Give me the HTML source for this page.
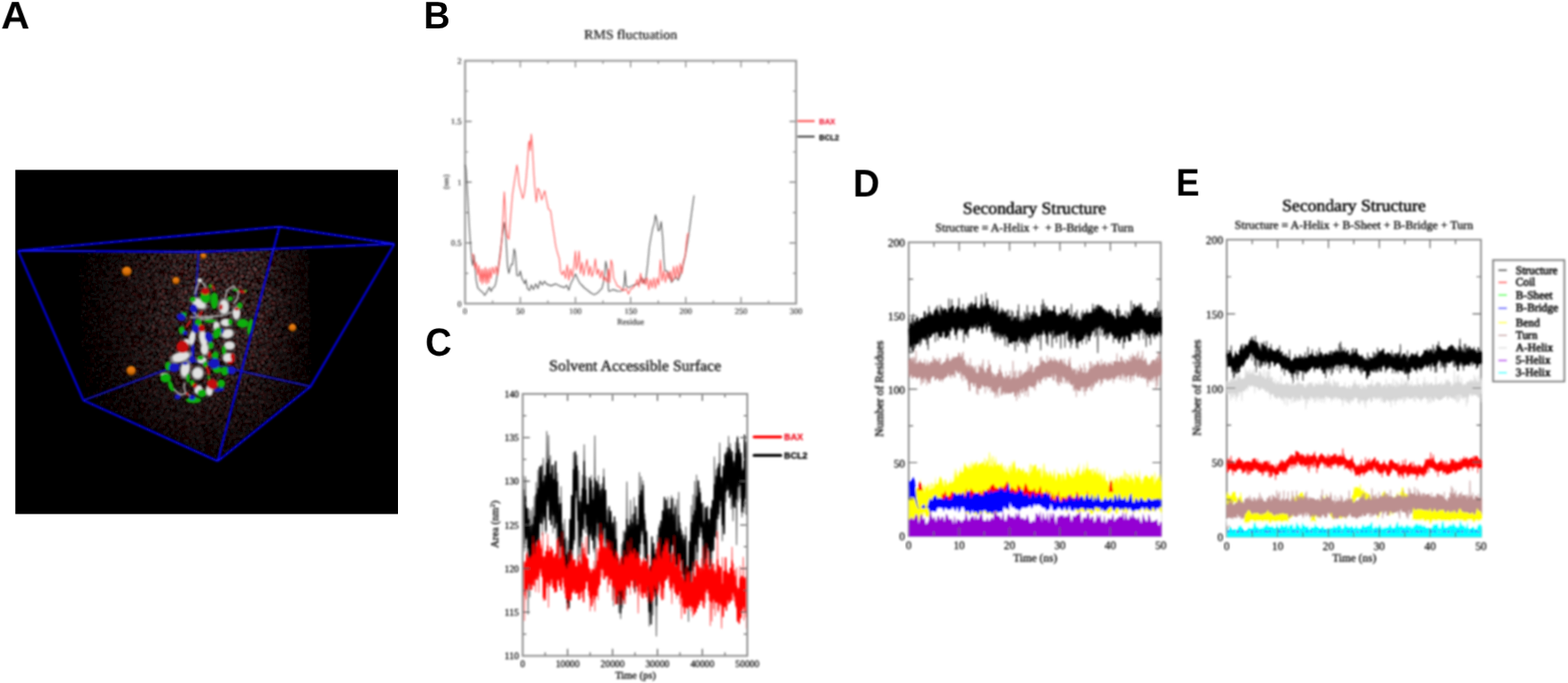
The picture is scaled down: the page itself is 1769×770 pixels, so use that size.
<!DOCTYPE html>
<html><head><meta charset="utf-8"><title>Figure</title>
<style>html,body{margin:0;padding:0;background:#fff}svg{display:block}</style></head>
<body>
<svg width="1769" height="770" viewBox="0 0 1769 770" text-rendering="geometricPrecision">
<defs><filter id="b" x="-5%" y="-5%" width="110%" height="110%"><feGaussianBlur stdDeviation="0.8"/></filter><filter id="bt" x="-10%" y="-20%" width="120%" height="140%"><feGaussianBlur stdDeviation="0.8"/></filter><filter id="b2" x="-5%" y="-5%" width="110%" height="110%"><feGaussianBlur stdDeviation="1.0"/></filter><filter id="b3" x="-5%" y="-5%" width="110%" height="110%"><feGaussianBlur stdDeviation="0.45"/></filter><clipPath id="wc"><polygon points="88,284 348,281 351,434 245.5,517 95.5,449"/></clipPath><filter id="wt" x="0" y="0" width="100%" height="100%" color-interpolation-filters="sRGB"><feTurbulence type="fractalNoise" baseFrequency="0.55" numOctaves="2" seed="5"/><feColorMatrix type="matrix" values="6 0 0 0 -3.25  0 6 0 0 -3.25  0 0 0 0 0  0 0 0 0 1"/><feColorMatrix type="matrix" values=".36 .4 0 0 .0  .03 .4 0 0 .0  .03 .4 0 0 .0  0 0 0 0 1"/></filter><linearGradient id="wg" x1="0" y1="0" x2="1" y2="0"><stop offset="0" stop-color="#000" stop-opacity=".75"/><stop offset=".35" stop-color="#000" stop-opacity=".2"/><stop offset=".55" stop-color="#000" stop-opacity="0"/><stop offset=".8" stop-color="#000" stop-opacity=".0"/><stop offset="1" stop-color="#000" stop-opacity=".55"/></linearGradient><radialGradient id="wr" gradientUnits="userSpaceOnUse" cx="215" cy="335" r="185"><stop offset="0" stop-color="#000" stop-opacity="0"/><stop offset=".45" stop-color="#000" stop-opacity=".12"/><stop offset=".8" stop-color="#000" stop-opacity=".5"/><stop offset="1" stop-color="#000" stop-opacity=".7"/></radialGradient><radialGradient id="og" cx=".5" cy=".25" r=".8"><stop offset="0" stop-color="#f08408"/><stop offset=".5" stop-color="#d87008"/><stop offset="1" stop-color="#6a3200"/></radialGradient></defs>
<rect width="1769" height="770" fill="#fff"/>
<text transform="translate(1.23 32.22) rotate(0.03) scale(1.024 1)" font-family='"Liberation Sans",sans-serif' font-weight="bold" font-size="43.59" fill="#000" filter="url(#b3)">A</text>
<text transform="translate(477.95 32.0) rotate(0.03) scale(0.9514 1)" font-family='"Liberation Sans",sans-serif' font-weight="bold" font-size="43.39" fill="#000" filter="url(#b3)">B</text>
<text transform="translate(479.76 400.87) rotate(0.03) scale(0.9341 1)" font-family='"Liberation Sans",sans-serif' font-weight="bold" font-size="44.23" fill="#000" filter="url(#b3)">C</text>
<text transform="translate(962.43 221.53) rotate(0.03) scale(0.9542 1)" font-family='"Liberation Sans",sans-serif' font-weight="bold" font-size="43.53" fill="#000" filter="url(#b3)">D</text>
<text transform="translate(1326.77 220.5) rotate(0.03) scale(0.9188 1)" font-family='"Liberation Sans",sans-serif' font-weight="bold" font-size="43.23" fill="#000" filter="url(#b3)">E</text>
<g id="panelA">
<rect x="17.3" y="191.5" width="431.7" height="388" fill="#000" filter="url(#b3)"/>
<g filter="url(#b)"><g clip-path="url(#wc)"><rect x="80" y="276" width="280" height="246" filter="url(#wt)"/><rect x="88" y="276" width="264" height="246" fill="url(#wg)"/><rect x="80" y="276" width="280" height="246" fill="url(#wr)"/></g></g>
<path d="M94.1 451.3L216.4 406M350.5 435.7L216.4 406M224 284L216.4 406" stroke="#1212c4" stroke-width="1.9" fill="none" filter="url(#b)"/>
<g filter="url(#b2)">
<circle cx="143" cy="306" r="5.6" fill="url(#og)"/>
<circle cx="198.5" cy="316.5" r="4.2" fill="url(#og)"/>
<circle cx="229.5" cy="288.5" r="3.4" fill="url(#og)"/>
<circle cx="330" cy="369.5" r="4.4" fill="url(#og)"/>
<circle cx="148" cy="418" r="5.4" fill="url(#og)"/>
</g>
<g filter="url(#b2)">
<polyline points="254.2,336 255.8,327.3 263.6,322.6 269.1,329.6 267.5,337.4 263.6,342.1" fill="none" stroke="#a4a4a4" stroke-width="2" stroke-linecap="round" stroke-linejoin="round"/>
<polyline points="225.4,316.4 222,324 219.9,331.2" fill="none" stroke="#a4a4a4" stroke-width="2" stroke-linecap="round" stroke-linejoin="round"/>
<polyline points="226,316 231,322 232,327" fill="none" stroke="#a4a4a4" stroke-width="2" stroke-linecap="round" stroke-linejoin="round"/>
<polyline points="215,358 232,357 250,356 262,352" fill="none" stroke="#a4a4a4" stroke-width="2" stroke-linecap="round" stroke-linejoin="round"/>
<polyline points="208.2,432.4 207.5,437 209,442" fill="none" stroke="#a4a4a4" stroke-width="2" stroke-linecap="round" stroke-linejoin="round"/>
<polyline points="196.5,438.7 201,443.4 205,445" fill="none" stroke="#a4a4a4" stroke-width="2" stroke-linecap="round" stroke-linejoin="round"/>
<polyline points="205,445 210,443 214,446" fill="none" stroke="#a4a4a4" stroke-width="2" stroke-linecap="round" stroke-linejoin="round"/>
<polyline points="218,352 228,360 240,358" fill="none" stroke="#a4a4a4" stroke-width="2" stroke-linecap="round" stroke-linejoin="round"/>
<ellipse cx="225.4" cy="316" rx="3" ry="2.5" fill="#808080"/>
<ellipse cx="224.6" cy="342.1" rx="10.6" ry="6.1" fill="#808080" transform="rotate(30 224.6 342.1)"/>
<ellipse cx="252.7" cy="346" rx="6.6" ry="10.1" fill="#808080"/>
<ellipse cx="266.7" cy="353" rx="5.1" ry="8.6" fill="#808080"/>
<ellipse cx="255" cy="363.7" rx="7.1" ry="5.1" fill="#808080"/>
<ellipse cx="244.1" cy="367.6" rx="4.1" ry="6.1" fill="#808080"/>
<ellipse cx="256.6" cy="376.2" rx="8.1" ry="6.1" fill="#808080" transform="rotate(-15 256.6 376.2)"/>
<ellipse cx="258.9" cy="389.5" rx="7.1" ry="5.6" fill="#808080"/>
<ellipse cx="258.1" cy="401.9" rx="7.1" ry="4.6" fill="#808080"/>
<ellipse cx="216.8" cy="380.9" rx="4.1" ry="10.1" fill="#808080" transform="rotate(10 216.8 380.9)"/>
<ellipse cx="229.3" cy="381.7" rx="5.1" ry="12.2" fill="#808080" transform="rotate(-10 229.3 381.7)"/>
<ellipse cx="230.8" cy="393.4" rx="5.1" ry="8.1" fill="#808080"/>
<ellipse cx="203.5" cy="401.2" rx="12.2" ry="5.1" fill="#808080" transform="rotate(-15 203.5 401.2)"/>
<ellipse cx="210.6" cy="385.6" rx="4.1" ry="4.1" fill="#808080"/>
<ellipse cx="204.3" cy="402.8" rx="13.2" ry="5.6" fill="#808080" transform="rotate(-20 204.3 402.8)"/>
<ellipse cx="209" cy="416.1" rx="6.1" ry="11.2" fill="#808080" transform="rotate(10 209 416.1)"/>
<ellipse cx="223" cy="420.7" rx="7.6" ry="8.1" fill="#808080" transform="rotate(20 223 420.7)"/>
<ellipse cx="257.4" cy="403.6" rx="7.1" ry="6.1" fill="#808080"/>
<ellipse cx="227.7" cy="405.9" rx="6.1" ry="4.6" fill="#808080"/>
<ellipse cx="223.8" cy="439.5" rx="5.1" ry="6.1" fill="#808080" transform="rotate(20 223.8 439.5)"/>
<ellipse cx="236.3" cy="440.2" rx="4.6" ry="7.1" fill="#808080"/>
<ellipse cx="185.6" cy="422.3" rx="5.1" ry="2.5" fill="#808080"/>
<ellipse cx="225.4" cy="316" rx="2.2" ry="1.9" fill="#e2e2e2"/>
<ellipse cx="224.6" cy="342.1" rx="7.8" ry="4.4" fill="#e2e2e2" transform="rotate(30 224.6 342.1)"/>
<ellipse cx="252.7" cy="346" rx="4.8" ry="7.4" fill="#e2e2e2"/>
<ellipse cx="266.7" cy="353" rx="3.7" ry="6.3" fill="#e2e2e2"/>
<ellipse cx="255" cy="363.7" rx="5.2" ry="3.7" fill="#e2e2e2"/>
<ellipse cx="244.1" cy="367.6" rx="3" ry="4.4" fill="#e2e2e2"/>
<ellipse cx="256.6" cy="376.2" rx="5.9" ry="4.4" fill="#e2e2e2" transform="rotate(-15 256.6 376.2)"/>
<ellipse cx="258.9" cy="389.5" rx="5.2" ry="4.1" fill="#e2e2e2"/>
<ellipse cx="258.1" cy="401.9" rx="5.2" ry="3.3" fill="#e2e2e2"/>
<ellipse cx="216.8" cy="380.9" rx="3" ry="7.4" fill="#e2e2e2" transform="rotate(10 216.8 380.9)"/>
<ellipse cx="229.3" cy="381.7" rx="3.7" ry="8.9" fill="#e2e2e2" transform="rotate(-10 229.3 381.7)"/>
<ellipse cx="230.8" cy="393.4" rx="3.7" ry="5.9" fill="#e2e2e2"/>
<ellipse cx="203.5" cy="401.2" rx="8.9" ry="3.7" fill="#e2e2e2" transform="rotate(-15 203.5 401.2)"/>
<ellipse cx="210.6" cy="385.6" rx="3" ry="3" fill="#e2e2e2"/>
<ellipse cx="204.3" cy="402.8" rx="9.6" ry="4.1" fill="#e2e2e2" transform="rotate(-20 204.3 402.8)"/>
<ellipse cx="209" cy="416.1" rx="4.4" ry="8.2" fill="#e2e2e2" transform="rotate(10 209 416.1)"/>
<ellipse cx="223" cy="420.7" rx="5.6" ry="5.9" fill="#e2e2e2" transform="rotate(20 223 420.7)"/>
<ellipse cx="257.4" cy="403.6" rx="5.2" ry="4.4" fill="#e2e2e2"/>
<ellipse cx="227.7" cy="405.9" rx="4.4" ry="3.3" fill="#e2e2e2"/>
<ellipse cx="223.8" cy="439.5" rx="3.7" ry="4.4" fill="#e2e2e2" transform="rotate(20 223.8 439.5)"/>
<ellipse cx="236.3" cy="440.2" rx="3.3" ry="5.2" fill="#e2e2e2"/>
<ellipse cx="185.6" cy="422.3" rx="3.7" ry="1.9" fill="#e2e2e2"/>
<ellipse cx="231.6" cy="335.1" rx="6" ry="6.9" fill="#0fae0f"/>
<ellipse cx="241.8" cy="339" rx="4.3" ry="9.4" fill="#0fae0f"/>
<ellipse cx="217.6" cy="337.4" rx="3.4" ry="3" fill="#0fae0f"/>
<ellipse cx="237.1" cy="322.6" rx="1.9" ry="2.4" fill="#0fae0f"/>
<ellipse cx="259.7" cy="336.7" rx="3" ry="2.6" fill="#0fae0f"/>
<ellipse cx="270.6" cy="344.5" rx="3" ry="3.4" fill="#0fae0f"/>
<ellipse cx="265.9" cy="326.9" rx="3.4" ry="1.3" fill="#0fae0f"/>
<ellipse cx="276.9" cy="328.1" rx="1.7" ry="1.7" fill="#0fae0f"/>
<ellipse cx="273.7" cy="364.5" rx="6.4" ry="5.1" fill="#0fae0f"/>
<ellipse cx="282.3" cy="368.4" rx="3" ry="9.4" fill="#0fae0f" transform="rotate(10 282.3 368.4)"/>
<ellipse cx="237.1" cy="361.8" rx="6.9" ry="2.1" fill="#0fae0f"/>
<ellipse cx="223.8" cy="363.7" rx="3.9" ry="4.3" fill="#0fae0f"/>
<ellipse cx="205.1" cy="372.3" rx="3.4" ry="4.3" fill="#0fae0f"/>
<ellipse cx="244.9" cy="375.4" rx="4.3" ry="6.9" fill="#0fae0f" transform="rotate(20 244.9 375.4)"/>
<ellipse cx="259.7" cy="362.9" rx="2.6" ry="3.4" fill="#0fae0f"/>
<ellipse cx="237.9" cy="389.5" rx="3" ry="3.9" fill="#0fae0f"/>
<ellipse cx="252.7" cy="394.9" rx="2.6" ry="5.1" fill="#0fae0f"/>
<ellipse cx="242.5" cy="401.2" rx="3.4" ry="3.4" fill="#0fae0f"/>
<ellipse cx="226.2" cy="403.1" rx="3.4" ry="2.1" fill="#0fae0f"/>
<ellipse cx="207.4" cy="354.4" rx="3.4" ry="2.6" fill="#0fae0f"/>
<ellipse cx="189.5" cy="412.6" rx="3.4" ry="5.1" fill="#0fae0f"/>
<ellipse cx="186.8" cy="426.2" rx="6" ry="5.1" fill="#0fae0f"/>
<ellipse cx="192.6" cy="434.8" rx="2.6" ry="6" fill="#0fae0f" transform="rotate(-15 192.6 434.8)"/>
<ellipse cx="195" cy="439.5" rx="2.6" ry="1.7" fill="#0fae0f"/>
<ellipse cx="226.2" cy="403.6" rx="3.4" ry="2.6" fill="#0fae0f"/>
<ellipse cx="243.3" cy="400.5" rx="3.4" ry="4.3" fill="#0fae0f"/>
<ellipse cx="244.9" cy="416.8" rx="5.1" ry="3.9" fill="#0fae0f"/>
<ellipse cx="253.5" cy="418.4" rx="4.3" ry="5.1" fill="#0fae0f"/>
<ellipse cx="249.6" cy="432.4" rx="4.3" ry="4.7" fill="#0fae0f"/>
<ellipse cx="212.1" cy="426.2" rx="2.1" ry="5.1" fill="#0fae0f"/>
<ellipse cx="216.8" cy="431.7" rx="2.6" ry="3.4" fill="#0fae0f"/>
<ellipse cx="227.7" cy="443.4" rx="5.1" ry="4.3" fill="#0fae0f"/>
<ellipse cx="218.4" cy="451.2" rx="8.6" ry="3.4" fill="#0fae0f"/>
<ellipse cx="231.6" cy="410.6" rx="2.6" ry="3.4" fill="#0fae0f"/>
<ellipse cx="235.5" cy="425.4" rx="1.3" ry="2.6" fill="#0fae0f"/>
<ellipse cx="218.4" cy="347.6" rx="3.9" ry="4.7" fill="#1212c0"/>
<ellipse cx="218.4" cy="348.1" rx="4.3" ry="4.3" fill="#1212c0"/>
<ellipse cx="204.3" cy="357.5" rx="5.1" ry="4.3" fill="#1212c0" transform="rotate(20 204.3 357.5)"/>
<ellipse cx="220.7" cy="370.7" rx="3.9" ry="5.1" fill="#1212c0"/>
<ellipse cx="235.5" cy="380.1" rx="4.3" ry="6" fill="#1212c0" transform="rotate(-20 235.5 380.1)"/>
<ellipse cx="209" cy="375.4" rx="2.6" ry="2.6" fill="#1212c0"/>
<ellipse cx="217.6" cy="394.9" rx="1.7" ry="6.9" fill="#1212c0"/>
<ellipse cx="251.1" cy="373.1" rx="1.3" ry="3.4" fill="#1212c0"/>
<ellipse cx="196.5" cy="414.5" rx="6" ry="5.1" fill="#1212c0"/>
<ellipse cx="241.8" cy="409.8" rx="6" ry="6" fill="#1212c0"/>
<ellipse cx="261.3" cy="417.6" rx="4.7" ry="4.7" fill="#1212c0"/>
<ellipse cx="247.2" cy="439.5" rx="6" ry="2.1" fill="#1212c0" transform="rotate(-10 247.2 439.5)"/>
<ellipse cx="200.4" cy="447.3" rx="3.4" ry="3" fill="#1212c0"/>
<ellipse cx="216.8" cy="448" rx="3.4" ry="3" fill="#1212c0"/>
<ellipse cx="216.8" cy="405.1" rx="3.4" ry="4.3" fill="#1212c0"/>
<ellipse cx="209" cy="409.8" rx="3" ry="1.7" fill="#1212c0"/>
<ellipse cx="231.6" cy="328.5" rx="4.7" ry="3.9" fill="#c40e0e"/>
<ellipse cx="273" cy="328.9" rx="3.9" ry="1.7" fill="#c40e0e" transform="rotate(15 273 328.9)"/>
<ellipse cx="241" cy="324.2" rx="1.3" ry="3.4" fill="#c40e0e" transform="rotate(-20 241 324.2)"/>
<ellipse cx="249.6" cy="346" rx="1.7" ry="3" fill="#c40e0e"/>
<ellipse cx="227.7" cy="370" rx="3.4" ry="3.9" fill="#c40e0e"/>
<ellipse cx="205.9" cy="391" rx="6.9" ry="6.9" fill="#c40e0e"/>
<ellipse cx="212.5" cy="365.3" rx="1.3" ry="5.1" fill="#c40e0e" transform="rotate(35 212.5 365.3)"/>
<ellipse cx="226.6" cy="353.6" rx="1.3" ry="4.3" fill="#c40e0e" transform="rotate(30 226.6 353.6)"/>
<ellipse cx="262" cy="401.6" rx="2.1" ry="3" fill="#c40e0e"/>
<ellipse cx="249.2" cy="347.3" rx="1.7" ry="2.1" fill="#c40e0e"/>
<ellipse cx="267.1" cy="348.5" rx="2.6" ry="1.7" fill="#c40e0e"/>
<ellipse cx="236.3" cy="399.6" rx="1.7" ry="3.4" fill="#c40e0e"/>
<ellipse cx="239.4" cy="433.2" rx="6" ry="5.6" fill="#c40e0e" transform="rotate(35 239.4 433.2)"/>
<ellipse cx="262.8" cy="403.6" rx="2.1" ry="5.1" fill="#c40e0e"/>
<ellipse cx="259.7" cy="408.7" rx="3.4" ry="1.7" fill="#c40e0e"/>
<ellipse cx="219.9" cy="434.8" rx="2.6" ry="2.6" fill="#c40e0e"/>
<ellipse cx="234.7" cy="417.6" rx="1.7" ry="5.1" fill="#c40e0e" transform="rotate(-15 234.7 417.6)"/>
<ellipse cx="236.3" cy="399.7" rx="1.7" ry="3.4" fill="#c40e0e"/>
<ellipse cx="211.3" cy="444.1" rx="1.7" ry="2.1" fill="#c40e0e"/>
<ellipse cx="206.7" cy="395" rx="5.1" ry="2.1" fill="#c40e0e"/>
</g>
<path d="M20.4 282.6L315.2 255.6M315.2 255.6L445 275M445 275L224 284M224 284L20.4 282.6M20.4 282.6L94.1 451.3M315.2 255.6L245.6 519.9M445 275L350.5 435.7M94.1 451.3L245.6 519.9M245.6 519.9L350.5 435.7" stroke="#0707e4" stroke-width="2.3" fill="none" stroke-linejoin="round" filter="url(#b)"/>
</g>
<g id="panelB" filter="url(#b)">
<path d="M555.8 342.3v-3.5M555.8 68.5v3.5M587 342.3v-7.5M587 68.5v7.5M618.1 342.3v-3.5M618.1 68.5v3.5M649.2 342.3v-7.5M649.2 68.5v7.5M680.3 342.3v-3.5M680.3 68.5v3.5M711.5 342.3v-7.5M711.5 68.5v7.5M742.6 342.3v-3.5M742.6 68.5v3.5M773.7 342.3v-7.5M773.7 68.5v7.5M804.8 342.3v-3.5M804.8 68.5v3.5M836 342.3v-7.5M836 68.5v7.5M867.1 342.3v-3.5M867.1 68.5v3.5M524.7 308.1h3.5M898.2 308.1h-3.5M524.7 273.9h7.5M898.2 273.9h-7.5M524.7 239.6h3.5M898.2 239.6h-3.5M524.7 205.4h7.5M898.2 205.4h-7.5M524.7 171.2h3.5M898.2 171.2h-3.5M524.7 136.9h7.5M898.2 136.9h-7.5M524.7 102.7h3.5M898.2 102.7h-3.5" stroke="#6a6a6a" stroke-width="1.1" fill="none"/>
<rect x="524.7" y="68.5" width="373.5" height="273.8" fill="none" stroke="#949494" stroke-width="2.1"/>
<polyline points="524.7,185.7 525.9,191.7 527.8,225.9 529.7,260.2 532.2,293 533.4,299.5 534.7,287.5 535.9,300.3 537.2,315.9 539,324.6 542.1,327.7 544.6,329.6 546.9,333 549.6,328.6 552.1,323.8 554,328.5 555.8,324.9 558.3,322.6 559.6,318.2 562.1,302.5 565,279.3 567,262.9 568.9,250.6 570.8,267 572.6,300.3 574.1,308.2 575.7,301.6 576.7,298.1 578.2,298.3 580.1,280.7 581.3,284.8 583.2,310.6 585.7,310.7 587,305.5 588.8,313.7 591.9,319.8 593.2,315.4 595,325.2 597.5,327.4 599.4,321.3 601.9,326.4 604.4,320 606.9,325.2 609.4,317 611.9,321.3 614.3,317.1 616.8,320.4 621.8,322.1 626.8,320.1 631.8,322.6 636.8,324.1 639.2,321.6 641.7,327.1 644.2,319.2 646.7,314.4 649.2,308.8 651.7,314.6 654.2,319.3 656,321 659.2,324.5 662.9,327.3 666.6,330.3 670.4,332.2 674.1,330.3 676.6,327.7 679.1,325.1 681.6,315.1 683.4,294.6 685.3,304.7 686.6,328.1 687.8,328.3 691.5,326.4 696.5,328.1 700.2,328.2 702.7,326.9 704.4,318.7 705.2,305.2 706.5,322.5 709,324.2 713.9,321.9 717.7,320.6 721.4,319.2 723.9,312.9 726.4,319.2 728.9,312.7 730.7,297.9 732.6,278 734.5,267 736.4,257.4 738.2,251.9 739.5,242.4 741.3,249.2 742.6,260.2 744.4,258.8 745.9,249.9 747.6,267 748.8,290.3 750,305.3 752.5,305.4 755,309.3 757.5,318.3 760,315.2 762.5,311.8 765,316 767.5,310.3 770,301.4 772,293 773.7,284.8 775.6,273.9 777.1,264.3 778.7,251.9 780.5,238.3 783,220.5" fill="none" stroke="#3c3c3c" stroke-width="1.15" stroke-linejoin="round" opacity="0.85"/>
<polyline points="533.4,285.8 534.7,292.9 535.9,303 537.2,295.8 539,309.7 540.3,299.4 541.5,317.4 542.8,303.7 544,320.2 545.2,303.4 546.5,318.1 547.7,301.4 549,320.2 550.2,303.5 551.5,318.6 552.7,302.1 554,313.8 555.8,301.2 557.7,308.9 559.6,300.2 561.4,309.8 562.5,301.6 564.5,287.3 566.4,267 567.7,239.6 568.9,216.4 569.9,232.8 571,257.4 572.6,267 574.1,269.7 575.7,249.2 578.2,219.1 580.7,202.7 583.2,186.2 584.5,194.4 585.7,208.1 587.6,215 589.8,223.9 591.3,219.1 593.2,205.4 595,184.9 596.3,161.6 597.3,158.9 598.2,169.8 599.4,151.3 600.6,164.3 601.9,189 603.1,208.1 605.1,228 606.9,212.2 608.7,215 611.2,225.3 613.1,219.1 614.6,215 615.8,221.8 617.1,228 618.7,235.5 621.2,237.6 622.4,246.5 623.7,256.1 625.5,267 626.8,276.6 628.7,284.3 629.5,286.9 631.1,292 632.4,305.9 634.3,309.7 636.1,305 638,314 639.9,298.5 641.7,316 643.6,303.1 645.5,312.2 647.3,301.4 649.2,283.2 650.4,304 651.7,297.7 653.3,283 654.8,308.2 656.7,295.9 658.5,311 660.4,300.9 662.3,292.6 664.1,310.3 666,300 667.9,311.9 669.7,306 671.6,291.8 673.5,309.4 675.3,303.4 677.2,313.5 679.1,305.2 680.9,316 682.8,312.7 684.7,317.9 686.6,303.6 687.8,318.5 689.4,293.1 690.9,298 692.2,313.3 694,316.9 696.5,322.6 699,323.3 701.5,326.4 704,327.6 706.5,325.4 709,331.5 711.5,326 713.9,324.9 716.4,321.6 718.9,315.1 720.8,323.5 722.7,308.2 724.5,319.8 726.4,314.4 728.3,321.1 730.1,313.4 732,326.6 733.9,315.2 735.7,324.4 737.6,313.4 739.5,325.1 741.3,313.4 743.2,321.4 745.1,293.1 746.9,316.6 748.8,305.7 750.7,318.3 752.5,307.1 754.4,314.3 756.3,305.6 758.1,317.1 760,300.4 761.9,313.9 763.7,299.5 765.6,313.2 767.5,297 769.3,308.2 771.2,293.6 773.1,288.8 774.3,273.9 775.6,264.3 776.6,262.9" fill="none" stroke="#ff4040" stroke-width="1.2" stroke-linejoin="round" opacity="0.8"/>
<path d="M899.5 136.5h19.5" stroke="#ff5050" stroke-width="2.2"/>
<path d="M899.5 154h19.5" stroke="#444" stroke-width="2.2"/>
</g>
<g id="panelC" filter="url(#b)">
<polyline points="590.7,536.3 591.7,621.4 592.7,537.4 593.7,608 594.7,574.3 595.7,692.3 596.7,573.5 597.7,672.9 598.7,575.7 599.7,641 600.8,572 601.8,646 602.8,559.6 603.8,634 604.8,543.9 605.8,621.6 606.8,530 607.8,595 608.8,539.6 609.8,589.8 610.8,524 611.8,603.2 612.8,516.6 613.8,586.3 614.8,549.5 615.8,601.4 616.8,486.4 617.8,569.7 618.9,491 619.9,565.8 620.9,513.7 621.9,576 622.9,528.7 623.9,600.8 624.9,523.8 625.9,582.9 626.9,543.3 627.9,607.9 628.9,533.3 629.9,630.2 630.9,560.3 631.9,642.4 632.9,548.7 633.9,640.6 634.9,590.2 635.9,646 637,585.5 638,652.1 639,606 640,686.5 641,609.4 642,670.1 643,590.6 644,641.6 645,566.1 646,637.1 647,510.3 648,613.1 649,512.8 650,561.1 651,512.8 652,638.7 653,530.7 654,627.2 655.1,559.6 656.1,647.8 657.1,536 658.1,590.8 659.1,501.4 660.1,600 661.1,537.3 662.1,601.2 663.1,568.7 664.1,618.6 665.1,555.2 666.1,604.9 667.1,536 668.1,589 669.1,549.6 670.1,622.1 671.1,491.4 672.1,642.7 673.2,542.5 674.2,605.9 675.2,536.3 676.2,613.6 677.2,546.8 678.2,598.8 679.2,545.5 680.2,611 681.2,528.7 682.2,627.8 683.2,556.5 684.2,632.8 685.2,575 686.2,626.6 687.2,576 688.2,635.1 689.2,584.7 690.2,638.7 691.3,588.9 692.3,683 693.3,586.9 694.3,671.4 695.3,588.3 696.3,672.6 697.3,635.5 698.3,690.8 699.3,633.6 700.3,697.3 701.3,613.6 702.3,685.1 703.3,598.6 704.3,680.4 705.3,598 706.3,671.1 707.3,543.5 708.3,646.8 709.4,591.6 710.4,631.9 711.4,563.9 712.4,632.4 713.4,580.5 714.4,643.6 715.4,560.9 716.4,640.4 717.4,599.7 718.4,646.2 719.4,585.3 720.4,658.7 721.4,532.8 722.4,624.8 723.4,537.6 724.4,602.5 725.5,542.2 726.5,653.8 727.5,579.3 728.5,627.3 729.5,597.8 730.5,665.4 731.5,648.3 732.5,705.8 733.5,640 734.5,694.6 735.5,619.9 736.5,693.3 737.5,623.2 738.5,671.7 739.5,619.6 740.5,717 741.5,603.1 742.5,665.7 743.6,591.3 744.6,649 745.6,593 746.6,647.9 747.6,580.5 748.6,653.9 749.6,578.5 750.6,634.8 751.6,570 752.6,633.4 753.6,560.4 754.6,632.6 755.6,573.5 756.6,621.5 757.6,558.8 758.6,613.5 759.6,561.9 760.6,658.7 761.7,569.2 762.7,650.8 763.7,563.2 764.7,659 765.7,555.1 766.7,655.8 767.7,589.5 768.7,647.4 769.7,598.8 770.7,662.7 771.7,603 772.7,668.4 773.7,594.1 774.7,680.1 775.7,638.3 776.7,700.5 777.7,620.2 778.7,670 779.8,569.8 780.8,659.8 781.8,557.9 782.8,655.3 783.8,542.7 784.8,638.3 785.8,535.7 786.8,644.9 787.8,541.4 788.8,589.1 789.8,550.2 790.8,600.2 791.8,566.1 792.8,649.8 793.8,567 794.8,631.2 795.8,574 796.8,633.5 797.9,570.4 798.9,621.8 799.9,592.3 800.9,665 801.9,571.3 802.9,643.5 803.9,566.7 804.9,621 805.9,515.2 806.9,597.2 807.9,529.4 808.9,607.6 809.9,523.1 810.9,584.8 811.9,499.4 812.9,571.1 813.9,541.7 814.9,609.7 816,528.6 817,596.9 818,510.7 819,566 820,504.8 821,551.2 822,492 823,559.9 824,500.1 825,573.6 826,514.5 827,587.2 828,519.4 829,561.8 830,498.7 831,614.1 832,491.9 833,565.5 834.1,500 835.1,561.6 836.1,518.5 837.1,582.8 838.1,527.7 839.1,578.1 840.1,501.7 841.1,559.2 842.1,501.8 842.1,572.8" fill="none" stroke="#000" stroke-width="1.3" stroke-linejoin="round" opacity=".55"/>
<polyline points="590.7,551.7 591.7,613.5 592.7,559.9 593.7,606.2 594.7,573.1 595.7,617.6 596.7,585.6 597.7,645.8 598.7,593 599.7,636.6 600.8,591.6 601.8,631.4 602.8,582.5 603.8,628.6 604.8,557.4 605.8,610.8 606.8,550.7 607.8,614.9 608.8,526.6 609.8,589.4 610.8,525.7 611.8,590.4 612.8,543.1 613.8,582.4 614.8,536.4 615.8,597.9 616.8,522.4 617.8,564.8 618.9,518.1 619.9,586.1 620.9,534.4 621.9,591.4 622.9,524.9 623.9,580.7 624.9,540.5 625.9,594.9 626.9,520.4 627.9,589.6 628.9,543.2 629.9,610.3 630.9,568.6 631.9,616 632.9,567.7 633.9,621.5 634.9,598.9 635.9,646.9 637,608.1 638,660.3 639,625.6 640,679.5 641,623.1 642,685.3 643,585.8 644,633.1 645,558.7 646,619.2 647,529.5 648,608.5 649,509.2 650,552.7 651,525.5 652,586.7 653,565.2 654,616.1 655.1,566 656.1,604.9 657.1,550.9 658.1,596.3 659.1,520.3 660.1,579.2 661.1,552.5 662.1,592.8 663.1,568.8 664.1,624.6 665.1,538.9 666.1,602 667.1,542.1 668.1,608.8 669.1,563.2 670.1,618.3 671.1,539.3 672.1,603.9 673.2,542.9 674.2,589.6 675.2,545.6 676.2,609.2 677.2,553.2 678.2,603.2 679.2,551.2 680.2,607.3 681.2,538.1 682.2,595.3 683.2,552.9 684.2,611.2 685.2,589.2 686.2,646 687.2,571.3 688.2,620.7 689.2,576.5 690.2,635.2 691.3,589.9 692.3,654 693.3,582.8 694.3,662.7 695.3,608 696.3,680.6 697.3,629.2 698.3,669.7 699.3,637.2 700.3,691.1 701.3,629.4 702.3,673.4 703.3,610.9 704.3,662.3 705.3,600.8 706.3,655.9 707.3,585.6 708.3,639 709.4,592.8 710.4,629.3 711.4,586 712.4,636.7 713.4,589.8 714.4,642.7 715.4,579.6 716.4,667 717.4,571.3 718.4,639.5 719.4,591.7 720.4,641.6 721.4,558.2 722.4,612.5 723.4,553.3 724.4,598.4 725.5,547.1 726.5,613.1 727.5,586.6 728.5,629.3 729.5,600.1 730.5,654.3 731.5,647.3 732.5,689.7 733.5,638.6 734.5,703.4 735.5,605.2 736.5,671.7 737.5,612.7 738.5,666.6 739.5,624.8 740.5,682.5 741.5,619.5 742.5,664.3 743.6,595 744.6,635.7 745.6,587.6 746.6,639.7 747.6,576 748.6,621 749.6,560.8 750.6,653.8 751.6,564.1 752.6,612.2 753.6,573.9 754.6,623.5 755.6,573.9 756.6,644.8 757.6,562.3 758.6,614.3 759.6,580 760.6,626.7 761.7,572.4 762.7,636.2 763.7,599.4 764.7,670.2 765.7,581.4 766.7,634.2 767.7,596.4 768.7,631.1 769.7,603.5 770.7,647.4 771.7,608 772.7,664.2 773.7,604.1 774.7,680.4 775.7,640.5 776.7,679.7 777.7,610.6 778.7,661.7 779.8,589.3 780.8,643.1 781.8,580.7 782.8,638.5 783.8,576 784.8,613.7 785.8,560.1 786.8,622.1 787.8,542.9 788.8,605.2 789.8,555.5 790.8,594.2 791.8,568 792.8,606.9 793.8,588.9 794.8,638.5 795.8,572.5 796.8,629.4 797.9,571.7 798.9,617.5 799.9,585.8 800.9,637.9 801.9,573.7 802.9,621.5 803.9,564.2 804.9,619.8 805.9,546.4 806.9,604.9 807.9,537 808.9,584.7 809.9,527.3 810.9,579.4 811.9,522.9 812.9,564.3 813.9,538.2 814.9,591.8 816,525.6 817,601.7 818,512.8 819,554.1 820,510.1 821,552.3 822,504.9 823,560.8 824,506.7 825,557.2 826,509.4 827,570.7 828,521.3 829,571.9 830,511.4 831,562.6 832,493.9 833,548.5 834.1,506.7 835.1,546.7 836.1,510.9 837.1,576.9 838.1,530.3 839.1,570.9 840.1,490.5 841.1,562.1 842.1,498.5 842.1,580.6" fill="none" stroke="#000" stroke-width="1.6" stroke-linejoin="round"/>
<polyline points="590.7,636.9 591.6,699.6 592.5,632.6 593.4,675.2 594.3,623.1 595.2,665.6 596.1,628.8 597,659.6 597.9,629.7 598.8,664.3 599.7,626.9 600.6,664.3 601.6,605.2 602.5,653.3 603.4,611.9 604.3,667.1 605.2,621.5 606.1,648.7 607,613.3 607.9,667.7 608.8,607.8 609.7,645 610.6,614.8 611.5,648.6 612.4,601 613.3,677.1 614.2,635.1 615.1,669 616,626.5 616.9,662.3 617.8,602.6 618.7,684.5 619.6,623.9 620.5,660.7 621.4,624.7 622.3,657.9 623.3,628 624.2,661 625.1,625.6 626,660.1 626.9,624.3 627.8,662 628.7,623.7 629.6,654.4 630.5,606.5 631.4,658.4 632.3,632.2 633.2,659.4 634.1,600.2 635,656.9 635.9,618.5 636.8,668.8 637.7,632.3 638.6,667.9 639.5,636.3 640.4,688.4 641.3,624.4 642.2,670.3 643.2,620.5 644.1,676.7 645,624.1 645.9,661.6 646.8,631.1 647.7,668.2 648.6,639.3 649.5,668.4 650.4,639.9 651.3,668.3 652.2,627.5 653.1,670.2 654,625.5 654.9,674.8 655.8,638.1 656.7,673.3 657.6,612.9 658.5,668.6 659.4,617.4 660.3,661.7 661.2,605.5 662.1,655.5 663,635.4 663.9,671.4 664.9,639.7 665.8,688.7 666.7,642.7 667.6,674.2 668.5,641.2 669.4,679.3 670.3,632.6 671.2,688.8 672.1,637.6 673,671.6 673.9,618.4 674.8,676 675.7,618.5 676.6,650.7 677.5,590.7 678.4,649.9 679.3,599.2 680.2,652.5 681.1,616.1 682,648.6 682.9,616.8 683.8,649.8 684.7,608.8 685.6,667.3 686.6,609.4 687.5,657.4 688.4,610.9 689.3,653.2 690.2,611.9 691.1,676.6 692,626.4 692.9,664 693.8,619.8 694.7,670.6 695.6,625.1 696.5,661 697.4,625.6 698.3,680.4 699.2,630.7 700.1,673.3 701,637.8 701.9,680.3 702.8,635.3 703.7,671.2 704.6,621.2 705.5,680.4 706.5,626.7 707.4,656.5 708.3,610.6 709.2,660.9 710.1,612.8 711,670 711.9,607.2 712.8,653.4 713.7,627.6 714.6,663.4 715.5,621.6 716.4,669 717.3,621.6 718.2,659 719.1,631.8 720,691 720.9,629.7 721.8,670.5 722.7,630.5 723.6,673.1 724.5,639.9 725.4,669.8 726.3,637.4 727.2,665.3 728.2,633.7 729.1,663.4 730,632.8 730.9,678 731.8,626.1 732.7,672.2 733.6,642.6 734.5,679.3 735.4,636.7 736.3,674.7 737.2,631.2 738.1,673.1 739,632 739.9,661.9 740.8,617.8 741.7,670.7 742.6,613.9 743.5,656.5 744.4,607.1 745.3,673.1 746.2,623.1 747.1,657.8 748.1,617.7 749,675.2 749.9,620.8 750.8,647.6 751.7,607.5 752.6,648 753.5,608.4 754.4,657.1 755.3,627.1 756.2,665.8 757.1,633.8 758,680.5 758.9,622.9 759.8,663.3 760.7,604.5 761.6,661.6 762.5,639.8 763.4,674.8 764.3,641 765.2,671 766.1,633.7 767,680.9 767.9,643.8 768.8,697.3 769.8,631.5 770.7,684.8 771.6,655.9 772.5,685.9 773.4,641.1 774.3,684.7 775.2,638.3 776.1,682 777,644.5 777.9,677.2 778.8,647.2 779.7,688.8 780.6,656.5 781.5,695.3 782.4,634.7 783.3,691.7 784.2,651.2 785.1,678.9 786,646.2 786.9,678.1 787.8,640.4 788.7,682.1 789.6,643.7 790.5,672.2 791.5,629.7 792.4,682.8 793.3,616.8 794.2,669.5 795.1,636 796,679.3 796.9,613.7 797.8,668.5 798.7,621.2 799.6,676.4 800.5,648.1 801.4,705.3 802.3,631.1 803.2,700.2 804.1,639.6 805,686.3 805.9,636 806.8,694 807.7,643.2 808.6,677.9 809.5,599.6 810.4,690 811.4,647.3 812.3,682.5 813.2,655.3 814.1,708.2 815,628.5 815.9,686.3 816.8,646.7 817.7,684.1 818.6,637.1 819.5,686 820.4,642.8 821.3,681.5 822.2,652 823.1,680.2 824,640.8 824.9,677.3 825.8,616.8 826.7,676.3 827.6,635.7 828.5,678.1 829.4,642.3 830.3,685.1 831.2,640 832.1,698.1 833.1,663.8 834,700.8 834.9,638.3 835.8,697.3 836.7,650.6 837.6,690.5 838.5,628.2 839.4,699 840.3,652.2 841.2,688.6 842.1,638.1 842.1,708.4" fill="none" stroke="#f00" stroke-width="1.3" stroke-linejoin="round" opacity=".55"/>
<polyline points="590.7,632.8 591.6,670.9 592.5,634.6 593.4,665.9 594.3,625.6 595.2,663.4 596.1,629 597,657.5 597.9,629 598.8,664.4 599.7,627 600.6,658.8 601.6,613.9 602.5,659.9 603.4,625.4 604.3,652.6 605.2,616.2 606.1,653.3 607,610.2 607.9,649.6 608.8,610.4 609.7,641 610.6,618.7 611.5,649.8 612.4,627.8 613.3,673.8 614.2,627.7 615.1,676.1 616,621.8 616.9,656.3 617.8,615.2 618.7,657.2 619.6,622.1 620.5,660.3 621.4,616.7 622.3,652.7 623.3,620.1 624.2,662.6 625.1,628.5 626,667.4 626.9,624.8 627.8,666.7 628.7,609.3 629.6,652.9 630.5,630.9 631.4,660.5 632.3,629.3 633.2,665.1 634.1,616.5 635,650.6 635.9,627.1 636.8,661.3 637.7,638.5 638.6,674.3 639.5,641.2 640.4,675.2 641.3,636.3 642.2,676.5 643.2,633.2 644.1,676 645,626.8 645.9,667.8 646.8,632.1 647.7,664.7 648.6,631.3 649.5,669.1 650.4,638.9 651.3,668.3 652.2,634.1 653.1,675.6 654,632.8 654.9,667.9 655.8,636.2 656.7,666 657.6,618.7 658.5,678.4 659.4,624.9 660.3,663.5 661.2,628.4 662.1,655.2 663,630.1 663.9,665.8 664.9,641.9 665.8,673.9 666.7,646 667.6,683 668.5,642.2 669.4,670.7 670.3,642.9 671.2,675.2 672.1,640.7 673,671.6 673.9,632.8 674.8,662.6 675.7,622.6 676.6,659.2 677.5,602.9 678.4,641.3 679.3,604 680.2,641.9 681.1,617.6 682,652.8 682.9,617.8 683.8,649.3 684.7,618.4 685.6,649.1 686.6,612.7 687.5,658.9 688.4,620.5 689.3,652.4 690.2,622 691.1,661.5 692,627.6 692.9,660 693.8,630.2 694.7,680.7 695.6,623.3 696.5,671.2 697.4,633 698.3,665.5 699.2,638 700.1,666 701,628.4 701.9,664.8 702.8,637.2 703.7,675.9 704.6,628.8 705.5,664.4 706.5,626.2 707.4,659.7 708.3,628.9 709.2,662.5 710.1,625.5 711,660.5 711.9,621.9 712.8,654.2 713.7,624.6 714.6,661.4 715.5,619.5 716.4,653.3 717.3,630.3 718.2,660.7 719.1,623.9 720,666.2 720.9,629.5 721.8,658 722.7,638.3 723.6,667.4 724.5,633.8 725.4,673.9 726.3,630.4 727.2,668.3 728.2,632.8 729.1,673 730,634.2 730.9,660.4 731.8,641.6 732.7,667.3 733.6,644.4 734.5,676.2 735.4,638.9 736.3,676.2 737.2,631.9 738.1,659.8 739,629.9 739.9,663.7 740.8,632.4 741.7,668.5 742.6,612.5 743.5,654.9 744.4,627.4 745.3,659.1 746.2,630.2 747.1,675.9 748.1,622.5 749,662.3 749.9,615 750.8,654.1 751.7,611 752.6,652.2 753.5,623 754.4,648.8 755.3,625.9 756.2,662.6 757.1,634.6 758,661.6 758.9,625.3 759.8,657.1 760.7,628.9 761.6,667.9 762.5,639.3 763.4,670.2 764.3,637.4 765.2,669.9 766.1,625.5 767,666.2 767.9,644.4 768.8,673.7 769.8,650.8 770.7,683 771.6,654.4 772.5,691.6 773.4,656.2 774.3,684.5 775.2,648.2 776.1,685.9 777,645.5 777.9,683.2 778.8,656.9 779.7,683.1 780.6,656.7 781.5,684.4 782.4,646 783.3,692.5 784.2,650.2 785.1,689.8 786,632.9 786.9,685.5 787.8,637.3 788.7,681.3 789.6,640.2 790.5,676.7 791.5,640.5 792.4,676.9 793.3,642.2 794.2,685.3 795.1,636.2 796,667 796.9,631.5 797.8,664.2 798.7,637.3 799.6,668.8 800.5,642.3 801.4,677.7 802.3,641.2 803.2,678.9 804.1,636 805,675.8 805.9,643.9 806.8,678.8 807.7,646.5 808.6,679 809.5,631.2 810.4,687.6 811.4,637.8 812.3,679.9 813.2,639.8 814.1,681.7 815,658.9 815.9,695.1 816.8,644.4 817.7,683.8 818.6,628.7 819.5,688.1 820.4,645.3 821.3,676.2 822.2,646.9 823.1,679.3 824,640.7 824.9,676.6 825.8,632.2 826.7,668.1 827.6,643.7 828.5,671.9 829.4,649.7 830.3,682.6 831.2,661 832.1,700.5 833.1,663.5 834,702.7 834.9,652 835.8,695.7 836.7,649.9 837.6,686.3 838.5,650.3 839.4,683.9 840.3,652.1 841.2,689.6 842.1,650.7 842.1,696.1" fill="none" stroke="#f00" stroke-width="1.6" stroke-linejoin="round"/>
<path d="M615 739.4v-4M615 444.1v4M640.4 739.4v-8M640.4 444.1v8M665.7 739.4v-4M665.7 444.1v4M691.1 739.4v-8M691.1 444.1v8M716.4 739.4v-4M716.4 444.1v4M741.7 739.4v-8M741.7 444.1v8M767.1 739.4v-4M767.1 444.1v4M792.4 739.4v-8M792.4 444.1v8M817.8 739.4v-4M817.8 444.1v4M589.7 714.8h4M843.1 714.8h-4M589.7 690.2h8M843.1 690.2h-8M589.7 665.6h4M843.1 665.6h-4M589.7 641h8M843.1 641h-8M589.7 616.4h4M843.1 616.4h-4M589.7 591.8h8M843.1 591.8h-8M589.7 567.1h4M843.1 567.1h-4M589.7 542.5h8M843.1 542.5h-8M589.7 517.9h4M843.1 517.9h-4M589.7 493.3h8M843.1 493.3h-8M589.7 468.7h4M843.1 468.7h-4" stroke="#555" stroke-width="1.3" fill="none"/>
<rect x="589.7" y="444.1" width="253.4" height="295.3" fill="none" stroke="#8c8c8c" stroke-width="2"/>
<path d="M850.8 492.6h30" stroke="#f00" stroke-width="3.4" stroke-linecap="round"/>
<path d="M850.8 513.4h30" stroke="#000" stroke-width="3.4" stroke-linecap="round"/>
</g>
<g id="panelD" filter="url(#b)">
<rect x="1025.2" y="273.2" width="284.4" height="331.1" fill="none" stroke="#8a8a8a" stroke-width="1.9"/>
<polygon points="1025.4,548 1026.7,551.3 1028,552.4 1029.3,553.6 1030.6,545.7 1031.9,548.9 1033.2,553 1034.6,551.4 1035.9,554.2 1037.2,544.6 1038.5,539.3 1039.8,554.3 1041.1,546.7 1042.4,546.3 1043.7,547.2 1045,555 1046.3,545.3 1047.6,544.9 1048.9,548.9 1050.2,543.8 1051.5,544.4 1052.9,546.2 1054.2,545.7 1055.5,536.4 1056.8,546.9 1058.1,550.1 1059.4,537.7 1060.7,543.4 1062,540.1 1063.3,547.3 1064.6,541.4 1065.9,540.6 1067.2,539.7 1068.5,545.2 1069.8,547.6 1071.2,544.2 1072.5,538.5 1073.8,542.7 1075.1,545.2 1076.4,526.6 1077.7,544.7 1079,535.6 1080.3,537.6 1081.6,531.8 1082.9,530.7 1084.2,525.1 1085.5,535.6 1086.8,533 1088.2,532.5 1089.5,531.2 1090.8,523.6 1092.1,527.8 1093.4,522.3 1094.7,525.9 1096,518.6 1097.3,524.9 1098.6,520.2 1099.9,524.2 1101.2,526.2 1102.5,518.6 1103.8,523.7 1105.1,524.1 1106.5,522.7 1107.8,519.6 1109.1,523.8 1110.4,516.4 1111.7,516.3 1113,525 1114.3,521.9 1115.6,510.6 1116.9,509.3 1118.2,519.8 1119.5,514.6 1120.8,513.5 1122.1,523.1 1123.5,513.5 1124.8,521.6 1126.1,528.1 1127.4,527 1128.7,528.8 1130,524.4 1131.3,530.4 1132.6,525.9 1133.9,524.1 1135.2,527.7 1136.5,529.4 1137.8,525.2 1139.1,524.4 1140.4,526 1141.8,518.4 1143.1,532.4 1144.4,531.7 1145.7,525.7 1147,528.2 1148.3,528.6 1149.6,529.6 1150.9,533 1152.2,534.3 1153.5,528.2 1154.8,537 1156.1,528.1 1157.4,532.8 1158.7,532.1 1160.1,532.3 1161.4,524.6 1162.7,521.9 1164,525.1 1165.3,524.2 1166.6,525 1167.9,529.4 1169.2,528.8 1170.5,531.6 1171.8,529.7 1173.1,527.5 1174.4,527.6 1175.7,530.8 1177.1,522.4 1178.4,522.3 1179.7,531.4 1181,531.9 1182.3,541 1183.6,536.2 1184.9,538.3 1186.2,536 1187.5,535.8 1188.8,530.1 1190.1,528.2 1191.4,546.3 1192.7,528.9 1194,537.1 1195.4,537.1 1196.7,536.3 1198,533.2 1199.3,536.3 1200.6,534.2 1201.9,538.5 1203.2,525.7 1204.5,528.4 1205.8,534.4 1207.1,536.7 1208.4,536.2 1209.7,526.3 1211,534.7 1212.3,529.6 1213.7,533.3 1215,540.1 1216.3,525.9 1217.6,521.3 1218.9,536.7 1220.2,532.3 1221.5,529.3 1222.8,522.1 1224.1,531.4 1225.4,527 1226.7,518.5 1228,528.4 1229.3,530.2 1230.7,528.5 1232,529.3 1233.3,527.9 1234.6,527.7 1235.9,533 1237.2,526.2 1238.5,527.4 1239.8,539.4 1241.1,527.6 1242.4,533 1243.7,540.3 1245,533 1246.3,529.3 1247.6,542.5 1249,541.8 1250.3,546.8 1251.6,532.9 1252.9,536.3 1254.2,547.2 1255.5,537.5 1256.8,537.3 1258.1,541.9 1259.4,540.7 1260.7,534.9 1262,540.2 1263.3,539.9 1264.6,534.7 1266,537.8 1267.3,536 1268.6,528.6 1269.9,532.7 1271.2,534.2 1272.5,534 1273.8,535.4 1275.1,536.8 1276.4,531.3 1277.7,542.1 1279,542.7 1280.3,529 1281.6,539.1 1282.9,540.5 1284.3,535.4 1285.6,528.4 1286.9,540 1288.2,540.5 1289.5,541.4 1290.8,535.1 1292.1,540.8 1293.4,533 1294.7,545.6 1296,540 1297.3,539.9 1298.6,533.5 1299.9,544.4 1301.2,544.8 1302.6,530.6 1303.9,535.1 1305.2,541.9 1306.5,538.8 1307.8,533.7 1309.1,538.7 1310.4,533.2 1310.4,579.2 1309.1,578.9 1307.8,578.8 1306.5,578.5 1305.2,580.5 1303.9,579.4 1302.6,580.6 1301.2,583.4 1299.9,579.7 1298.6,578.8 1297.3,579.3 1296,578.8 1294.7,581 1293.4,579.2 1292.1,580.2 1290.8,580.5 1289.5,578.4 1288.2,579.2 1286.9,580.8 1285.6,579.9 1284.3,580.6 1282.9,581.3 1281.6,580.1 1280.3,579.9 1279,583.6 1277.7,579.7 1276.4,579.1 1275.1,582.4 1273.8,580 1272.5,578.4 1271.2,578.8 1269.9,579.8 1268.6,580.8 1267.3,578.7 1266,581.7 1264.6,580.9 1263.3,580.9 1262,580.9 1260.7,582.2 1259.4,582.4 1258.1,579.9 1256.8,579.6 1255.5,581.3 1254.2,582 1252.9,579.9 1251.6,581 1250.3,582.3 1249,579.3 1247.6,579.8 1246.3,578.9 1245,579 1243.7,581.7 1242.4,580.3 1241.1,582.7 1239.8,583.9 1238.5,582.8 1237.2,580.5 1235.9,581.4 1234.6,580.3 1233.3,580 1232,577.5 1230.7,583 1229.3,579.2 1228,578.9 1226.7,579.7 1225.4,580.8 1224.1,578.8 1222.8,580.1 1221.5,581.7 1220.2,580.4 1218.9,581.4 1217.6,580.9 1216.3,580.2 1215,581.9 1213.7,582.4 1212.3,583.7 1211,580.2 1209.7,578.9 1208.4,580.3 1207.1,578.7 1205.8,578.7 1204.5,581.2 1203.2,582 1201.9,579.8 1200.6,580.2 1199.3,580 1198,578.2 1196.7,579.5 1195.4,582.1 1194,577.5 1192.7,580.7 1191.4,579 1190.1,582.6 1188.8,579 1187.5,578.7 1186.2,578.6 1184.9,581.3 1183.6,578.1 1182.3,580.9 1181,578.4 1179.7,578.4 1178.4,579.2 1177.1,578.6 1175.7,580.2 1174.4,581.1 1173.1,580.3 1171.8,581.8 1170.5,579.8 1169.2,577.7 1167.9,581.3 1166.6,581.4 1165.3,579.5 1164,580.4 1162.7,580.7 1161.4,581.5 1160.1,581 1158.7,578.9 1157.4,582.4 1156.1,581.6 1154.8,579.9 1153.5,580.3 1152.2,581.5 1150.9,579.4 1149.6,579.6 1148.3,585.4 1147,577.4 1145.7,580.4 1144.4,579.9 1143.1,582.2 1141.8,580.1 1140.4,578.8 1139.1,578.7 1137.8,578.4 1136.5,580.9 1135.2,579.8 1133.9,581.3 1132.6,577.6 1131.3,580.4 1130,581.1 1128.7,580.2 1127.4,581.4 1126.1,579.9 1124.8,579.8 1123.5,578.6 1122.1,581.1 1120.8,580.3 1119.5,578.2 1118.2,580.9 1116.9,579.4 1115.6,580.5 1114.3,580.3 1113,582.1 1111.7,579.5 1110.4,579.8 1109.1,580.1 1107.8,580.5 1106.5,578.5 1105.1,582 1103.8,578.7 1102.5,580.2 1101.2,580.2 1099.9,579.4 1098.6,583.8 1097.3,578.4 1096,580.5 1094.7,580 1093.4,581.2 1092.1,580.3 1090.8,578.2 1089.5,580.6 1088.2,580.5 1086.8,580.3 1085.5,580.3 1084.2,581.8 1082.9,580.9 1081.6,580.5 1080.3,579.4 1079,580 1077.7,580.2 1076.4,579.1 1075.1,579.5 1073.8,580.8 1072.5,580.1 1071.2,580.5 1069.8,579.2 1068.5,580.5 1067.2,581.1 1065.9,579.4 1064.6,578.6 1063.3,578.7 1062,579.9 1060.7,585.3 1059.4,579.8 1058.1,578.3 1056.8,579.5 1055.5,580.4 1054.2,578.2 1052.9,584.6 1051.5,583 1050.2,585.9 1048.9,587.1 1047.6,587 1046.3,588.2 1045,586 1043.7,586.1 1042.4,586.2 1041.1,586.3 1039.8,587.7 1038.5,588.2 1037.2,587.9 1035.9,587.7 1034.6,586.1 1033.2,587.6 1031.9,585 1030.6,586.5 1029.3,585.6 1028,586 1026.7,585.7 1025.4,585.3" fill="#ff0" opacity="0.5"/>
<polygon points="1025.4,552.7 1027,542.5 1028.6,553.3 1030.2,550.8 1031.8,551.4 1033.5,550.6 1035.1,550.1 1036.7,550.8 1038.3,546.6 1039.9,552.9 1041.5,551 1043.1,556.3 1044.7,549.2 1046.3,548 1047.9,553.9 1049.6,551.8 1051.2,551.6 1052.8,550.9 1054.4,549.7 1056,544.7 1057.6,546.8 1059.2,543.6 1060.8,536.6 1062.4,539.8 1064,547.2 1065.7,549.1 1067.3,540.9 1068.9,548.8 1070.5,543.5 1072.1,545.3 1073.7,544.9 1075.3,543.3 1076.9,541.9 1078.5,527.3 1080.1,539 1081.8,536.5 1083.4,532.2 1085,532.8 1086.6,532.4 1088.2,520.7 1089.8,526.6 1091.4,527.2 1093,529.9 1094.6,526.3 1096.2,529.9 1097.9,522.9 1099.5,526 1101.1,519.4 1102.7,527.6 1104.3,524 1105.9,521.9 1107.5,524.2 1109.1,520.6 1110.7,525.5 1112.3,524.4 1114,517.3 1115.6,527.3 1117.2,525.1 1118.8,524.6 1120.4,527.8 1122,520 1123.6,526 1125.2,525 1126.8,522.5 1128.5,526.5 1130.1,520.4 1131.7,529 1133.3,531.8 1134.9,532 1136.5,531.5 1138.1,535.7 1139.7,526.6 1141.3,532.5 1142.9,523.2 1144.6,518.4 1146.2,533.2 1147.8,531.8 1149.4,526.6 1151,528.9 1152.6,532 1154.2,526.4 1155.8,535.2 1157.4,531.9 1159,534 1160.7,537.8 1162.3,532.5 1163.9,532.6 1165.5,527.5 1167.1,525.1 1168.7,522.8 1170.3,533 1171.9,527 1173.5,532.6 1175.1,540 1176.8,535.5 1178.4,528.8 1180,538.4 1181.6,531.1 1183.2,538.8 1184.8,529.4 1186.4,536.6 1188,539.9 1189.6,532.7 1191.2,542.5 1192.9,538.2 1194.5,533.1 1196.1,534.7 1197.7,543.7 1199.3,531 1200.9,541.1 1202.5,541.1 1204.1,532.3 1205.7,533.2 1207.3,536.3 1209,538.3 1210.6,539.1 1212.2,537.5 1213.8,534 1215.4,526.3 1217,535.5 1218.6,535.6 1220.2,535.5 1221.8,530.1 1223.5,535.5 1225.1,529.4 1226.7,527.2 1228.3,532 1229.9,529 1231.5,533.5 1233.1,536.5 1234.7,531.5 1236.3,533.3 1237.9,536 1239.6,532.8 1241.2,538.2 1242.8,533 1244.4,542.5 1246,534.3 1247.6,543.4 1249.2,541.2 1250.8,548.6 1252.4,546.9 1254,539.5 1255.7,544.9 1257.3,544.5 1258.9,538.6 1260.5,540.3 1262.1,546 1263.7,536.7 1265.3,540.5 1266.9,540.8 1268.5,539.6 1270.1,540.9 1271.8,541.6 1273.4,544 1275,535.9 1276.6,541.8 1278.2,538.4 1279.8,547.6 1281.4,534.6 1283,539 1284.6,537.8 1286.2,541.6 1287.9,546.1 1289.5,544.5 1291.1,537.9 1292.7,536.2 1294.3,536.5 1295.9,539.6 1297.5,539.7 1299.1,537.7 1300.7,535.2 1302.3,547.2 1304,542.7 1305.6,541.2 1307.2,537.2 1308.8,542.1 1310.4,542.5 1310.4,580 1308.8,579.6 1307.2,582 1305.6,578.9 1304,577.8 1302.3,579.9 1300.7,579.8 1299.1,578.5 1297.5,579.6 1295.9,583.3 1294.3,578.4 1292.7,582.1 1291.1,578.5 1289.5,580.5 1287.9,581.1 1286.2,579.7 1284.6,579.1 1283,579.3 1281.4,578.4 1279.8,583 1278.2,579.3 1276.6,578.6 1275,579.1 1273.4,582.1 1271.8,578.9 1270.1,583.7 1268.5,579 1266.9,580.4 1265.3,580.4 1263.7,580.2 1262.1,579.2 1260.5,580.7 1258.9,579.1 1257.3,581.3 1255.7,582.3 1254,580 1252.4,580.6 1250.8,579.2 1249.2,577.7 1247.6,579.7 1246,581.7 1244.4,578.5 1242.8,581.1 1241.2,580.1 1239.6,579.8 1237.9,580 1236.3,578.3 1234.7,577.6 1233.1,581.7 1231.5,580.6 1229.9,579.1 1228.3,580.2 1226.7,581.6 1225.1,579.7 1223.5,581.5 1221.8,581.1 1220.2,578.5 1218.6,578.5 1217,578.8 1215.4,579.6 1213.8,582.5 1212.2,580.5 1210.6,580.2 1209,582 1207.3,578.5 1205.7,581.4 1204.1,580.4 1202.5,579.6 1200.9,580.7 1199.3,579.8 1197.7,578.7 1196.1,579.4 1194.5,580.1 1192.9,579.7 1191.2,579.8 1189.6,580.7 1188,578.3 1186.4,581.1 1184.8,579.9 1183.2,579.8 1181.6,578.8 1180,579.9 1178.4,578.9 1176.8,579.6 1175.1,580.8 1173.5,579.1 1171.9,580.5 1170.3,578.4 1168.7,581 1167.1,580.8 1165.5,578.7 1163.9,580.8 1162.3,579.6 1160.7,582.3 1159,580 1157.4,578 1155.8,578.4 1154.2,578.8 1152.6,583.9 1151,581.7 1149.4,580.6 1147.8,582.2 1146.2,581.1 1144.6,581.5 1142.9,582.1 1141.3,582.5 1139.7,579 1138.1,579.4 1136.5,582.4 1134.9,580 1133.3,578.8 1131.7,578.6 1130.1,581.3 1128.5,578.6 1126.8,579 1125.2,580.5 1123.6,578.5 1122,583.5 1120.4,580.4 1118.8,582.1 1117.2,581.1 1115.6,579.6 1114,582.2 1112.3,579 1110.7,579.4 1109.1,580.6 1107.5,578.4 1105.9,581.1 1104.3,580.1 1102.7,581.4 1101.1,579.7 1099.5,578.7 1097.9,581.3 1096.2,582.1 1094.6,578.8 1093,580.7 1091.4,579.2 1089.8,579 1088.2,582.1 1086.6,578.8 1085,582.6 1083.4,577.9 1081.8,578.9 1080.1,579.1 1078.5,581.1 1076.9,580.4 1075.3,579.3 1073.7,579.2 1072.1,578.1 1070.5,580.1 1068.9,578.1 1067.3,579.8 1065.7,580.7 1064,580 1062.4,579.4 1060.8,581.1 1059.2,580.3 1057.6,579.7 1056,579.2 1054.4,580.6 1052.8,579.9 1051.2,582.8 1049.6,585.8 1047.9,587.4 1046.3,586.1 1044.7,586.3 1043.1,586 1041.5,586.2 1039.9,587.4 1038.3,584.2 1036.7,585.8 1035.1,587.5 1033.5,590 1031.8,584.8 1030.2,585.6 1028.6,586.4 1027,585.9 1025.4,584.4" fill="#ff0"/>
<polygon points="1025.4,553 1027.1,553 1028.8,553 1030.5,553 1032.2,553 1033.9,553 1035.6,553 1037.3,542.3 1039.1,545.1 1040.8,553 1042.5,572.8 1044.2,572.8 1045.9,572.8 1047.6,572.8 1049.3,572.8 1051,572.8 1052.7,572.8 1054.4,572.8 1056.1,572.8 1057.8,572.8 1059.5,572.8 1061.2,572.8 1062.9,555.8 1064.7,558.1 1066.4,552.8 1068.1,558.8 1069.8,559.6 1071.5,559.1 1073.2,554.4 1074.9,554 1076.6,558.2 1078.3,555 1080,561 1081.7,560.5 1083.4,554.7 1085.1,559.5 1086.8,553.5 1088.5,559.4 1090.3,550 1092,559.4 1093.7,556.8 1095.4,550.3 1097.1,553.1 1098.8,554.8 1100.5,555.7 1102.2,555.6 1103.9,555.6 1105.6,552.8 1107.3,558.9 1109,552.5 1110.7,553 1112.4,554.7 1114.1,551 1115.8,551.7 1117.6,547.9 1119.3,546.5 1121,545.4 1122.7,549.6 1124.4,549.9 1126.1,550.2 1127.8,551.6 1129.5,547.4 1131.2,550.5 1132.9,548 1134.6,545.8 1136.3,542.3 1138,547.1 1139.7,553 1141.4,548.4 1143.2,551.3 1144.9,551.8 1146.6,553.9 1148.3,545.7 1150,548.4 1151.7,549.6 1153.4,555.1 1155.1,549.8 1156.8,544.5 1158.5,547.3 1160.2,551.4 1161.9,553.7 1163.6,552.2 1165.3,553.7 1167,550 1168.8,555.1 1170.5,555.2 1172.2,552 1173.9,547.6 1175.6,557 1177.3,554.6 1179,558.3 1180.7,551.1 1182.4,557.4 1184.1,552.9 1185.8,561.9 1187.5,555 1189.2,564.4 1190.9,557.3 1192.6,561.3 1194.4,552.9 1196.1,566.4 1197.8,560.1 1199.5,560.5 1201.2,560.6 1202.9,562.2 1204.6,558.1 1206.3,560.5 1208,556.8 1209.7,560.7 1211.4,561 1213.1,561.2 1214.8,553.9 1216.5,557 1218.2,563.3 1220,559 1221.7,560.9 1223.4,563.3 1225.1,568.7 1226.8,553.1 1228.5,563.2 1230.2,572.8 1231.9,572.8 1233.6,572.8 1235.3,572.8 1237,572.8 1238.7,572.8 1240.4,572.8 1242.1,572.8 1243.8,572.8 1245.5,572.8 1247.3,571.4 1249,560.5 1250.7,554.6 1252.4,543 1254.1,541.9 1255.8,554.6 1257.5,554.6 1259.2,559.7 1260.9,570.6 1262.6,572.8 1264.3,572.8 1266,572.8 1267.7,572.8 1269.4,572.8 1271.1,572.8 1272.9,572.8 1274.6,572.8 1276.3,572.8 1278,572.8 1279.7,572.8 1281.4,572.8 1283.1,572.8 1284.8,572.8 1286.5,572.8 1288.2,572.8 1289.9,572.8 1291.6,572.8 1293.3,572.8 1295,572.8 1296.7,572.8 1298.5,572.8 1300.2,572.8 1301.9,572.8 1303.6,572.8 1305.3,572.8 1307,572.8 1308.7,572.8 1310.4,572.8 1310.4,572.8 1308.7,572.8 1307,572.8 1305.3,572.8 1303.6,572.8 1301.9,572.8 1300.2,572.8 1298.5,572.8 1296.7,572.8 1295,572.8 1293.3,572.8 1291.6,572.8 1289.9,572.8 1288.2,572.8 1286.5,572.8 1284.8,572.8 1283.1,572.8 1281.4,572.8 1279.7,572.8 1278,572.8 1276.3,572.8 1274.6,572.8 1272.9,572.8 1271.1,572.8 1269.4,572.8 1267.7,572.8 1266,572.8 1264.3,572.8 1262.6,572.8 1260.9,570.6 1259.2,559.7 1257.5,554.6 1255.8,554.6 1254.1,554.6 1252.4,554.6 1250.7,554.6 1249,560.5 1247.3,571.4 1245.5,572.8 1243.8,572.8 1242.1,572.8 1240.4,572.8 1238.7,572.8 1237,572.8 1235.3,572.8 1233.6,572.8 1231.9,572.8 1230.2,572.8 1228.5,572.8 1226.8,572.8 1225.1,572.8 1223.4,572.8 1221.7,572.8 1220,572.8 1218.2,572.8 1216.5,572.8 1214.8,572.8 1213.1,572.8 1211.4,572.8 1209.7,572.8 1208,572.8 1206.3,572.8 1204.6,572.8 1202.9,572.8 1201.2,572.8 1199.5,572.8 1197.8,572.8 1196.1,572.8 1194.4,572.8 1192.6,572.8 1190.9,572.8 1189.2,572.8 1187.5,572.8 1185.8,572.8 1184.1,572.8 1182.4,572.8 1180.7,572.8 1179,572.8 1177.3,572.8 1175.6,572.8 1173.9,572.8 1172.2,572.8 1170.5,572.8 1168.8,572.8 1167,572.8 1165.3,572.8 1163.6,572.8 1161.9,572.8 1160.2,572.8 1158.5,572.8 1156.8,572.8 1155.1,572.8 1153.4,572.8 1151.7,572.8 1150,572.8 1148.3,572.8 1146.6,572.8 1144.9,572.8 1143.2,572.8 1141.4,572.8 1139.7,572.8 1138,572.8 1136.3,572.8 1134.6,572.8 1132.9,572.8 1131.2,572.8 1129.5,572.8 1127.8,572.8 1126.1,572.8 1124.4,572.8 1122.7,572.8 1121,572.8 1119.3,572.8 1117.6,572.8 1115.8,572.8 1114.1,572.8 1112.4,572.8 1110.7,572.8 1109,572.8 1107.3,572.8 1105.6,572.8 1103.9,572.8 1102.2,572.8 1100.5,572.8 1098.8,572.8 1097.1,572.8 1095.4,572.8 1093.7,572.8 1092,572.8 1090.3,572.8 1088.5,572.8 1086.8,572.8 1085.1,572.8 1083.4,572.8 1081.7,572.8 1080,572.8 1078.3,572.8 1076.6,572.8 1074.9,572.8 1073.2,572.8 1071.5,572.8 1069.8,572.8 1068.1,572.8 1066.4,572.8 1064.7,572.8 1062.9,572.8 1061.2,572.8 1059.5,572.8 1057.8,572.8 1056.1,572.8 1054.4,572.8 1052.7,572.8 1051,572.8 1049.3,572.8 1047.6,572.8 1045.9,572.8 1044.2,572.8 1042.5,572.8 1040.8,553 1039.1,553 1037.3,553 1035.6,553 1033.9,553 1032.2,553 1030.5,553 1028.8,553 1027.1,553 1025.4,553" fill="#f00"/>
<polygon points="1025.4,541.5 1027.1,543.2 1028.8,540.4 1030.5,537.6 1032.2,542.4 1033.9,562 1035.6,571.1 1037.3,574.1 1039.1,572.1 1040.8,569.7 1042.5,568.3 1044.2,571.7 1045.9,572.4 1047.6,565.9 1049.3,561.2 1051,564.7 1052.7,560.5 1054.4,558.6 1056.1,558.6 1057.8,563.1 1059.5,560.8 1061.2,562.2 1062.9,561.9 1064.7,563.7 1066.4,560.7 1068.1,558.5 1069.8,563.4 1071.5,563.3 1073.2,563.3 1074.9,559.2 1076.6,554.8 1078.3,556.8 1080,558.6 1081.7,555.4 1083.4,558.5 1085.1,556.9 1086.8,554.8 1088.5,561.7 1090.3,556.7 1092,553.4 1093.7,553.2 1095.4,562 1097.1,557.8 1098.8,557.3 1100.5,555.9 1102.2,556.1 1103.9,555.9 1105.6,558.8 1107.3,557.6 1109,559.6 1110.7,554.8 1112.4,553.3 1114.1,554.4 1115.8,557 1117.6,551.7 1119.3,555.7 1121,554.3 1122.7,554.2 1124.4,553.3 1126.1,554.1 1127.8,548.3 1129.5,552.6 1131.2,550.5 1132.9,554 1134.6,553.9 1136.3,549.6 1138,544 1139.7,555.1 1141.4,555.6 1143.2,553.7 1144.9,556.9 1146.6,555.8 1148.3,555.2 1150,552.3 1151.7,552.2 1153.4,553.2 1155.1,558.2 1156.8,558.2 1158.5,556 1160.2,558.1 1161.9,562.2 1163.6,557.7 1165.3,554.6 1167,557.6 1168.8,561.1 1170.5,556.4 1172.2,557.5 1173.9,557.1 1175.6,561.2 1177.3,556.2 1179,555.8 1180.7,555.6 1182.4,559.3 1184.1,555.9 1185.8,563.2 1187.5,564.1 1189.2,563.1 1190.9,566.4 1192.6,558.2 1194.4,561.1 1196.1,565.9 1197.8,565.7 1199.5,562.8 1201.2,561.5 1202.9,565.8 1204.6,562.6 1206.3,557.1 1208,563.4 1209.7,559.7 1211.4,564.7 1213.1,561.6 1214.8,556.8 1216.5,564.2 1218.2,560.9 1220,558.5 1221.7,560 1223.4,565 1225.1,558.6 1226.8,557.1 1228.5,562.1 1230.2,562.1 1231.9,556.7 1233.6,565.8 1235.3,558.9 1237,564.7 1238.7,556.3 1240.4,561.8 1242.1,565 1243.8,565.2 1245.5,562.6 1247.3,559.4 1249,564.2 1250.7,563.2 1252.4,561.8 1254.1,561 1255.8,566.5 1257.5,557.2 1259.2,558.9 1260.9,565 1262.6,556 1264.3,562 1266,563.2 1267.7,562.6 1269.4,559.3 1271.1,565.7 1272.9,563.8 1274.6,558.5 1276.3,556.1 1278,565.9 1279.7,566.7 1281.4,561.1 1283.1,562.9 1284.8,566 1286.5,561.6 1288.2,560.9 1289.9,564.5 1291.6,564.7 1293.3,565.4 1295,561.2 1296.7,562 1298.5,563.5 1300.2,564.6 1301.9,562.2 1303.6,563.5 1305.3,562.1 1307,563.1 1308.7,564 1310.4,562.9 1310.4,571.6 1308.7,571.6 1307,574.5 1305.3,573.8 1303.6,577.1 1301.9,572.7 1300.2,572 1298.5,577 1296.7,574.6 1295,574.4 1293.3,571.7 1291.6,574.7 1289.9,575.3 1288.2,573.4 1286.5,574.2 1284.8,575 1283.1,576.4 1281.4,577.8 1279.7,575.3 1278,578.5 1276.3,577.9 1274.6,572.6 1272.9,575.8 1271.1,573.5 1269.4,572.3 1267.7,576.1 1266,572.4 1264.3,576.8 1262.6,573.6 1260.9,572.4 1259.2,572.5 1257.5,576.6 1255.8,576.4 1254.1,571.3 1252.4,571.8 1250.7,573 1249,574.9 1247.3,576.9 1245.5,575.3 1243.8,577.6 1242.1,576.3 1240.4,571.7 1238.7,573.4 1237,571.2 1235.3,572.4 1233.6,576.7 1231.9,573.7 1230.2,574.3 1228.5,574.4 1226.8,572.8 1225.1,577.1 1223.4,574.8 1221.7,572.2 1220,572.8 1218.2,573.7 1216.5,575.7 1214.8,573.5 1213.1,576.4 1211.4,576.8 1209.7,582.3 1208,577.2 1206.3,577.4 1204.6,575.4 1202.9,574.7 1201.2,577.1 1199.5,578.6 1197.8,577.4 1196.1,580.1 1194.4,579.9 1192.6,576.1 1190.9,579.3 1189.2,579.9 1187.5,577.6 1185.8,576.5 1184.1,577 1182.4,576.5 1180.7,576.3 1179,579.9 1177.3,578.1 1175.6,578.7 1173.9,579.6 1172.2,580.5 1170.5,577.4 1168.8,580.9 1167,576.1 1165.3,576.8 1163.6,577.1 1161.9,577.9 1160.2,578.5 1158.5,577.9 1156.8,579.3 1155.1,574.8 1153.4,581.2 1151.7,577 1150,576.6 1148.3,576.1 1146.6,576.7 1144.9,578 1143.2,578.8 1141.4,578.5 1139.7,576 1138,575.6 1136.3,573 1134.6,575.7 1132.9,575.1 1131.2,578.1 1129.5,577.4 1127.8,578.7 1126.1,580.9 1124.4,576.2 1122.7,576.4 1121,577.2 1119.3,580.6 1117.6,577.5 1115.8,577.4 1114.1,579.4 1112.4,576.2 1110.7,574.7 1109,582.1 1107.3,576.8 1105.6,575.7 1103.9,582.4 1102.2,578.2 1100.5,576.5 1098.8,579.1 1097.1,578.9 1095.4,583.4 1093.7,578 1092,576 1090.3,577.3 1088.5,576.8 1086.8,584.7 1085.1,577 1083.4,578.9 1081.7,580.3 1080,576.5 1078.3,577 1076.6,576.5 1074.9,580.8 1073.2,576.7 1071.5,579.1 1069.8,574.9 1068.1,578.4 1066.4,576.6 1064.7,577.1 1062.9,577.4 1061.2,577.4 1059.5,578.1 1057.8,576.2 1056.1,578 1054.4,576.9 1052.7,578.1 1051,577.1 1049.3,579.5 1047.6,573.5 1045.9,572.5 1044.2,572.1 1042.5,573.5 1040.8,573.1 1039.1,572.1 1037.3,574.1 1035.6,572.8 1033.9,568.7 1032.2,562.9 1030.5,560.2 1028.8,561.8 1027.1,559.9 1025.4,563.7" fill="#00f"/>
<polygon points="1025.4,590.7 1027.1,588.4 1028.8,591.1 1030.5,585.1 1032.2,585.8 1033.9,585 1035.6,584.7 1037.3,588.6 1039.1,578.3 1040.8,583.9 1042.5,577.5 1044.2,582.8 1045.9,583.2 1047.6,583 1049.3,578.5 1051,576.2 1052.7,576.7 1054.4,577.1 1056.1,577.6 1057.8,572.7 1059.5,572.3 1061.2,573 1062.9,572.5 1064.7,577.5 1066.4,572.3 1068.1,573.8 1069.8,575.5 1071.5,574.2 1073.2,574.8 1074.9,571.2 1076.6,574.9 1078.3,576.7 1080,570.4 1081.7,578.3 1083.4,576.1 1085.1,571.7 1086.8,571.8 1088.5,576.3 1090.3,581.4 1092,575.8 1093.7,582.4 1095.4,578.8 1097.1,574.5 1098.8,580.8 1100.5,578.5 1102.2,582.4 1103.9,579.4 1105.6,578.5 1107.3,583.2 1109,575.5 1110.7,576.4 1112.4,579 1114.1,580.1 1115.8,579.9 1117.6,578.1 1119.3,581.4 1121,578.4 1122.7,575.9 1124.4,579.7 1126.1,578 1127.8,577.5 1129.5,577.1 1131.2,577.9 1132.9,570.6 1134.6,574.3 1136.3,573.4 1138,576.8 1139.7,566.1 1141.4,572.6 1143.2,571.5 1144.9,573.6 1146.6,574.4 1148.3,574.4 1150,577.1 1151.7,574.5 1153.4,572.3 1155.1,572.2 1156.8,572.9 1158.5,572.2 1160.2,572.1 1161.9,569.2 1163.6,573.5 1165.3,572 1167,568 1168.8,570.7 1170.5,569 1172.2,569.3 1173.9,570.3 1175.6,572.2 1177.3,572.6 1179,573.1 1180.7,576.8 1182.4,574.8 1184.1,574.5 1185.8,567.6 1187.5,574.4 1189.2,576 1190.9,575.5 1192.6,574.4 1194.4,571.7 1196.1,573.7 1197.8,575.5 1199.5,575.2 1201.2,570.7 1202.9,577.7 1204.6,576.7 1206.3,570.6 1208,575.4 1209.7,576 1211.4,576.4 1213.1,571.9 1214.8,578.7 1216.5,577.2 1218.2,578.8 1220,574.7 1221.7,577.8 1223.4,576.7 1225.1,577.1 1226.8,575.4 1228.5,575.9 1230.2,579.6 1231.9,580.6 1233.6,578.7 1235.3,574.1 1237,576.7 1238.7,578.1 1240.4,576.1 1242.1,576.2 1243.8,573 1245.5,579.8 1247.3,575.4 1249,579.6 1250.7,580.6 1252.4,577.9 1254.1,576.6 1255.8,574.8 1257.5,576.5 1259.2,580.1 1260.9,579.5 1262.6,574.8 1264.3,575.1 1266,574.6 1267.7,579.1 1269.4,574.6 1271.1,580.8 1272.9,574.9 1274.6,573 1276.3,575.6 1278,577.1 1279.7,578.9 1281.4,574.5 1283.1,575 1284.8,576.2 1286.5,578.5 1288.2,572 1289.9,572.8 1291.6,578.9 1293.3,574.5 1295,576.5 1296.7,577.8 1298.5,575.7 1300.2,576.1 1301.9,576.5 1303.6,576.5 1305.3,572.7 1307,573.6 1308.7,576.8 1310.4,578.7 1310.4,591.1 1308.7,591.1 1307,591.1 1305.3,591.1 1303.6,591.1 1301.9,591.1 1300.2,591.1 1298.5,591.1 1296.7,591.1 1295,591.1 1293.3,591.1 1291.6,591.1 1289.9,591.1 1288.2,591.1 1286.5,591.1 1284.8,591.1 1283.1,591.1 1281.4,591.1 1279.7,591.1 1278,591.1 1276.3,591.1 1274.6,591.1 1272.9,591.1 1271.1,591.1 1269.4,591.1 1267.7,591.1 1266,591.1 1264.3,591.1 1262.6,591.1 1260.9,591.1 1259.2,591.1 1257.5,591.1 1255.8,591.1 1254.1,591.1 1252.4,591.1 1250.7,591.1 1249,591.1 1247.3,591.1 1245.5,591.1 1243.8,591.1 1242.1,591.1 1240.4,591.1 1238.7,591.1 1237,591.1 1235.3,591.1 1233.6,591.1 1231.9,591.1 1230.2,591.1 1228.5,591.1 1226.8,591.1 1225.1,591.1 1223.4,591.1 1221.7,591.1 1220,591.1 1218.2,591.1 1216.5,591.1 1214.8,591.1 1213.1,591.1 1211.4,591.1 1209.7,591.1 1208,591.1 1206.3,591.1 1204.6,591.1 1202.9,591.1 1201.2,591.1 1199.5,591.1 1197.8,591.1 1196.1,591.1 1194.4,591.1 1192.6,591.1 1190.9,591.1 1189.2,591.1 1187.5,591.1 1185.8,591.1 1184.1,591.1 1182.4,591.1 1180.7,591.1 1179,591.1 1177.3,591.1 1175.6,591.1 1173.9,591.1 1172.2,591.1 1170.5,591.1 1168.8,591.1 1167,591.1 1165.3,591.1 1163.6,591.1 1161.9,591.1 1160.2,591.1 1158.5,591.1 1156.8,591.1 1155.1,591.1 1153.4,591.1 1151.7,591.1 1150,591.1 1148.3,591.1 1146.6,591.1 1144.9,591.1 1143.2,591.1 1141.4,591.1 1139.7,591.1 1138,591.1 1136.3,591.1 1134.6,591.1 1132.9,591.1 1131.2,591.1 1129.5,591.1 1127.8,591.1 1126.1,591.1 1124.4,591.1 1122.7,591.1 1121,591.1 1119.3,591.1 1117.6,591.1 1115.8,591.1 1114.1,591.1 1112.4,591.1 1110.7,591.1 1109,591.1 1107.3,591.1 1105.6,591.1 1103.9,591.1 1102.2,591.1 1100.5,591.1 1098.8,591.1 1097.1,591.1 1095.4,591.1 1093.7,591.1 1092,591.1 1090.3,591.1 1088.5,591.1 1086.8,591.1 1085.1,591.1 1083.4,591.1 1081.7,591.1 1080,591.1 1078.3,591.1 1076.6,591.1 1074.9,591.1 1073.2,591.1 1071.5,591.1 1069.8,591.1 1068.1,591.1 1066.4,591.1 1064.7,591.1 1062.9,591.1 1061.2,591.1 1059.5,591.1 1057.8,591.1 1056.1,591.1 1054.4,591.1 1052.7,591.1 1051,591.1 1049.3,591.1 1047.6,591.1 1045.9,591.1 1044.2,591.1 1042.5,591.1 1040.8,591.1 1039.1,591.1 1037.3,591.1 1035.6,591.1 1033.9,591.1 1032.2,591.1 1030.5,591.1 1028.8,591.1 1027.1,591.1 1025.4,591.1" fill="#fff"/>
<polygon points="1025.4,587.2 1027,585.1 1028.6,582.8 1030.2,586.5 1031.8,583.5 1033.5,579.2 1035.1,581.6 1036.7,590.5 1038.3,581.4 1039.9,579 1041.5,585.9 1043.1,583.5 1044.7,591.5 1046.3,589.4 1047.9,585.9 1049.6,574.3 1051.2,581.7 1052.8,585.6 1054.4,581.7 1056,589.2 1057.6,581.9 1059.2,581.6 1060.8,586.6 1062.4,582.2 1064,582.8 1065.7,588.5 1067.3,579 1068.9,580.4 1070.5,584.7 1072.1,586 1073.7,584.2 1075.3,591.3 1076.9,581.1 1078.5,590.4 1080.1,584.5 1081.8,586.4 1083.4,586.3 1085,589.4 1086.6,585.7 1088.2,586.4 1089.8,576.7 1091.4,583.6 1093,587.9 1094.6,584 1096.2,582.8 1097.9,580.9 1099.5,586.1 1101.1,580.6 1102.7,585.7 1104.3,584.6 1105.9,580.1 1107.5,577.9 1109.1,585.7 1110.7,587.3 1112.3,587.1 1114,583 1115.6,587.7 1117.2,585.8 1118.8,582.7 1120.4,586 1122,575.5 1123.6,577.5 1125.2,581.7 1126.8,580.9 1128.5,583.3 1130.1,586 1131.7,576.3 1133.3,585.7 1134.9,587.8 1136.5,581.5 1138.1,578.8 1139.7,582.3 1141.3,582.9 1142.9,581.8 1144.6,584.9 1146.2,577.4 1147.8,583.1 1149.4,576.8 1151,582.5 1152.6,585.1 1154.2,583.3 1155.8,586.1 1157.4,585.1 1159,579.7 1160.7,584.8 1162.3,589.5 1163.9,588.6 1165.5,586.2 1167.1,588.9 1168.7,578.5 1170.3,579.1 1171.9,583.1 1173.5,575.9 1175.1,588.9 1176.8,577.6 1178.4,583.9 1180,586.3 1181.6,577.4 1183.2,589.7 1184.8,577.8 1186.4,584.4 1188,577.7 1189.6,581.1 1191.2,591.7 1192.9,581.9 1194.5,582.9 1196.1,580.1 1197.7,581.7 1199.3,579.7 1200.9,583.7 1202.5,581 1204.1,583.1 1205.7,577.8 1207.3,581.8 1209,589.2 1210.6,580.8 1212.2,582.8 1213.8,581.3 1215.4,579.4 1217,579.8 1218.6,575.5 1220.2,589.4 1221.8,584.2 1223.5,582.4 1225.1,585 1226.7,579.1 1228.3,578.2 1229.9,586.3 1231.5,582.7 1233.1,581.8 1234.7,589.6 1236.3,586 1237.9,579.2 1239.6,584.3 1241.2,579.8 1242.8,587.8 1244.4,589 1246,580.6 1247.6,590.3 1249.2,586.5 1250.8,583.5 1252.4,585.6 1254,584.5 1255.7,578.6 1257.3,588 1258.9,584.8 1260.5,584.6 1262.1,582.2 1263.7,581.4 1265.3,583.2 1266.9,576.7 1268.5,586.7 1270.1,577.3 1271.8,585.2 1273.4,585.7 1275,580.6 1276.6,584 1278.2,577.9 1279.8,583.8 1281.4,583.4 1283,585.9 1284.6,581.7 1286.2,586.7 1287.9,590 1289.5,578.7 1291.1,583.7 1292.7,587 1294.3,588.3 1295.9,579.2 1297.5,582.9 1299.1,588.6 1300.7,587.4 1302.3,587.6 1304,586.2 1305.6,585.3 1307.2,594.3 1308.8,588.3 1310.4,588.4 1310.4,605 1308.8,605 1307.2,605 1305.6,605 1304,605 1302.3,605 1300.7,605 1299.1,605 1297.5,605 1295.9,605 1294.3,605 1292.7,605 1291.1,605 1289.5,605 1287.9,605 1286.2,605 1284.6,605 1283,605 1281.4,605 1279.8,605 1278.2,605 1276.6,605 1275,605 1273.4,605 1271.8,605 1270.1,605 1268.5,605 1266.9,605 1265.3,605 1263.7,605 1262.1,605 1260.5,605 1258.9,605 1257.3,605 1255.7,605 1254,605 1252.4,605 1250.8,605 1249.2,605 1247.6,605 1246,605 1244.4,605 1242.8,605 1241.2,605 1239.6,605 1237.9,605 1236.3,605 1234.7,605 1233.1,605 1231.5,605 1229.9,605 1228.3,605 1226.7,605 1225.1,605 1223.5,605 1221.8,605 1220.2,605 1218.6,605 1217,605 1215.4,605 1213.8,605 1212.2,605 1210.6,605 1209,605 1207.3,605 1205.7,605 1204.1,605 1202.5,605 1200.9,605 1199.3,605 1197.7,605 1196.1,605 1194.5,605 1192.9,605 1191.2,605 1189.6,605 1188,605 1186.4,605 1184.8,605 1183.2,605 1181.6,605 1180,605 1178.4,605 1176.8,605 1175.1,605 1173.5,605 1171.9,605 1170.3,605 1168.7,605 1167.1,605 1165.5,605 1163.9,605 1162.3,605 1160.7,605 1159,605 1157.4,605 1155.8,605 1154.2,605 1152.6,605 1151,605 1149.4,605 1147.8,605 1146.2,605 1144.6,605 1142.9,605 1141.3,605 1139.7,605 1138.1,605 1136.5,605 1134.9,605 1133.3,605 1131.7,605 1130.1,605 1128.5,605 1126.8,605 1125.2,605 1123.6,605 1122,605 1120.4,605 1118.8,605 1117.2,605 1115.6,605 1114,605 1112.3,605 1110.7,605 1109.1,605 1107.5,605 1105.9,605 1104.3,605 1102.7,605 1101.1,605 1099.5,605 1097.9,605 1096.2,605 1094.6,605 1093,605 1091.4,605 1089.8,605 1088.2,605 1086.6,605 1085,605 1083.4,605 1081.8,605 1080.1,605 1078.5,605 1076.9,605 1075.3,605 1073.7,605 1072.1,605 1070.5,605 1068.9,605 1067.3,605 1065.7,605 1064,605 1062.4,605 1060.8,605 1059.2,605 1057.6,605 1056,605 1054.4,605 1052.8,605 1051.2,605 1049.6,605 1047.9,605 1046.3,605 1044.7,605 1043.1,605 1041.5,605 1039.9,605 1038.3,605 1036.7,605 1035.1,605 1033.5,605 1031.8,605 1030.2,605 1028.6,605 1027,605 1025.4,605" fill="#9400d3"/>
<polyline points="1025.5,406.3 1026.3,424.9 1027.1,404 1027.9,422.1 1028.7,403.7 1029.5,426.5 1030.3,402.7 1031.1,424.6 1031.9,403.4 1032.7,425.2 1033.5,395.8 1034.3,427.6 1035.1,409.4 1035.9,423.6 1036.8,407.2 1037.6,422.8 1038.4,405.4 1039.2,434 1040,408.7 1040.8,431.6 1041.6,410.4 1042.4,430.9 1043.2,405.2 1044,427.5 1044.8,414.2 1045.6,434.1 1046.4,406.3 1047.2,431 1048,411 1048.8,426 1049.6,410 1050.4,427.1 1051.2,407.3 1052,424 1052.8,401.9 1053.6,423.4 1054.4,406.1 1055.2,423.1 1056,404.2 1056.8,427.3 1057.6,407.4 1058.4,424.6 1059.3,404 1060.1,424.7 1060.9,404.2 1061.7,427.4 1062.5,412.2 1063.3,430.4 1064.1,409 1064.9,425 1065.7,409.3 1066.5,425.5 1067.3,404.2 1068.1,423.9 1068.9,399.1 1069.7,421.9 1070.5,403.8 1071.3,424.7 1072.1,408.4 1072.9,426.2 1073.7,404.2 1074.5,421.7 1075.3,402.1 1076.1,425.3 1076.9,402.6 1077.7,425.1 1078.5,402.4 1079.3,416.2 1080.1,405 1080.9,418.9 1081.8,401.9 1082.6,421.1 1083.4,401.8 1084.2,426.2 1085,398.6 1085.8,429.6 1086.6,396.9 1087.4,423.7 1088.2,410.2 1089,428.4 1089.8,412.1 1090.6,425.2 1091.4,408.8 1092.2,433.2 1093,411.2 1093.8,431.5 1094.6,404.2 1095.4,431.4 1096.2,412.6 1097,431.7 1097.8,412.8 1098.6,431.7 1099.4,414.4 1100.2,431.6 1101,412.4 1101.8,443.7 1102.7,421.8 1103.5,444.9 1104.3,411.5 1105.1,436.2 1105.9,413.5 1106.7,437.9 1107.5,410.5 1108.3,431.7 1109.1,405.4 1109.9,434.8 1110.7,417.5 1111.5,443.1 1112.3,419.9 1113.1,434.5 1113.9,417.1 1114.7,439.5 1115.5,406.3 1116.3,433.9 1117.1,416.8 1117.9,442.4 1118.7,419.1 1119.5,440.2 1120.3,421 1121.1,438.9 1121.9,426.4 1122.7,448.2 1123.5,425.3 1124.3,445.3 1125.2,422.3 1126,448 1126.8,416.6 1127.6,435.5 1128.4,411.8 1129.2,445.7 1130,421.7 1130.8,444.8 1131.6,426 1132.4,441.1 1133.2,426.3 1134,441.3 1134.8,419.1 1135.6,442.4 1136.4,423.9 1137.2,443.5 1138,427.6 1138.8,440.8 1139.6,418.3 1140.4,443.3 1141.2,426.6 1142,441.9 1142.8,407.1 1143.6,440.7 1144.4,419.5 1145.2,440.9 1146.1,417.8 1146.9,451.6 1147.7,426.5 1148.5,444.9 1149.3,419.2 1150.1,448 1150.9,417.1 1151.7,438 1152.5,418.7 1153.3,442 1154.1,422.3 1154.9,436 1155.7,423.4 1156.5,446 1157.3,418.7 1158.1,438.5 1158.9,416.3 1159.7,446.9 1160.5,408.1 1161.3,434.7 1162.1,414.5 1162.9,436.6 1163.7,415 1164.5,434.3 1165.3,420.4 1166.1,437.6 1166.9,414.7 1167.7,439.9 1168.6,413.3 1169.4,433.4 1170.2,412.5 1171,427.2 1171.8,413.3 1172.6,431.7 1173.4,403.4 1174.2,433.1 1175,402.2 1175.8,427.8 1176.6,406.1 1177.4,423.9 1178.2,407.3 1179,428.7 1179.8,410.7 1180.6,428.3 1181.4,401.2 1182.2,424.7 1183,409.1 1183.8,424.9 1184.6,403.3 1185.4,422 1186.2,404 1187,424 1187.8,407.4 1188.6,428.1 1189.4,402.9 1190.2,423.2 1191.1,405.3 1191.9,430.6 1192.7,406.8 1193.5,433.8 1194.3,411.3 1195.1,434.6 1195.9,405.1 1196.7,426.5 1197.5,404.8 1198.3,432.1 1199.1,408.5 1199.9,424.2 1200.7,404.7 1201.5,432 1202.3,410 1203.1,430.9 1203.9,413.2 1204.7,432.4 1205.5,406.2 1206.3,431.2 1207.1,403 1207.9,433.8 1208.7,414.7 1209.5,434 1210.3,417.6 1211.1,440.1 1212,420.3 1212.8,440.4 1213.6,417.8 1214.4,447.2 1215.2,414.9 1216,436.6 1216.8,418.9 1217.6,439 1218.4,411.5 1219.2,440.1 1220,420.2 1220.8,436.2 1221.6,421 1222.4,441.2 1223.2,409.9 1224,445.9 1224.8,414.9 1225.6,438.4 1226.4,420.5 1227.2,436.8 1228,416.4 1228.8,436.2 1229.6,408 1230.4,439.5 1231.2,408.2 1232,440.3 1232.8,411.5 1233.6,436.7 1234.5,410.1 1235.3,432.6 1236.1,415.4 1236.9,432.2 1237.7,407.3 1238.5,431.5 1239.3,407.5 1240.1,427.4 1240.9,411.5 1241.7,435.1 1242.5,405.1 1243.3,426.9 1244.1,412.7 1244.9,425.3 1245.7,408.1 1246.5,428.3 1247.3,408.3 1248.1,426.6 1248.9,412.7 1249.7,429.3 1250.5,409.1 1251.3,427.3 1252.1,410.1 1252.9,428.7 1253.7,407.3 1254.5,424.9 1255.4,412.2 1256.2,431.6 1257,410.9 1257.8,424.5 1258.6,407.6 1259.4,423.5 1260.2,398.6 1261,427.1 1261.8,409.1 1262.6,422.8 1263.4,409.7 1264.2,428.1 1265,402.3 1265.8,423.1 1266.6,407.1 1267.4,428.7 1268.2,405.1 1269,424.6 1269.8,410.2 1270.6,430.4 1271.4,406.9 1272.2,424.5 1273,407.2 1273.8,421.7 1274.6,401.1 1275.4,431.1 1276.2,403.1 1277,423.1 1277.9,398.9 1278.7,429.1 1279.5,401.6 1280.3,422.8 1281.1,401.8 1281.9,423 1282.7,399.1 1283.5,421.3 1284.3,396.1 1285.1,424.5 1285.9,405.6 1286.7,425.4 1287.5,401.5 1288.3,424.7 1289.1,395.9 1289.9,424.2 1290.7,406.9 1291.5,422.4 1292.3,403.7 1293.1,426.3 1293.9,408.5 1294.7,435.7 1295.5,411.7 1296.3,425.2 1297.1,410.3 1297.9,430.5 1298.7,407.8 1299.5,427.8 1300.4,409.2 1301.2,430.5 1302,408.1 1302.8,423.7 1303.6,406.2 1304.4,437.5 1305.2,402.4 1306,435 1306.8,397.9 1307.6,423.5 1308.4,397.6 1309.2,428.6 1310,405.2 1310,422.8" fill="none" stroke="#bc8f8f" stroke-width="1.35" stroke-linejoin="round" opacity=".65"/>
<polyline points="1025.5,406.2 1026.3,424.4 1027.1,405 1027.9,421.5 1028.7,408.6 1029.5,425.6 1030.3,406.5 1031.1,423.3 1031.9,410.7 1032.7,424.4 1033.5,410.4 1034.3,424.9 1035.1,411.1 1035.9,425.8 1036.8,408.9 1037.6,424 1038.4,409.7 1039.2,427.3 1040,409.7 1040.8,426.2 1041.6,410.4 1042.4,425.7 1043.2,409.3 1044,423.8 1044.8,412.7 1045.6,426.8 1046.4,409.6 1047.2,428.3 1048,413 1048.8,431.5 1049.6,409 1050.4,425.5 1051.2,410 1052,423.8 1052.8,409.6 1053.6,423.6 1054.4,405.5 1055.2,428 1056,408.7 1056.8,425.1 1057.6,407.7 1058.4,426.1 1059.3,409.5 1060.1,429.1 1060.9,411.8 1061.7,425.7 1062.5,411.6 1063.3,427.6 1064.1,410.1 1064.9,426.5 1065.7,409 1066.5,423.8 1067.3,407.6 1068.1,424.4 1068.9,405.1 1069.7,419.4 1070.5,407.8 1071.3,422.8 1072.1,407.4 1072.9,421.4 1073.7,406.2 1074.5,422.3 1075.3,405.4 1076.1,421.2 1076.9,404.1 1077.7,416.4 1078.5,404.2 1079.3,417.6 1080.1,402.8 1080.9,420.3 1081.8,398.3 1082.6,417.9 1083.4,404.3 1084.2,418.5 1085,402.7 1085.8,421.5 1086.6,407.1 1087.4,421.6 1088.2,406.5 1089,422.9 1089.8,412.5 1090.6,426.4 1091.4,414.8 1092.2,428.6 1093,412.6 1093.8,440 1094.6,415.9 1095.4,430.3 1096.2,413.5 1097,430.7 1097.8,416.4 1098.6,435 1099.4,417.7 1100.2,430.8 1101,420.7 1101.8,434.8 1102.7,421.4 1103.5,437 1104.3,420.3 1105.1,437.7 1105.9,414.5 1106.7,435.7 1107.5,416.1 1108.3,433 1109.1,415.8 1109.9,435.2 1110.7,420.2 1111.5,435 1112.3,421.4 1113.1,434.6 1113.9,415.4 1114.7,434.8 1115.5,416.1 1116.3,436.1 1117.1,411.9 1117.9,434.8 1118.7,421.5 1119.5,439.3 1120.3,426.4 1121.1,441.9 1121.9,422.7 1122.7,440 1123.5,425.4 1124.3,441.8 1125.2,421.9 1126,437.8 1126.8,421.9 1127.6,436 1128.4,417.8 1129.2,434.3 1130,420.7 1130.8,443.3 1131.6,424.8 1132.4,440.7 1133.2,428.1 1134,443.9 1134.8,425.9 1135.6,440.8 1136.4,427.3 1137.2,443.4 1138,423.8 1138.8,442 1139.6,428.8 1140.4,443.3 1141.2,427.9 1142,441.1 1142.8,425.7 1143.6,441.4 1144.4,426.3 1145.2,446.1 1146.1,427.8 1146.9,442 1147.7,426.2 1148.5,440.3 1149.3,427.1 1150.1,442.3 1150.9,424.2 1151.7,438.3 1152.5,425.3 1153.3,442.7 1154.1,422.9 1154.9,436.7 1155.7,420.3 1156.5,440.8 1157.3,420.7 1158.1,439.7 1158.9,419.8 1159.7,436.2 1160.5,418.7 1161.3,433.9 1162.1,419.4 1162.9,434.6 1163.7,411.7 1164.5,435.4 1165.3,420.7 1166.1,435 1166.9,419.6 1167.7,434.2 1168.6,415.6 1169.4,430.1 1170.2,414 1171,427.1 1171.8,413.1 1172.6,430.8 1173.4,412.2 1174.2,427.5 1175,408.7 1175.8,426.8 1176.6,407.8 1177.4,424.5 1178.2,408.9 1179,424.5 1179.8,409.8 1180.6,423.1 1181.4,410.1 1182.2,424.7 1183,407.9 1183.8,424.3 1184.6,406.8 1185.4,424.9 1186.2,406.7 1187,420.4 1187.8,408.6 1188.6,428.3 1189.4,406.4 1190.2,420.1 1191.1,408.8 1191.9,422.2 1192.7,407.2 1193.5,430.2 1194.3,410 1195.1,424 1195.9,407.4 1196.7,430.2 1197.5,406.5 1198.3,422.7 1199.1,410.8 1199.9,424.6 1200.7,412.3 1201.5,425.4 1202.3,411.5 1203.1,428 1203.9,413.8 1204.7,428 1205.5,412.4 1206.3,427.6 1207.1,410 1207.9,431.6 1208.7,415.1 1209.5,433.1 1210.3,419.2 1211.1,431.6 1212,416.1 1212.8,437.4 1213.6,422.7 1214.4,437.2 1215.2,422.6 1216,439 1216.8,418.6 1217.6,440.4 1218.4,420.2 1219.2,435.7 1220,415.4 1220.8,435.3 1221.6,420.7 1222.4,435.1 1223.2,420.7 1224,435.1 1224.8,422.2 1225.6,440.2 1226.4,420.9 1227.2,435.7 1228,419.7 1228.8,435 1229.6,417 1230.4,433.8 1231.2,415.5 1232,431.3 1232.8,415.4 1233.6,434.6 1234.5,413.3 1235.3,428.8 1236.1,412.5 1236.9,430.2 1237.7,411.3 1238.5,428.5 1239.3,410.3 1240.1,425.9 1240.9,413.7 1241.7,427.7 1242.5,413.6 1243.3,431.5 1244.1,410.8 1244.9,426.7 1245.7,411.6 1246.5,425 1247.3,412.1 1248.1,426.4 1248.9,414.4 1249.7,428.9 1250.5,409.6 1251.3,425.6 1252.1,412.7 1252.9,426.9 1253.7,410.9 1254.5,424.8 1255.4,413.1 1256.2,426.7 1257,407.9 1257.8,426.8 1258.6,408.2 1259.4,423.8 1260.2,409.3 1261,422.6 1261.8,408 1262.6,422.2 1263.4,408.8 1264.2,426.8 1265,403.1 1265.8,420.3 1266.6,408.8 1267.4,420.8 1268.2,408.9 1269,421.7 1269.8,410.6 1270.6,424.7 1271.4,405.8 1272.2,422.4 1273,408.5 1273.8,422.2 1274.6,408.1 1275.4,427.2 1276.2,407.8 1277,422.5 1277.9,403.3 1278.7,423.1 1279.5,402.3 1280.3,420.7 1281.1,405.4 1281.9,418.7 1282.7,406.4 1283.5,424.9 1284.3,406.3 1285.1,422.7 1285.9,404.4 1286.7,420.3 1287.5,406.7 1288.3,425.7 1289.1,406.9 1289.9,424.1 1290.7,408.1 1291.5,426.5 1292.3,405.4 1293.1,423.7 1293.9,411.7 1294.7,430.9 1295.5,413 1296.3,427.1 1297.1,412.2 1297.9,428.7 1298.7,410.4 1299.5,424.9 1300.4,406.7 1301.2,425.7 1302,406.4 1302.8,423.4 1303.6,410.2 1304.4,428.3 1305.2,404.6 1306,424.3 1306.8,409.5 1307.6,421.8 1308.4,405.2 1309.2,421.9 1310,407.5 1310,420.1" fill="none" stroke="#bc8f8f" stroke-width="1.8" stroke-linejoin="round"/>
<polyline points="1025.5,358.6 1026.3,397.5 1027.1,364.1 1027.9,391 1028.7,358 1029.5,392.8 1030.3,353.9 1031.1,395.9 1031.9,361.4 1032.7,391.8 1033.5,358.4 1034.3,382.9 1035.1,361.4 1035.9,383.7 1036.8,362.6 1037.6,390.3 1038.4,359.3 1039.2,387.9 1040,360.6 1040.8,381.2 1041.6,359.7 1042.4,380.9 1043.2,352.7 1044,383.4 1044.8,358 1045.6,388.2 1046.4,357.3 1047.2,394.2 1048,345.3 1048.8,377.1 1049.6,351.8 1050.4,372.9 1051.2,356.8 1052,375.8 1052.8,354 1053.6,376 1054.4,349.5 1055.2,385.3 1056,346.8 1056.8,371.7 1057.6,344.7 1058.4,383.6 1059.3,351.5 1060.1,379.3 1060.9,344 1061.7,379.8 1062.5,346.8 1063.3,378.5 1064.1,352.8 1064.9,374.2 1065.7,351.5 1066.5,381.2 1067.3,353.4 1068.1,377.1 1068.9,353.4 1069.7,378.4 1070.5,336.9 1071.3,382.4 1072.1,350 1072.9,368.5 1073.7,337.7 1074.5,368.8 1075.3,346.6 1076.1,371.6 1076.9,354.3 1077.7,374.8 1078.5,352 1079.3,382.7 1080.1,345.2 1080.9,372.6 1081.8,336.3 1082.6,371 1083.4,348.3 1084.2,373.4 1085,348.1 1085.8,368.9 1086.6,343.3 1087.4,385.9 1088.2,349.2 1089,372.7 1089.8,348.5 1090.6,377.9 1091.4,345.6 1092.2,380.7 1093,342.5 1093.8,369.9 1094.6,343.8 1095.4,368.3 1096.2,340.8 1097,370.5 1097.8,343.9 1098.6,369.4 1099.4,343.7 1100.2,368.8 1101,334.5 1101.8,372.9 1102.7,346.9 1103.5,369.2 1104.3,347.7 1105.1,367.9 1105.9,343.9 1106.7,370.9 1107.5,332.1 1108.3,368.9 1109.1,345.5 1109.9,367.2 1110.7,344.2 1111.5,363.1 1112.3,330.3 1113.1,374.2 1113.9,338.1 1114.7,367.9 1115.5,343.7 1116.3,364 1117.1,343.6 1117.9,374.6 1118.7,346 1119.5,376.3 1120.3,340.1 1121.1,380.1 1121.9,345.1 1122.7,384.3 1123.5,353.2 1124.3,380.2 1125.2,338.5 1126,379.3 1126.8,353.9 1127.6,382.6 1128.4,350.1 1129.2,382.1 1130,347.2 1130.8,379.8 1131.6,348.9 1132.4,381.8 1133.2,351.5 1134,389.7 1134.8,351.6 1135.6,373.9 1136.4,349.5 1137.2,390.8 1138,349.5 1138.8,385.2 1139.6,361.9 1140.4,386.6 1141.2,350 1142,387.5 1142.8,351.6 1143.6,383.7 1144.4,360.7 1145.2,395.4 1146.1,356.7 1146.9,382.1 1147.7,350.3 1148.5,390.3 1149.3,343.5 1150.1,380 1150.9,362.8 1151.7,385 1152.5,356.9 1153.3,383.7 1154.1,360.3 1154.9,386 1155.7,351.8 1156.5,388.9 1157.3,354.1 1158.1,397.4 1158.9,344.3 1159.7,383.9 1160.5,352.7 1161.3,389.2 1162.1,352.4 1162.9,383.8 1163.7,358.8 1164.5,379.3 1165.3,353.9 1166.1,382.1 1166.9,345.1 1167.7,375.6 1168.6,355.3 1169.4,381.3 1170.2,354 1171,384.2 1171.8,357.9 1172.6,376.9 1173.4,356.5 1174.2,394.4 1175,343.8 1175.8,372.8 1176.6,337.7 1177.4,373.2 1178.2,342.4 1179,371.8 1179.8,345.8 1180.6,386.7 1181.4,345.6 1182.2,389.2 1183,354.6 1183.8,374.1 1184.6,349.3 1185.4,374.7 1186.2,353.2 1187,391.6 1187.8,351.3 1188.6,381.3 1189.4,344.5 1190.2,380.5 1191.1,353.6 1191.9,386 1192.7,357 1193.5,376.2 1194.3,353.6 1195.1,378.4 1195.9,354.2 1196.7,392.8 1197.5,346.3 1198.3,376.8 1199.1,356.5 1199.9,377.1 1200.7,354.9 1201.5,391.6 1202.3,349.3 1203.1,373.1 1203.9,350.8 1204.7,382.4 1205.5,347.7 1206.3,385.4 1207.1,358.4 1207.9,392 1208.7,343 1209.5,387.8 1210.3,357.3 1211.1,381.5 1212,352.6 1212.8,382 1213.6,352.8 1214.4,391.7 1215.2,349.4 1216,392.8 1216.8,357.2 1217.6,385 1218.4,361.9 1219.2,384.1 1220,352.8 1220.8,387.9 1221.6,350 1222.4,378.3 1223.2,357.7 1224,378 1224.8,352.7 1225.6,387.5 1226.4,348.7 1227.2,376.2 1228,357.1 1228.8,375.3 1229.6,351.8 1230.4,379.3 1231.2,353.1 1232,376.7 1232.8,342.8 1233.6,370.9 1234.5,348.2 1235.3,379.7 1236.1,344.5 1236.9,377.6 1237.7,345 1238.5,397.6 1239.3,343.7 1240.1,369.3 1240.9,347 1241.7,378.1 1242.5,345.8 1243.3,365.5 1244.1,347.8 1244.9,379.4 1245.7,348.3 1246.5,377.7 1247.3,349.9 1248.1,382.6 1248.9,350.4 1249.7,381.6 1250.5,355.4 1251.3,378.3 1252.1,353.3 1252.9,371.5 1253.7,357.1 1254.5,375.3 1255.4,351.5 1256.2,386.3 1257,359.1 1257.8,379.7 1258.6,359.4 1259.4,381.9 1260.2,359 1261,383.6 1261.8,343.4 1262.6,383.6 1263.4,350.1 1264.2,381.5 1265,359.2 1265.8,378.5 1266.6,355.7 1267.4,392.8 1268.2,357.6 1269,377.7 1269.8,351 1270.6,378.8 1271.4,359.7 1272.2,381.4 1273,351.5 1273.8,377.4 1274.6,358.3 1275.4,381.1 1276.2,339.3 1277,374.1 1277.9,354.5 1278.7,376.3 1279.5,350.6 1280.3,376.7 1281.1,348.3 1281.9,371.9 1282.7,348.5 1283.5,377.6 1284.3,344.3 1285.1,383.1 1285.9,342.3 1286.7,375.5 1287.5,342.1 1288.3,370.4 1289.1,351 1289.9,381.9 1290.7,349.9 1291.5,373.6 1292.3,349.1 1293.1,390.8 1293.9,355.8 1294.7,376.4 1295.5,351.6 1296.3,377.5 1297.1,352.2 1297.9,388.5 1298.7,355.9 1299.5,375.4 1300.4,355 1301.2,379.4 1302,349.3 1302.8,382 1303.6,356.5 1304.4,376.1 1305.2,347.3 1306,379.5 1306.8,339.8 1307.6,373.6 1308.4,351.2 1309.2,379.5 1310,349.6 1310,379" fill="none" stroke="#000" stroke-width="1.35" stroke-linejoin="round" opacity=".65"/>
<polyline points="1025.5,370.4 1026.3,391.2 1027.1,366.3 1027.9,388 1028.7,365 1029.5,395.7 1030.3,367.5 1031.1,386.8 1031.9,363.8 1032.7,387.4 1033.5,363.9 1034.3,387.7 1035.1,358.1 1035.9,386.4 1036.8,362.6 1037.6,381.5 1038.4,360.1 1039.2,383.8 1040,358.8 1040.8,379.9 1041.6,359.5 1042.4,381.9 1043.2,351.7 1044,379.7 1044.8,358.1 1045.6,382 1046.4,354.1 1047.2,376.2 1048,356.5 1048.8,380 1049.6,353.2 1050.4,379 1051.2,355.6 1052,375.9 1052.8,356.6 1053.6,374.3 1054.4,351.9 1055.2,374.8 1056,349.9 1056.8,373.5 1057.6,350.2 1058.4,374.9 1059.3,354.8 1060.1,378.7 1060.9,356.3 1061.7,379.9 1062.5,347.9 1063.3,373.4 1064.1,350.7 1064.9,372.7 1065.7,348.1 1066.5,379.7 1067.3,349.4 1068.1,379.9 1068.9,352.6 1069.7,377.1 1070.5,348.7 1071.3,371.2 1072.1,348 1072.9,372.6 1073.7,345.9 1074.5,367.8 1075.3,345.4 1076.1,369.4 1076.9,353 1077.7,377.2 1078.5,348.8 1079.3,374.4 1080.1,347.2 1080.9,370.2 1081.8,346.8 1082.6,367.8 1083.4,351.3 1084.2,369.8 1085,350.8 1085.8,370.6 1086.6,348.5 1087.4,370.2 1088.2,351.3 1089,376.3 1089.8,353.6 1090.6,374 1091.4,352.9 1092.2,372 1093,346.8 1093.8,370.3 1094.6,346.7 1095.4,366 1096.2,342.4 1097,369.6 1097.8,347.8 1098.6,365.8 1099.4,343.7 1100.2,368.9 1101,342.3 1101.8,365 1102.7,347.8 1103.5,371.5 1104.3,348.6 1105.1,367.7 1105.9,348.6 1106.7,367.7 1107.5,341 1108.3,375.2 1109.1,347.1 1109.9,367.9 1110.7,344.5 1111.5,364.3 1112.3,346.3 1113.1,370.3 1113.9,337.1 1114.7,361.8 1115.5,344.1 1116.3,367.1 1117.1,347.9 1117.9,366.4 1118.7,350.4 1119.5,373.3 1120.3,347.6 1121.1,373.7 1121.9,351.7 1122.7,373.1 1123.5,350 1124.3,376 1125.2,346.4 1126,373.9 1126.8,355.4 1127.6,377.2 1128.4,353 1129.2,375.6 1130,352.8 1130.8,378.2 1131.6,351.1 1132.4,376.4 1133.2,354.1 1134,376 1134.8,352.9 1135.6,379 1136.4,358 1137.2,380.5 1138,357.9 1138.8,386.3 1139.6,357 1140.4,385.8 1141.2,362.4 1142,384.3 1142.8,361.6 1143.6,384.2 1144.4,358.2 1145.2,384.4 1146.1,358.3 1146.9,384.6 1147.7,362 1148.5,382.2 1149.3,357.4 1150.1,378 1150.9,363.5 1151.7,385.5 1152.5,361.4 1153.3,380.5 1154.1,364 1154.9,386.5 1155.7,361.5 1156.5,380.2 1157.3,360.6 1158.1,383.7 1158.9,358.1 1159.7,386.2 1160.5,361.1 1161.3,381.3 1162.1,360.8 1162.9,380.5 1163.7,356 1164.5,376.7 1165.3,352.1 1166.1,377.6 1166.9,355.6 1167.7,374.5 1168.6,353.2 1169.4,378 1170.2,357 1171,377.1 1171.8,357.6 1172.6,377.2 1173.4,356.8 1174.2,375.2 1175,351.4 1175.8,376.9 1176.6,349.5 1177.4,371.1 1178.2,350 1179,375.9 1179.8,353.4 1180.6,378.8 1181.4,349 1182.2,376.9 1183,351.4 1183.8,372.7 1184.6,350 1185.4,376.5 1186.2,351.7 1187,372.7 1187.8,350.8 1188.6,371.5 1189.4,345.7 1190.2,377.8 1191.1,353 1191.9,376.7 1192.7,356.3 1193.5,377.9 1194.3,356.4 1195.1,375.8 1195.9,354.1 1196.7,376 1197.5,355.6 1198.3,374.3 1199.1,351.8 1199.9,375.6 1200.7,353.2 1201.5,375.2 1202.3,352.7 1203.1,373 1203.9,349.3 1204.7,372.2 1205.5,356.9 1206.3,383.6 1207.1,355.5 1207.9,378.3 1208.7,360.4 1209.5,382.4 1210.3,358.1 1211.1,376.7 1212,356.5 1212.8,380.2 1213.6,359 1214.4,385.6 1215.2,362.5 1216,384.8 1216.8,359.3 1217.6,383.5 1218.4,361.7 1219.2,383.4 1220,361.1 1220.8,381.9 1221.6,357.4 1222.4,381.4 1223.2,353.9 1224,377.3 1224.8,355.4 1225.6,374.5 1226.4,352.1 1227.2,378.2 1228,353.8 1228.8,383.7 1229.6,353.7 1230.4,377.9 1231.2,353.4 1232,372.5 1232.8,348.8 1233.6,372.8 1234.5,352.3 1235.3,369.8 1236.1,348.5 1236.9,368.5 1237.7,349.3 1238.5,369.5 1239.3,344.5 1240.1,367.2 1240.9,346.5 1241.7,366.8 1242.5,345.3 1243.3,370.8 1244.1,349.3 1244.9,368.8 1245.7,350.4 1246.5,376.6 1247.3,352.8 1248.1,374.7 1248.9,352.3 1249.7,374.9 1250.5,353.5 1251.3,374.9 1252.1,349.9 1252.9,373.7 1253.7,353.4 1254.5,376.9 1255.4,355.8 1256.2,377 1257,356.7 1257.8,381 1258.6,360.3 1259.4,379.9 1260.2,348.9 1261,377.8 1261.8,356.8 1262.6,386.4 1263.4,357.8 1264.2,382 1265,357.1 1265.8,379.4 1266.6,355.6 1267.4,377.8 1268.2,357.6 1269,385.3 1269.8,358.5 1270.6,377.7 1271.4,359.8 1272.2,378 1273,353.6 1273.8,384.2 1274.6,356.8 1275.4,383.4 1276.2,353.3 1277,374.7 1277.9,350.2 1278.7,374.6 1279.5,343.6 1280.3,371.6 1281.1,347.5 1281.9,376.1 1282.7,346 1283.5,373.1 1284.3,346.1 1285.1,372.8 1285.9,348.2 1286.7,370 1287.5,345.3 1288.3,370.6 1289.1,351 1289.9,370.6 1290.7,353.1 1291.5,373.9 1292.3,356.3 1293.1,377.3 1293.9,356.5 1294.7,375.9 1295.5,355.7 1296.3,380 1297.1,352.6 1297.9,375.9 1298.7,351.6 1299.5,376 1300.4,355.6 1301.2,374 1302,352.8 1302.8,377.4 1303.6,348.5 1304.4,376.9 1305.2,355.4 1306,376.1 1306.8,352.9 1307.6,373.2 1308.4,355.4 1309.2,375.9 1310,357.4 1310,376.7" fill="none" stroke="#000" stroke-width="1.8" stroke-linejoin="round"/>
<path d="M1053.6 604.3v-5M1053.6 273.2v5M1082.1 604.3v-9.5M1082.1 273.2v9.5M1110.5 604.3v-5M1110.5 273.2v5M1139 604.3v-9.5M1139 273.2v9.5M1167.4 604.3v-5M1167.4 273.2v5M1195.8 604.3v-9.5M1195.8 273.2v9.5M1224.3 604.3v-5M1224.3 273.2v5M1252.7 604.3v-9.5M1252.7 273.2v9.5M1281.2 604.3v-5M1281.2 273.2v5M1025.2 562.9h5M1309.6 562.9h-5M1025.2 521.5h9.5M1309.6 521.5h-9.5M1025.2 480.1h5M1309.6 480.1h-5M1025.2 438.7h9.5M1309.6 438.7h-9.5M1025.2 397.4h5M1309.6 397.4h-5M1025.2 356h9.5M1309.6 356h-9.5M1025.2 314.6h5M1309.6 314.6h-5" stroke="#5a5a5a" stroke-width="1.2" fill="none"/>
</g>
<g id="panelE" filter="url(#b)">
<rect x="1384" y="270.2" width="286.8" height="334.7" fill="none" stroke="#8a8a8a" stroke-width="1.9"/>
<polyline points="1384.3,554.7 1385.1,567.8 1386,555.8 1386.9,570.5 1387.7,560.2 1388.6,574.4 1389.4,558 1390.3,567 1391.1,555.9 1392,566 1392.8,554.5 1393.7,565.7 1394.5,561 1395.4,570 1396.3,562.9 1397.1,577.3 1398,562 1398.8,571.1 1399.7,555.6 1400.5,569.2 1401.4,563.9 1402.2,575.2 1403.1,571.5 1403.9,579.6 1404.8,570.2 1405.6,579.7 1406.5,573.9 1407.4,582.8 1408.2,576.2 1409.1,587.4 1409.9,575.3 1410.8,587.7 1411.6,578.3 1412.5,589.5 1413.3,573.3 1414.2,590 1415,574.6 1415.9,587.2 1416.7,574.8 1417.6,589.8 1418.5,578.8 1419.3,591.8 1420.2,575.7 1421,586.9 1421.9,574.7 1422.7,584.9 1423.6,575.5 1424.4,584.4 1425.3,576.2 1426.1,585.6 1427,577.3 1427.8,585.6 1428.7,579.3 1429.6,588.1 1430.4,576.6 1431.3,590.9 1432.1,578.4 1433,586 1433.8,574.5 1434.7,589.2 1435.5,573.1 1436.4,587 1437.2,576.7 1438.1,587.3 1438.9,572.1 1439.8,586.9 1440.7,577 1441.5,590.3 1442.4,579.3 1443.2,589.8 1444.1,577.8 1444.9,590.2 1445.8,575.2 1446.6,585.1 1447.5,572.9 1448.3,585.5 1449.2,579.3 1450,590.4 1450.9,580 1451.8,589.9 1452.6,578.2 1453.5,586.3 1454.3,578.5 1455.2,587.3 1456,574.8 1456.9,583 1457.7,559.5 1458.6,580.1 1459.4,566.1 1460.3,576.7 1461.1,560.9 1462,575.3 1462.9,557.6 1463.7,567.7 1464.6,560.7 1465.4,574.2 1466.3,559.2 1467.1,574.7 1468,556.5 1468.8,565.8 1469.7,555.5 1470.5,569 1471.4,559.8 1472.2,575 1473.1,564.2 1474,574.9 1474.8,566.6 1475.7,577.7 1476.5,565.5 1477.4,579.7 1478.2,574.1 1479.1,581.6 1479.9,573.8 1480.8,582.5 1481.6,574.4 1482.5,585.7 1483.3,572.9 1484.2,590.3 1485.1,577.3 1485.9,585.5 1486.8,572.7 1487.6,587.7 1488.5,572.2 1489.3,582.2 1490.2,563.6 1491,578.6 1491.9,564.2 1492.7,573.6 1493.6,559.3 1494.4,573.8 1495.3,563.7 1496.2,574.3 1497,558.5 1497.9,571.7 1498.7,565.5 1499.6,573.8 1500.4,570.3 1501.3,582.5 1502.1,575.5 1503,588.3 1503.8,575.2 1504.7,588.1 1505.5,570.1 1506.4,583.5 1507.3,574.5 1508.1,585 1509,575.5 1509.8,585.1 1510.7,571.5 1511.5,588.8 1512.4,576.3 1513.2,585.1 1514.1,571.6 1514.9,586.3 1515.8,569.6 1516.6,589.7 1517.5,574.1 1518.4,586.4 1519.2,570.6 1520.1,579.6 1520.9,563 1521.8,576.2 1522.6,565.2 1523.5,572.9 1524.3,562.4 1525.2,579.4 1526,560.9 1526.9,573 1527.8,549.7 1528.6,564.1 1529.5,551.3 1530.3,558.6 1531.2,550.8 1532,559.7 1532.9,549.9 1533.7,561.7 1534.6,546.4 1535.4,563.8 1536.3,554.1 1537.1,564.4 1538,551.2 1538.8,562 1539.7,555.7 1540.6,564.4 1541.4,555 1542.3,569.2 1543.1,557.7 1544,572 1544.8,558.4 1545.7,569.5 1546.5,562.2 1547.4,570.4 1548.2,562.7 1549.1,574.2 1550,562.8 1550.8,576.2 1551.7,560.2 1552.5,577.6 1553.4,569.3 1554.2,585.4 1555.1,569.3 1555.9,583 1556.8,565.7 1557.6,578.7 1558.5,560.7 1559.3,576.2 1560.2,557.4 1561,566.5 1561.9,553.9 1562.8,564.6 1563.6,556.8 1564.5,570 1565.3,561.3 1566.2,574.3 1567,568 1567.9,581.8 1568.7,566.9 1569.6,577.4 1570.4,567.8 1571.3,580 1572.2,560.7 1573,577.6 1573.9,560.5 1574.7,571.6 1575.6,557.6 1576.4,568.5 1577.3,555.4 1578.1,570.7 1579,560.9 1579.8,571.9 1580.7,555.8 1581.5,566.4 1582.4,550 1583.2,560.9 1584.1,557.1 1585,566.3 1585.8,557.6 1586.7,566.9 1587.5,558.8 1588.4,568.7 1589.2,560 1590.1,571.6 1590.9,564.6 1591.8,576 1592.6,561 1593.5,575.2 1594.4,565 1595.2,575.3 1596.1,569.1 1596.9,579.4 1597.8,571.4 1598.6,582.7 1599.5,571.6 1600.3,582.7 1601.2,575.1 1602,586.8 1602.9,572.6 1603.7,581.7 1604.6,569.4 1605.4,580.8 1606.3,570.3 1607.2,583.5 1608,578.7 1608.9,587.5 1609.7,575.6 1610.6,589.7 1611.4,569.3 1612.3,581.9 1613.1,575.8 1614,585.3 1614.8,574.6 1615.7,585.3 1616.6,568.4 1617.4,586.2 1618.3,573.5 1619.1,583.5 1620,576.2 1620.8,587 1621.7,570.5 1622.5,582.9 1623.4,568.6 1624.2,592.1 1625.1,575.2 1625.9,591.8 1626.8,572.9 1627.6,581.7 1628.5,572.9 1629.4,586.7 1630.2,575.8 1631.1,587.3 1631.9,574.7 1632.8,583.6 1633.6,571.2 1634.5,587.8 1635.3,578.2 1636.2,588.1 1637,577.6 1637.9,592.7 1638.8,577.3 1639.6,588.8 1640.5,576.1 1641.3,590.8 1642.2,575.2 1643,587.5 1643.9,576.1 1644.7,587.7 1645.6,569.4 1646.4,585.7 1647.3,573.5 1648.1,582.2 1649,574.9 1649.8,589 1650.7,576.1 1651.6,587 1652.4,568.9 1653.3,585.4 1654.1,577.7 1655,587.9 1655.8,575.2 1656.7,588.2 1657.5,577.6 1658.4,587.6 1659.2,573.7 1660.1,590.3 1661,576.6 1661.8,586.9 1662.7,577.4 1663.5,587.8 1664.4,578.2 1665.2,586.3 1666.1,573.9 1666.9,586.1 1667.8,574.4 1668.6,585.5 1669.5,577 1670.3,588.7 1671.2,573.2 1671.2,586.9" fill="none" stroke="#ff0" stroke-width="1.27" stroke-linejoin="round" opacity=".65"/>
<polyline points="1384.3,558.2 1385.1,568.4 1386,559.2 1386.9,569.2 1387.7,559.8 1388.6,569.8 1389.4,560 1390.3,569.6 1391.1,555.7 1392,564.3 1392.8,555.3 1393.7,564.4 1394.5,560.6 1395.4,568.4 1396.3,565 1397.1,572.3 1398,561.4 1398.8,570.5 1399.7,560.4 1400.5,568 1401.4,567.3 1402.2,575.6 1403.1,571.1 1403.9,580.4 1404.8,571 1405.6,580.4 1406.5,572.9 1407.4,581 1408.2,576.1 1409.1,585.3 1409.9,579 1410.8,586.6 1411.6,578.5 1412.5,586.4 1413.3,575.4 1414.2,585 1415,574.4 1415.9,584.2 1416.7,577.2 1417.6,585.5 1418.5,577.5 1419.3,586.5 1420.2,575.2 1421,585.4 1421.9,577.7 1422.7,585.9 1423.6,573.7 1424.4,583.4 1425.3,576.2 1426.1,583.9 1427,577.8 1427.8,585.9 1428.7,579.4 1429.6,587.1 1430.4,578.7 1431.3,586.3 1432.1,578.7 1433,587 1433.8,576.4 1434.7,585.7 1435.5,574 1436.4,583.3 1437.2,576.2 1438.1,585.3 1438.9,576.2 1439.8,585.1 1440.7,579 1441.5,586.5 1442.4,580 1443.2,587.6 1444.1,578 1444.9,587.9 1445.8,575.1 1446.6,585.8 1447.5,574.4 1448.3,584.6 1449.2,579.4 1450,588.5 1450.9,579.2 1451.8,588.3 1452.6,578.5 1453.5,587.2 1454.3,577.1 1455.2,586.6 1456,573.8 1456.9,583.1 1457.7,565.9 1458.6,577.8 1459.4,568.4 1460.3,576.2 1461.1,562.8 1462,571.7 1462.9,559.3 1463.7,568.2 1464.6,562.7 1465.4,569.8 1466.3,557.9 1467.1,567.2 1468,555.9 1468.8,567.8 1469.7,558.8 1470.5,567.2 1471.4,561.1 1472.2,570.2 1473.1,568 1474,575.4 1474.8,566.1 1475.7,575.2 1476.5,569.1 1477.4,578 1478.2,573.7 1479.1,582 1479.9,572.8 1480.8,582.1 1481.6,573.7 1482.5,583.9 1483.3,577.1 1484.2,585.8 1485.1,575.6 1485.9,586.5 1486.8,577.2 1487.6,585.1 1488.5,570.1 1489.3,580.2 1490.2,568.8 1491,576.6 1491.9,564.8 1492.7,571.9 1493.6,563.3 1494.4,571.4 1495.3,563 1496.2,570.9 1497,562.1 1497.9,570.2 1498.7,566.6 1499.6,576.5 1500.4,569.4 1501.3,578.6 1502.1,577.5 1503,584.5 1503.8,573.5 1504.7,584.8 1505.5,573.7 1506.4,580.9 1507.3,575.8 1508.1,584.9 1509,573.7 1509.8,584.1 1510.7,574.4 1511.5,584 1512.4,576.1 1513.2,584.4 1514.1,575.2 1514.9,586.2 1515.8,576.7 1516.6,587.2 1517.5,573.8 1518.4,583.6 1519.2,570.4 1520.1,579 1520.9,564.9 1521.8,575.4 1522.6,564.1 1523.5,574.5 1524.3,566.1 1525.2,575.4 1526,559.1 1526.9,569.6 1527.8,553.9 1528.6,564.2 1529.5,550.1 1530.3,560.6 1531.2,549.9 1532,559.3 1532.9,551.9 1533.7,560.1 1534.6,551.7 1535.4,560.8 1536.3,554.3 1537.1,563.4 1538,554.4 1538.8,562.4 1539.7,555.7 1540.6,563.3 1541.4,557.7 1542.3,565.4 1543.1,557 1544,565.7 1544.8,558.2 1545.7,565.8 1546.5,562.5 1547.4,572.1 1548.2,564.3 1549.1,573 1550,564.2 1550.8,573.2 1551.7,566.6 1552.5,575.6 1553.4,569.5 1554.2,577.9 1555.1,569.5 1555.9,578.1 1556.8,566.8 1557.6,575.6 1558.5,564.2 1559.3,572.1 1560.2,556.6 1561,568.4 1561.9,555 1562.8,563.9 1563.6,560.4 1564.5,569.7 1565.3,562.3 1566.2,572.1 1567,567.9 1567.9,575.5 1568.7,568.3 1569.6,576.9 1570.4,568.9 1571.3,576.4 1572.2,568.6 1573,577.3 1573.9,564.4 1574.7,573.9 1575.6,560.6 1576.4,569.2 1577.3,560.3 1578.1,569.7 1579,560.8 1579.8,568.2 1580.7,555.3 1581.5,564 1582.4,550.7 1583.2,563 1584.1,556 1585,564.1 1585.8,557.6 1586.7,564.9 1587.5,557.8 1588.4,567.4 1589.2,562.6 1590.1,571.9 1590.9,563.4 1591.8,574.3 1592.6,563.1 1593.5,572.7 1594.4,568 1595.2,575.2 1596.1,569.3 1596.9,577.2 1597.8,570.9 1598.6,579.3 1599.5,573.1 1600.3,581.4 1601.2,575.7 1602,585.7 1602.9,574.8 1603.7,582.3 1604.6,569.6 1605.4,578.6 1606.3,571.5 1607.2,584.7 1608,576.4 1608.9,587.7 1609.7,576.5 1610.6,585.8 1611.4,574.3 1612.3,581.2 1613.1,574.5 1614,583.5 1614.8,578.5 1615.7,587.2 1616.6,573.8 1617.4,583.9 1618.3,574.2 1619.1,583.3 1620,577 1620.8,584.5 1621.7,573.8 1622.5,583.6 1623.4,575.7 1624.2,584.3 1625.1,572.6 1625.9,582.3 1626.8,573.6 1627.6,581 1628.5,577.3 1629.4,585.7 1630.2,577.6 1631.1,587.9 1631.9,576.4 1632.8,583.7 1633.6,574.1 1634.5,584 1635.3,577.7 1636.2,587.9 1637,577.2 1637.9,586 1638.8,577.4 1639.6,585.7 1640.5,578.3 1641.3,586.9 1642.2,576.8 1643,586.1 1643.9,576.2 1644.7,583.6 1645.6,573.3 1646.4,582.2 1647.3,573.8 1648.1,582.4 1649,576.3 1649.8,584.6 1650.7,575.2 1651.6,583.7 1652.4,576.7 1653.3,584 1654.1,577 1655,584.8 1655.8,576.9 1656.7,585 1657.5,578 1658.4,586 1659.2,577.7 1660.1,585.1 1661,577.6 1661.8,585.8 1662.7,577.2 1663.5,585.6 1664.4,577.5 1665.2,586.7 1666.1,577 1666.9,586.2 1667.8,576.5 1668.6,586.8 1669.5,577.2 1670.3,587.2 1671.2,577.1 1671.2,588.3" fill="none" stroke="#ff0" stroke-width="1.7" stroke-linejoin="round"/>
<polyline points="1384.3,570.5 1385.1,596.8 1385.9,563.6 1386.7,594.7 1387.5,563.5 1388.3,583.4 1389.1,564.6 1389.9,589.7 1390.7,563.8 1391.5,591.5 1392.3,569.9 1393.1,583.3 1393.9,567.2 1394.7,588.6 1395.5,567.1 1396.3,593.3 1397.1,562.2 1397.9,583.1 1398.7,564.2 1399.5,585.4 1400.3,567.9 1401.1,584.4 1401.9,565.4 1402.7,590 1403.5,566.3 1404.3,592.4 1405.1,564.3 1405.9,584.1 1406.7,560.9 1407.5,582.7 1408.3,561.3 1409.1,582.4 1409.9,558.8 1410.7,587.6 1411.5,561.8 1412.3,588.2 1413.2,566.3 1414,581.6 1414.8,561.1 1415.6,584.7 1416.4,563.5 1417.2,587.8 1418,562.3 1418.8,584.3 1419.6,560.9 1420.4,583.3 1421.2,556 1422,589 1422.8,559.4 1423.6,582.6 1424.4,561.9 1425.2,590.1 1426,565.7 1426.8,589.4 1427.6,566.3 1428.4,585.5 1429.2,561.9 1430,580.6 1430.8,562 1431.6,579.9 1432.4,563.6 1433.2,582.6 1434,563.8 1434.8,583.7 1435.6,557.8 1436.4,582.9 1437.2,562.4 1438,585.3 1438.8,562 1439.6,577.9 1440.4,553.2 1441.2,580.2 1442,557.1 1442.8,589.6 1443.6,554.7 1444.4,578.5 1445.2,564.8 1446,579.2 1446.8,563.4 1447.6,581 1448.4,553.4 1449.2,586 1450,564.8 1450.8,580.2 1451.6,562.4 1452.4,585.8 1453.2,554.7 1454,591.8 1454.8,566.2 1455.6,582.4 1456.4,562.2 1457.2,580.9 1458,554 1458.8,581.4 1459.6,559.4 1460.4,581.4 1461.2,566.7 1462,581.2 1462.8,553.4 1463.6,582.3 1464.4,559.8 1465.2,580.7 1466,559.3 1466.8,579.9 1467.6,560.6 1468.4,579.3 1469.2,560.2 1470,586.4 1470.9,559.5 1471.7,579.5 1472.5,556.4 1473.3,588.9 1474.1,554.3 1474.9,581.3 1475.7,561.3 1476.5,578.6 1477.3,560.6 1478.1,584.3 1478.9,566.8 1479.7,580.4 1480.5,563.1 1481.3,587.4 1482.1,564.6 1482.9,584.4 1483.7,565.2 1484.5,577.9 1485.3,564.1 1486.1,580.7 1486.9,564.9 1487.7,579.4 1488.5,563.9 1489.3,586.2 1490.1,558.6 1490.9,590 1491.7,552.2 1492.5,579.3 1493.3,563.2 1494.1,582.3 1494.9,564.7 1495.7,593.7 1496.5,557.3 1497.3,582.5 1498.1,560.8 1498.9,578.5 1499.7,562 1500.5,578.2 1501.3,555.4 1502.1,577.1 1502.9,564 1503.7,582.5 1504.5,568.2 1505.3,589.1 1506.1,558.9 1506.9,584.4 1507.7,568.5 1508.5,585.1 1509.3,561 1510.1,583 1510.9,567.9 1511.7,581.7 1512.5,558.5 1513.3,580.6 1514.1,560 1514.9,583.8 1515.7,566.6 1516.5,585.7 1517.3,564.9 1518.1,588.8 1518.9,561.7 1519.7,584.4 1520.5,562.6 1521.3,578.9 1522.1,553.3 1522.9,579.2 1523.7,562.3 1524.5,583.3 1525.3,564.7 1526.1,583.6 1526.9,567.5 1527.7,581 1528.6,566.3 1529.4,584.5 1530.2,565.2 1531,588.7 1531.8,566.1 1532.6,579.5 1533.4,563.1 1534.2,586.5 1535,560.9 1535.8,582.8 1536.6,557.5 1537.4,578.5 1538.2,556.2 1539,578.6 1539.8,556.4 1540.6,579.9 1541.4,564.1 1542.2,579 1543,563 1543.8,578.7 1544.6,557.9 1545.4,582.7 1546.2,564.2 1547,582.8 1547.8,550.8 1548.6,582.4 1549.4,558.7 1550.2,576.5 1551,558.8 1551.8,577.7 1552.6,557.3 1553.4,580.6 1554.2,564.9 1555,578.9 1555.8,554.9 1556.6,577.4 1557.4,561.1 1558.2,576.1 1559,558.2 1559.8,584.7 1560.6,560.7 1561.4,578.9 1562.2,554.9 1563,576.1 1563.8,557.1 1564.6,580.8 1565.4,562.5 1566.2,580.3 1567,559.7 1567.8,579.1 1568.6,552.7 1569.4,575.8 1570.2,560 1571,577.5 1571.8,562.1 1572.6,575.6 1573.4,562.2 1574.2,577.4 1575,561.9 1575.8,576.9 1576.6,558.6 1577.4,578.8 1578.2,560.3 1579,591.3 1579.8,558.1 1580.6,574 1581.4,559.3 1582.2,576.3 1583,553.1 1583.8,576.9 1584.6,560.9 1585.4,577.4 1586.3,559.9 1587.1,584 1587.9,557.1 1588.7,587.7 1589.5,550.2 1590.3,579.9 1591.1,552.2 1591.9,574.8 1592.7,556.7 1593.5,578.6 1594.3,559.4 1595.1,583.6 1595.9,549.5 1596.7,579.2 1597.5,559.3 1598.3,586.1 1599.1,551.4 1599.9,578.5 1600.7,554 1601.5,577.8 1602.3,555.8 1603.1,577.6 1603.9,558.4 1604.7,577.7 1605.5,557.8 1606.3,576.6 1607.1,556.2 1607.9,574.7 1608.7,559.7 1609.5,580.8 1610.3,559.9 1611.1,578.7 1611.9,561 1612.7,583 1613.5,559.9 1614.3,590 1615.1,555.7 1615.9,577.8 1616.7,563 1617.5,578.2 1618.3,559.2 1619.1,582.2 1619.9,560.3 1620.7,575.3 1621.5,557.6 1622.3,578.7 1623.1,556.6 1623.9,574 1624.7,558.4 1625.5,574.4 1626.3,561.5 1627.1,579.1 1627.9,561.4 1628.7,581.1 1629.5,555 1630.3,584.2 1631.1,564.7 1631.9,578.4 1632.7,564.9 1633.5,581.7 1634.3,561.3 1635.1,585.8 1635.9,555.8 1636.7,579.5 1637.5,548.4 1638.3,577.2 1639.1,550.7 1639.9,580.8 1640.7,556 1641.5,575.4 1642.3,553.3 1643.1,582.9 1644,557.7 1644.8,576.5 1645.6,558.5 1646.4,577.8 1647.2,562.9 1648,581.7 1648.8,554.8 1649.6,575.8 1650.4,559 1651.2,578.7 1652,558.9 1652.8,576.7 1653.6,558.6 1654.4,576.6 1655.2,557.6 1656,577.1 1656.8,558.9 1657.6,580.3 1658.4,542.1 1659.2,582.4 1660,560.4 1660.8,576.3 1661.6,555.9 1662.4,582.8 1663.2,563.5 1664,585.7 1664.8,559.9 1665.6,582.8 1666.4,564.6 1667.2,579.6 1668,557.1 1668.8,580.2 1669.6,563.1 1670.4,581.5 1671.2,560.3 1671.2,578.5" fill="none" stroke="#bc8f8f" stroke-width="1.35" stroke-linejoin="round" opacity=".65"/>
<polyline points="1384.3,570.3 1385.1,584.3 1385.9,569.2 1386.7,582.7 1387.5,567.2 1388.3,584.6 1389.1,567.5 1389.9,581.4 1390.7,569.6 1391.5,585.4 1392.3,569.8 1393.1,585.4 1393.9,567.8 1394.7,583.9 1395.5,567.5 1396.3,585.8 1397.1,564.9 1397.9,582.4 1398.7,563.8 1399.5,580.6 1400.3,566.9 1401.1,587 1401.9,568 1402.7,582.9 1403.5,568.4 1404.3,584.1 1405.1,563 1405.9,581.8 1406.7,563.6 1407.5,581.5 1408.3,562.8 1409.1,579.3 1409.9,565 1410.7,582 1411.5,563.9 1412.3,584.3 1413.2,565.7 1414,586.7 1414.8,561.7 1415.6,579.9 1416.4,565.7 1417.2,584 1418,565.4 1418.8,580.2 1419.6,563.5 1420.4,581.9 1421.2,564.4 1422,579 1422.8,563.1 1423.6,577 1424.4,563.8 1425.2,579.8 1426,566 1426.8,585.8 1427.6,566.1 1428.4,585.6 1429.2,566.1 1430,581 1430.8,562.7 1431.6,578.3 1432.4,559.7 1433.2,579.4 1434,565.9 1434.8,584.2 1435.6,563.3 1436.4,580.5 1437.2,559.8 1438,583.1 1438.8,562.5 1439.6,579.2 1440.4,562 1441.2,578.6 1442,563.8 1442.8,578.2 1443.6,564.3 1444.4,577.6 1445.2,565.4 1446,580.2 1446.8,562.7 1447.6,579.4 1448.4,565.1 1449.2,578.9 1450,564.3 1450.8,579.3 1451.6,562.8 1452.4,578.6 1453.2,563.3 1454,581.5 1454.8,565.5 1455.6,582.2 1456.4,565.9 1457.2,580.1 1458,563.9 1458.8,578.2 1459.6,562.4 1460.4,580.8 1461.2,565.5 1462,582 1462.8,565.7 1463.6,580.4 1464.4,561.7 1465.2,577.2 1466,563.8 1466.8,579.6 1467.6,560.6 1468.4,577.1 1469.2,563.1 1470,582.5 1470.9,563.1 1471.7,577.2 1472.5,561 1473.3,576.9 1474.1,561.9 1474.9,576.6 1475.7,564.4 1476.5,578.4 1477.3,563.8 1478.1,581.3 1478.9,561.9 1479.7,581.2 1480.5,562.5 1481.3,578.4 1482.1,562.5 1482.9,581.3 1483.7,563.6 1484.5,579.8 1485.3,564.7 1486.1,583.5 1486.9,562.8 1487.7,581.4 1488.5,565.8 1489.3,583.7 1490.1,565.7 1490.9,580.9 1491.7,560.7 1492.5,579.2 1493.3,563 1494.1,580.5 1494.9,563 1495.7,582.9 1496.5,561.5 1497.3,578 1498.1,560.6 1498.9,576.5 1499.7,562.1 1500.5,579.3 1501.3,558.8 1502.1,577.1 1502.9,565.4 1503.7,582.9 1504.5,565.2 1505.3,580.9 1506.1,568.6 1506.9,587.1 1507.7,565.6 1508.5,586.1 1509.3,566.5 1510.1,585 1510.9,564.8 1511.7,580.9 1512.5,566.2 1513.3,582 1514.1,563.2 1514.9,581.5 1515.7,566.9 1516.5,582.2 1517.3,564.9 1518.1,582.2 1518.9,565.4 1519.7,580.5 1520.5,565.2 1521.3,581.5 1522.1,563.5 1522.9,577.5 1523.7,565.1 1524.5,581.3 1525.3,563 1526.1,582.1 1526.9,567.5 1527.7,587.2 1528.6,566.7 1529.4,585.6 1530.2,564.6 1531,584.9 1531.8,565.6 1532.6,582 1533.4,563.9 1534.2,583.5 1535,561.7 1535.8,582 1536.6,560.7 1537.4,578.7 1538.2,562.2 1539,581.5 1539.8,563.3 1540.6,580.9 1541.4,564.5 1542.2,577.4 1543,562.7 1543.8,578 1544.6,561 1545.4,577.2 1546.2,563.8 1547,578 1547.8,563.5 1548.6,579.1 1549.4,560.6 1550.2,580.2 1551,564 1551.8,577.9 1552.6,561.3 1553.4,580.1 1554.2,562.6 1555,580.7 1555.8,562.1 1556.6,576.7 1557.4,560 1558.2,576.3 1559,561.4 1559.8,575.3 1560.6,560 1561.4,577.8 1562.2,557.4 1563,575.5 1563.8,562 1564.6,575.9 1565.4,557.1 1566.2,580.4 1567,560.5 1567.8,575.4 1568.6,560.9 1569.4,576.2 1570.2,560.1 1571,578.2 1571.8,562 1572.6,577.2 1573.4,561.4 1574.2,576.9 1575,561 1575.8,576.2 1576.6,558 1577.4,575 1578.2,560 1579,575.4 1579.8,559.5 1580.6,573 1581.4,561.4 1582.2,576.6 1583,563.2 1583.8,576.3 1584.6,559.5 1585.4,577.2 1586.3,561.3 1587.1,580 1587.9,560.8 1588.7,575 1589.5,560.2 1590.3,573.8 1591.1,556.7 1591.9,577.8 1592.7,556.8 1593.5,573.5 1594.3,558 1595.1,574.6 1595.9,556 1596.7,575.5 1597.5,559.5 1598.3,575.4 1599.1,559.5 1599.9,573.2 1600.7,557.5 1601.5,574.7 1602.3,559.3 1603.1,576.5 1603.9,560.9 1604.7,575.8 1605.5,556.6 1606.3,575 1607.1,560.9 1607.9,577 1608.7,558.4 1609.5,576 1610.3,558.1 1611.1,578.7 1611.9,557.5 1612.7,576.2 1613.5,560.1 1614.3,577 1615.1,561.9 1615.9,581.8 1616.7,560.7 1617.5,577.1 1618.3,561.5 1619.1,575.9 1619.9,561.9 1620.7,575.9 1621.5,557.3 1622.3,576.8 1623.1,558.7 1623.9,576.9 1624.7,560.3 1625.5,576.6 1626.3,558.5 1627.1,576.4 1627.9,560.4 1628.7,578.4 1629.5,563.2 1630.3,577.2 1631.1,563.3 1631.9,581.5 1632.7,565.8 1633.5,579.3 1634.3,561.6 1635.1,582.7 1635.9,562.3 1636.7,578 1637.5,556.9 1638.3,574.6 1639.1,558.8 1639.9,576.9 1640.7,557 1641.5,577.2 1642.3,561 1643.1,577.3 1644,562 1644.8,577.2 1645.6,561.4 1646.4,575.5 1647.2,556.9 1648,576.8 1648.8,562.5 1649.6,577.6 1650.4,559.1 1651.2,575.6 1652,558.9 1652.8,579.1 1653.6,560.9 1654.4,576.1 1655.2,564 1656,577.1 1656.8,561.3 1657.6,577.7 1658.4,562 1659.2,581.3 1660,559.5 1660.8,577 1661.6,562.9 1662.4,578.5 1663.2,563.6 1664,580.8 1664.8,559.4 1665.6,578.7 1666.4,560.9 1667.2,577.4 1668,561.9 1668.8,577.5 1669.6,562.3 1670.4,576.9 1671.2,562.2 1671.2,580.4" fill="none" stroke="#bc8f8f" stroke-width="1.8" stroke-linejoin="round"/>
<polyline points="1384.3,585.2 1385.1,595.2 1386,585.1 1386.9,591.2 1387.7,584.5 1388.6,591.4 1389.4,585.7 1390.3,591.1 1391.1,584.5 1392,592.1 1392.8,583.6 1393.7,594.2 1394.5,585.7 1395.4,592.5 1396.3,580.4 1397.1,593.2 1398,586.1 1398.8,592.4 1399.7,585.2 1400.5,593.2 1401.4,584.2 1402.2,593.4 1403.1,584.8 1403.9,592.8 1404.8,585.5 1405.6,592.6 1406.5,586 1407.4,594 1408.2,587.5 1409.1,593.3 1409.9,583.3 1410.8,593 1411.6,587.1 1412.5,592.6 1413.3,585.8 1414.2,593 1415,585.8 1415.9,592.1 1416.7,585.1 1417.6,591.2 1418.5,585.9 1419.3,591.8 1420.2,585.2 1421,592.6 1421.9,588.4 1422.7,596.9 1423.6,586.4 1424.4,597.6 1425.3,587.3 1426.1,593 1427,584.7 1427.8,593.5 1428.7,584.9 1429.6,591.6 1430.4,584.4 1431.3,593 1432.1,582.7 1433,593 1433.8,582.5 1434.7,591.2 1435.5,585.1 1436.4,591.6 1437.2,585.5 1438.1,592.5 1438.9,583.8 1439.8,592.2 1440.7,586.3 1441.5,592.3 1442.4,583.8 1443.2,592.2 1444.1,586.2 1444.9,593.2 1445.8,585.7 1446.6,592.7 1447.5,584.6 1448.3,592.8 1449.2,585 1450,592.4 1450.9,586.4 1451.8,592.5 1452.6,584.4 1453.5,594 1454.3,585.4 1455.2,592.8 1456,584.3 1456.9,592.5 1457.7,584.5 1458.6,592 1459.4,585.3 1460.3,593.3 1461.1,587.2 1462,594.5 1462.9,586.3 1463.7,596.2 1464.6,586.2 1465.4,593 1466.3,584.7 1467.1,592.7 1468,584.4 1468.8,592.9 1469.7,582.5 1470.5,593.2 1471.4,585.8 1472.2,592 1473.1,584.2 1474,591.3 1474.8,583.3 1475.7,592.2 1476.5,584 1477.4,592.3 1478.2,586.3 1479.1,592.7 1479.9,585.5 1480.8,593.1 1481.6,586.2 1482.5,591.9 1483.3,583.6 1484.2,591.4 1485.1,585.1 1485.9,592.2 1486.8,585.8 1487.6,592.4 1488.5,584.9 1489.3,593.7 1490.2,586.4 1491,592.8 1491.9,585.6 1492.7,594.5 1493.6,585.1 1494.4,592.1 1495.3,585.8 1496.2,592.4 1497,583.9 1497.9,593.6 1498.7,582.8 1499.6,591.3 1500.4,586 1501.3,591.9 1502.1,584.7 1503,592.1 1503.8,586.5 1504.7,593.4 1505.5,584.8 1506.4,594 1507.3,585.6 1508.1,592 1509,586.3 1509.8,593.1 1510.7,586.8 1511.5,594.3 1512.4,586.2 1513.2,593.5 1514.1,584.2 1514.9,591.9 1515.8,583.9 1516.6,592.9 1517.5,584.3 1518.4,592.2 1519.2,585.8 1520.1,592.1 1520.9,583.9 1521.8,591.3 1522.6,584.6 1523.5,591.2 1524.3,582.9 1525.2,590.4 1526,583.9 1526.9,592.2 1527.8,584.7 1528.6,593.3 1529.5,584 1530.3,593.5 1531.2,585.5 1532,592 1532.9,584.2 1533.7,593.1 1534.6,583.5 1535.4,591.9 1536.3,585.7 1537.1,593 1538,582.9 1538.8,592.1 1539.7,585.8 1540.6,592.6 1541.4,585.6 1542.3,591.5 1543.1,584.7 1544,594.6 1544.8,584.1 1545.7,593.7 1546.5,584 1547.4,592.9 1548.2,585.4 1549.1,592.3 1550,585.2 1550.8,592.6 1551.7,583.7 1552.5,593.5 1553.4,585.3 1554.2,593.9 1555.1,585.7 1555.9,593.6 1556.8,586.1 1557.6,595.6 1558.5,587.2 1559.3,594.8 1560.2,586.5 1561,593.6 1561.9,585.8 1562.8,593.1 1563.6,584.4 1564.5,594.2 1565.3,585.1 1566.2,593 1567,586.9 1567.9,594.4 1568.7,585.3 1569.6,594 1570.4,584.5 1571.3,593.6 1572.2,585.2 1573,593 1573.9,584.8 1574.7,595.5 1575.6,587.6 1576.4,594.6 1577.3,584.3 1578.1,592.5 1579,585.5 1579.8,592 1580.7,586.1 1581.5,592.5 1582.4,585.7 1583.2,596 1584.1,584.7 1585,595.3 1585.8,583.9 1586.7,591.8 1587.5,585.9 1588.4,592.3 1589.2,584.5 1590.1,592.2 1590.9,587.1 1591.8,594.4 1592.6,587 1593.5,592.7 1594.4,585.3 1595.2,594.1 1596.1,583.6 1596.9,592.9 1597.8,585.5 1598.6,592.7 1599.5,585.3 1600.3,595 1601.2,585.1 1602,593 1602.9,584.3 1603.7,593.7 1604.6,585.5 1605.4,592.8 1606.3,582.8 1607.2,594.2 1608,584.6 1608.9,591.9 1609.7,585.9 1610.6,592.6 1611.4,586.1 1612.3,592.4 1613.1,584.3 1614,593.1 1614.8,585.3 1615.7,592.4 1616.6,586.1 1617.4,592.1 1618.3,586.7 1619.1,596.7 1620,586.1 1620.8,595.8 1621.7,587.5 1622.5,595.5 1623.4,585.7 1624.2,593.5 1625.1,585.7 1625.9,593.7 1626.8,584.9 1627.6,592.1 1628.5,582.8 1629.4,592.2 1630.2,584.4 1631.1,592.9 1631.9,585.2 1632.8,592.6 1633.6,584.9 1634.5,592.6 1635.3,584.3 1636.2,592.6 1637,584.6 1637.9,592.8 1638.8,586.4 1639.6,592.3 1640.5,585.8 1641.3,591.9 1642.2,585 1643,593.1 1643.9,587 1644.7,593.6 1645.6,585.9 1646.4,593.9 1647.3,586.2 1648.1,594 1649,585.8 1649.8,592.5 1650.7,585.8 1651.6,594.9 1652.4,586.3 1653.3,593.5 1654.1,586.5 1655,593.6 1655.8,585.9 1656.7,592.3 1657.5,585.4 1658.4,593.6 1659.2,584.9 1660.1,593.1 1661,584.7 1661.8,591.7 1662.7,584.7 1663.5,592.5 1664.4,585.3 1665.2,592.7 1666.1,584.3 1666.9,592.4 1667.8,585.5 1668.6,592.9 1669.5,586.3 1670.3,592.9 1671.2,585.2 1671.2,595.3" fill="none" stroke="#fff" stroke-width="1.27" stroke-linejoin="round" opacity=".65"/>
<polyline points="1384.3,585 1385.1,592.2 1386,584.3 1386.9,591.2 1387.7,584.9 1388.6,591.5 1389.4,585.7 1390.3,592.2 1391.1,586.3 1392,595.4 1392.8,584 1393.7,593.5 1394.5,584.8 1395.4,593.6 1396.3,584.3 1397.1,592.1 1398,583.4 1398.8,593.6 1399.7,586.5 1400.5,593.5 1401.4,586.1 1402.2,592.2 1403.1,585.8 1403.9,592.2 1404.8,586.9 1405.6,595.3 1406.5,586.5 1407.4,594 1408.2,585.2 1409.1,593.7 1409.9,586.1 1410.8,593.7 1411.6,584.7 1412.5,593.6 1413.3,585.4 1414.2,595.8 1415,584 1415.9,592.5 1416.7,584 1417.6,591.5 1418.5,584.2 1419.3,593.3 1420.2,585.5 1421,594.1 1421.9,587.8 1422.7,595.9 1423.6,587.2 1424.4,593.9 1425.3,586.7 1426.1,596.2 1427,585.8 1427.8,594.1 1428.7,581.6 1429.6,591.8 1430.4,585.1 1431.3,592.9 1432.1,583.2 1433,592.1 1433.8,582.6 1434.7,592.5 1435.5,585.3 1436.4,592.9 1437.2,585.6 1438.1,592.9 1438.9,584.2 1439.8,592.6 1440.7,584.5 1441.5,592.7 1442.4,586 1443.2,593.2 1444.1,586 1444.9,593.4 1445.8,583.5 1446.6,592.6 1447.5,583.9 1448.3,592.2 1449.2,584.3 1450,593.7 1450.9,585.8 1451.8,592.9 1452.6,585.7 1453.5,594.7 1454.3,585.9 1455.2,592.8 1456,585.3 1456.9,592.4 1457.7,585.9 1458.6,592.7 1459.4,585.8 1460.3,595.5 1461.1,588.2 1462,595.6 1462.9,586.8 1463.7,593.1 1464.6,586.4 1465.4,592 1466.3,584.3 1467.1,593.5 1468,584.9 1468.8,594.6 1469.7,585.5 1470.5,592.4 1471.4,584.6 1472.2,592.1 1473.1,582.9 1474,592.2 1474.8,584.1 1475.7,591.2 1476.5,584.9 1477.4,594.9 1478.2,585.6 1479.1,592.9 1479.9,584.2 1480.8,592.1 1481.6,585.4 1482.5,591.9 1483.3,584.8 1484.2,593.3 1485.1,582.5 1485.9,591.6 1486.8,584.7 1487.6,591.8 1488.5,584 1489.3,592.8 1490.2,585.1 1491,592.5 1491.9,583.2 1492.7,593.4 1493.6,585.6 1494.4,594.5 1495.3,585.1 1496.2,593.4 1497,584.6 1497.9,591.7 1498.7,585.1 1499.6,594.5 1500.4,583.9 1501.3,592.6 1502.1,584 1503,592.8 1503.8,586.5 1504.7,592.9 1505.5,586.1 1506.4,592.5 1507.3,585.1 1508.1,593 1509,585.6 1509.8,592.9 1510.7,584.7 1511.5,594.4 1512.4,586.2 1513.2,592.3 1514.1,585.4 1514.9,592.8 1515.8,583.6 1516.6,591.4 1517.5,585.5 1518.4,592.7 1519.2,585.2 1520.1,592.7 1520.9,583.6 1521.8,593.9 1522.6,581.6 1523.5,591.4 1524.3,584.4 1525.2,591.7 1526,584.9 1526.9,590.6 1527.8,583.6 1528.6,593.3 1529.5,585.8 1530.3,593.5 1531.2,585.5 1532,593.5 1532.9,585.9 1533.7,595.2 1534.6,582.8 1535.4,591.5 1536.3,585.8 1537.1,593.2 1538,584 1538.8,592.4 1539.7,583.2 1540.6,591.9 1541.4,585.5 1542.3,591.6 1543.1,584.9 1544,592.1 1544.8,584 1545.7,593.1 1546.5,584.9 1547.4,592.2 1548.2,583.9 1549.1,593.1 1550,585.3 1550.8,592.6 1551.7,583.5 1552.5,593.4 1553.4,586.2 1554.2,593.7 1555.1,586.4 1555.9,595.2 1556.8,584.7 1557.6,594.8 1558.5,586.4 1559.3,596 1560.2,585 1561,593.9 1561.9,586.1 1562.8,595.4 1563.6,584.8 1564.5,592.7 1565.3,584.8 1566.2,593.2 1567,585.8 1567.9,596.7 1568.7,583.8 1569.6,592.7 1570.4,584.4 1571.3,591.5 1572.2,585.6 1573,593.1 1573.9,584.9 1574.7,595.2 1575.6,586.8 1576.4,594.7 1577.3,583.5 1578.1,592.3 1579,585.3 1579.8,594.7 1580.7,586.5 1581.5,595 1582.4,587.3 1583.2,594.4 1584.1,586.1 1585,592.9 1585.8,584.1 1586.7,591.9 1587.5,585.2 1588.4,596.8 1589.2,586.4 1590.1,593.5 1590.9,585.6 1591.8,594.1 1592.6,583.4 1593.5,594.1 1594.4,584.8 1595.2,595.7 1596.1,585.9 1596.9,594.2 1597.8,585.3 1598.6,593.5 1599.5,585.6 1600.3,592.1 1601.2,584.6 1602,593.1 1602.9,583.5 1603.7,593.4 1604.6,585.3 1605.4,593.4 1606.3,582.3 1607.2,593.1 1608,583 1608.9,591.9 1609.7,581.7 1610.6,593.6 1611.4,584.8 1612.3,592.9 1613.1,585.5 1614,592.4 1614.8,585.5 1615.7,595.8 1616.6,586.2 1617.4,593.7 1618.3,584.4 1619.1,593.9 1620,585.8 1620.8,592.9 1621.7,585.9 1622.5,593.7 1623.4,586.4 1624.2,596.8 1625.1,585.4 1625.9,592.1 1626.8,584.8 1627.6,591 1628.5,585.2 1629.4,593 1630.2,585.9 1631.1,593.5 1631.9,585 1632.8,593 1633.6,583.8 1634.5,592.1 1635.3,584.3 1636.2,593.4 1637,582.8 1637.9,592.8 1638.8,586.6 1639.6,592.4 1640.5,585.7 1641.3,593.5 1642.2,585.9 1643,592.9 1643.9,584.2 1644.7,594.1 1645.6,584 1646.4,593.4 1647.3,586 1648.1,593.3 1649,585.4 1649.8,592.1 1650.7,585.7 1651.6,593 1652.4,586.3 1653.3,595.5 1654.1,586.4 1655,592.7 1655.8,586.7 1656.7,593.4 1657.5,585.6 1658.4,593.6 1659.2,584.5 1660.1,591.5 1661,581.8 1661.8,592.1 1662.7,583.1 1663.5,593 1664.4,583.8 1665.2,595.4 1666.1,586.3 1666.9,592.6 1667.8,585.6 1668.6,593.8 1669.5,585 1670.3,592.6 1671.2,586.9 1671.2,592.9" fill="none" stroke="#fff" stroke-width="1.7" stroke-linejoin="round"/>
<polygon points="1384.2,587.7 1385.9,588.1 1387.6,588 1389.3,587.1 1391,589.1 1392.8,587.8 1394.5,587.6 1396.2,589.4 1397.9,588.2 1399.6,586.7 1401.3,587.8 1403,587.9 1404.7,579.7 1406.4,578.2 1408.2,575.1 1409.9,575.4 1411.6,578.4 1413.3,580 1415,577.8 1416.7,579.2 1418.4,577.8 1420.1,579.3 1421.8,580.3 1423.5,580.6 1425.3,579.6 1427,578.5 1428.7,578.3 1430.4,574.6 1432.1,579.1 1433.8,577.2 1435.5,579.7 1437.2,581 1438.9,581.7 1440.7,581.1 1442.4,580.7 1444.1,579.7 1445.8,579.5 1447.5,578.2 1449.2,579.8 1450.9,579.5 1452.6,579.5 1454.3,589 1456,586.5 1457.8,587.3 1459.5,589.6 1461.2,588.4 1462.9,587 1464.6,587.4 1466.3,586.3 1468,588.8 1469.7,588.5 1471.4,586.7 1473.2,587.3 1474.9,587.6 1476.6,585.2 1478.3,587.5 1480,582.1 1481.7,584.3 1483.4,580.9 1485.1,588.2 1486.8,586.5 1488.6,587.7 1490.3,587.6 1492,586.4 1493.7,590.6 1495.4,587.6 1497.1,588.6 1498.8,587.9 1500.5,587.4 1502.2,587.1 1504,586.9 1505.7,587.4 1507.4,586.4 1509.1,587.6 1510.8,587.8 1512.5,586.8 1514.2,587.2 1515.9,589.6 1517.6,588.4 1519.3,587.1 1521.1,588.5 1522.8,588.6 1524.5,589 1526.2,586.6 1527.9,586.5 1529.6,588.2 1531.3,587.8 1533,587.3 1534.7,588.1 1536.5,589 1538.2,587.7 1539.9,588.3 1541.6,588.9 1543.3,587.2 1545,587 1546.7,586.6 1548.4,589.2 1550.1,587.3 1551.8,586.7 1553.6,586.8 1555.3,589.4 1557,587.5 1558.7,590 1560.4,588.3 1562.1,587.5 1563.8,587.1 1565.5,587.9 1567.2,586.8 1569,588.7 1570.7,587.2 1572.4,586.7 1574.1,587.9 1575.8,588.5 1577.5,586.6 1579.2,587.5 1580.9,587.9 1582.6,586.6 1584.4,588.9 1586.1,589.3 1587.8,586.3 1589.5,586.8 1591.2,588.1 1592.9,586.9 1594.6,571.7 1596.3,574.7 1598,575.2 1599.8,573.3 1601.5,574.8 1603.2,573.4 1604.9,575.1 1606.6,574.8 1608.3,575.7 1610,574.4 1611.7,576.8 1613.4,572.5 1615.1,577.3 1616.9,576.5 1618.6,572.7 1620.3,577.4 1622,577.4 1623.7,574.4 1625.4,575.5 1627.1,574.5 1628.8,574.8 1630.5,578.6 1632.3,577.1 1634,574.9 1635.7,578.8 1637.4,576.2 1639.1,578.8 1640.8,574.5 1642.5,577.9 1644.2,579.6 1645.9,574 1647.6,573.3 1649.4,576.9 1651.1,577.6 1652.8,577.8 1654.5,578.9 1656.2,578.5 1657.9,579.2 1659.6,579 1661.3,577.2 1663,580.7 1664.8,579.1 1666.5,572.6 1668.2,575.9 1669.9,576 1671.6,578.9 1671.6,585.6 1669.9,586.4 1668.2,588.1 1666.5,586.1 1664.8,587.1 1663,589.8 1661.3,587.8 1659.6,585.5 1657.9,586.4 1656.2,585.8 1654.5,588.4 1652.8,587.3 1651.1,588 1649.4,585.9 1647.6,586.8 1645.9,586.3 1644.2,585.6 1642.5,586.9 1640.8,587.1 1639.1,585.9 1637.4,586.7 1635.7,588.1 1634,586.7 1632.3,586.7 1630.5,587.5 1628.8,586.5 1627.1,587.3 1625.4,586.9 1623.7,586 1622,586.6 1620.3,587.4 1618.6,586.7 1616.9,586.1 1615.1,588.8 1613.4,591.4 1611.7,586.6 1610,586.8 1608.3,588.2 1606.6,587.4 1604.9,585.1 1603.2,587.1 1601.5,586.3 1599.8,586.6 1598,586.5 1596.3,586.7 1594.6,585.2 1592.9,586.9 1591.2,588.1 1589.5,586.8 1587.8,586.3 1586.1,589.3 1584.4,588.9 1582.6,586.6 1580.9,587.9 1579.2,587.5 1577.5,586.6 1575.8,588.5 1574.1,587.9 1572.4,586.7 1570.7,587.2 1569,588.7 1567.2,586.8 1565.5,587.9 1563.8,587.1 1562.1,587.5 1560.4,588.3 1558.7,590 1557,587.5 1555.3,589.4 1553.6,586.8 1551.8,586.7 1550.1,587.3 1548.4,589.2 1546.7,586.6 1545,587 1543.3,587.2 1541.6,588.9 1539.9,588.3 1538.2,587.7 1536.5,589 1534.7,588.1 1533,587.3 1531.3,587.8 1529.6,588.2 1527.9,586.5 1526.2,586.6 1524.5,589 1522.8,588.6 1521.1,588.5 1519.3,587.1 1517.6,588.4 1515.9,589.6 1514.2,587.2 1512.5,586.8 1510.8,587.8 1509.1,587.6 1507.4,586.4 1505.7,587.4 1504,586.9 1502.2,587.1 1500.5,587.4 1498.8,587.9 1497.1,588.6 1495.4,587.6 1493.7,590.6 1492,586.4 1490.3,587.6 1488.6,587.7 1486.8,586.5 1485.1,588.2 1483.4,588.3 1481.7,587.1 1480,588.1 1478.3,587.5 1476.6,585.2 1474.9,587.6 1473.2,587.3 1471.4,586.7 1469.7,588.5 1468,588.8 1466.3,586.3 1464.6,587.4 1462.9,587 1461.2,588.4 1459.5,589.6 1457.8,587.3 1456,586.5 1454.3,589 1452.6,587.7 1450.9,587.6 1449.2,587.4 1447.5,588 1445.8,589.2 1444.1,587.3 1442.4,587.5 1440.7,588.1 1438.9,588.6 1437.2,588 1435.5,587.1 1433.8,589.4 1432.1,590.2 1430.4,586.3 1428.7,588.6 1427,586.6 1425.3,588.4 1423.5,588.1 1421.8,586.7 1420.1,587.7 1418.4,586.9 1416.7,588.3 1415,588.3 1413.3,586.8 1411.6,586.4 1409.9,588.8 1408.2,589.5 1406.4,589.5 1404.7,589.4 1403,587.9 1401.3,587.8 1399.6,586.7 1397.9,588.2 1396.2,589.4 1394.5,587.6 1392.8,587.8 1391,589.1 1389.3,587.1 1387.6,588 1385.9,588.1 1384.2,587.7" fill="#ff0"/>
<polygon points="1384.2,596.1 1385.8,599.3 1387.4,593.8 1389,594 1390.6,597.9 1392.2,595.9 1393.8,595.9 1395.4,599 1397,593.7 1398.7,592.5 1400.3,592.6 1401.9,595.5 1403.5,597.9 1405.1,598.5 1406.7,597.6 1408.3,594.6 1409.9,595.1 1411.5,595.6 1413.1,595.6 1414.7,589.6 1416.3,589.1 1417.9,594.7 1419.5,593.5 1421.1,596.5 1422.7,594.6 1424.3,595.2 1425.9,593.6 1427.6,592.6 1429.2,590.1 1430.8,593.1 1432.4,593.3 1434,593.9 1435.6,592.2 1437.2,595.1 1438.8,596.1 1440.4,589.7 1442,594.2 1443.6,595.6 1445.2,591 1446.8,591.6 1448.4,593.9 1450,592.6 1451.6,590.1 1453.2,595.6 1454.8,591.5 1456.5,592.1 1458.1,590.6 1459.7,596.2 1461.3,593.9 1462.9,588.3 1464.5,591.7 1466.1,592.7 1467.7,596.5 1469.3,588.6 1470.9,592.3 1472.5,592.2 1474.1,594.8 1475.7,591.8 1477.3,597.4 1478.9,593.8 1480.5,594.2 1482.1,595.2 1483.7,590.1 1485.4,593.4 1487,593.5 1488.6,596.1 1490.2,595.4 1491.8,592.4 1493.4,594.3 1495,596.4 1496.6,596.1 1498.2,595.2 1499.8,596.3 1501.4,593.8 1503,596.4 1504.6,591.8 1506.2,593.7 1507.8,594.8 1509.4,590.8 1511,592.7 1512.6,591.5 1514.3,597.6 1515.9,594.3 1517.5,589.6 1519.1,593 1520.7,593.2 1522.3,594.6 1523.9,593.4 1525.5,591.9 1527.1,596.7 1528.7,594.6 1530.3,591.5 1531.9,595.4 1533.5,594.7 1535.1,595.9 1536.7,592.2 1538.3,590.8 1539.9,594.3 1541.5,593.1 1543.2,591.9 1544.8,592.5 1546.4,589.8 1548,588.1 1549.6,597.6 1551.2,593.2 1552.8,593.8 1554.4,595.1 1556,590.8 1557.6,592.3 1559.2,596.3 1560.8,594.4 1562.4,595.1 1564,593.7 1565.6,594.9 1567.2,592.1 1568.8,590.5 1570.4,594.4 1572.1,595.4 1573.7,593.8 1575.3,590.4 1576.9,587.5 1578.5,593.7 1580.1,593 1581.7,591.6 1583.3,594 1584.9,593.9 1586.5,591.8 1588.1,591.6 1589.7,594 1591.3,592.5 1592.9,595.5 1594.5,593 1596.1,592 1597.7,590.3 1599.3,590.4 1601,592.2 1602.6,590.8 1604.2,592.3 1605.8,593.3 1607.4,591.7 1609,595.2 1610.6,594.5 1612.2,594.6 1613.8,596.7 1615.4,594.5 1617,591.2 1618.6,591.3 1620.2,591.1 1621.8,590.1 1623.4,594.7 1625,595.2 1626.6,589.5 1628.2,587 1629.9,593.9 1631.5,594.6 1633.1,593.4 1634.7,592.5 1636.3,591.2 1637.9,592.7 1639.5,589.2 1641.1,591.6 1642.7,593.2 1644.3,594.2 1645.9,592.9 1647.5,586.4 1649.1,591.3 1650.7,592.6 1652.3,592.6 1653.9,595.2 1655.5,588.4 1657.1,596.2 1658.8,596 1660.4,594.6 1662,593.1 1663.6,595.2 1665.2,597 1666.8,593.1 1668.4,591 1670,590.6 1671.6,592.4 1671.6,605.6 1670,605.6 1668.4,605.6 1666.8,605.6 1665.2,605.6 1663.6,605.6 1662,605.6 1660.4,605.6 1658.8,605.6 1657.1,605.6 1655.5,605.6 1653.9,605.6 1652.3,605.6 1650.7,605.6 1649.1,605.6 1647.5,605.6 1645.9,605.6 1644.3,605.6 1642.7,605.6 1641.1,605.6 1639.5,605.6 1637.9,605.6 1636.3,605.6 1634.7,605.6 1633.1,605.6 1631.5,605.6 1629.9,605.6 1628.2,605.6 1626.6,605.6 1625,605.6 1623.4,605.6 1621.8,605.6 1620.2,605.6 1618.6,605.6 1617,605.6 1615.4,605.6 1613.8,605.6 1612.2,605.6 1610.6,605.6 1609,605.6 1607.4,605.6 1605.8,605.6 1604.2,605.6 1602.6,605.6 1601,605.6 1599.3,605.6 1597.7,605.6 1596.1,605.6 1594.5,605.6 1592.9,605.6 1591.3,605.6 1589.7,605.6 1588.1,605.6 1586.5,605.6 1584.9,605.6 1583.3,605.6 1581.7,605.6 1580.1,605.6 1578.5,605.6 1576.9,605.6 1575.3,605.6 1573.7,605.6 1572.1,605.6 1570.4,605.6 1568.8,605.6 1567.2,605.6 1565.6,605.6 1564,605.6 1562.4,605.6 1560.8,605.6 1559.2,605.6 1557.6,605.6 1556,605.6 1554.4,605.6 1552.8,605.6 1551.2,605.6 1549.6,605.6 1548,605.6 1546.4,605.6 1544.8,605.6 1543.2,605.6 1541.5,605.6 1539.9,605.6 1538.3,605.6 1536.7,605.6 1535.1,605.6 1533.5,605.6 1531.9,605.6 1530.3,605.6 1528.7,605.6 1527.1,605.6 1525.5,605.6 1523.9,605.6 1522.3,605.6 1520.7,605.6 1519.1,605.6 1517.5,605.6 1515.9,605.6 1514.3,605.6 1512.6,605.6 1511,605.6 1509.4,605.6 1507.8,605.6 1506.2,605.6 1504.6,605.6 1503,605.6 1501.4,605.6 1499.8,605.6 1498.2,605.6 1496.6,605.6 1495,605.6 1493.4,605.6 1491.8,605.6 1490.2,605.6 1488.6,605.6 1487,605.6 1485.4,605.6 1483.7,605.6 1482.1,605.6 1480.5,605.6 1478.9,605.6 1477.3,605.6 1475.7,605.6 1474.1,605.6 1472.5,605.6 1470.9,605.6 1469.3,605.6 1467.7,605.6 1466.1,605.6 1464.5,605.6 1462.9,605.6 1461.3,605.6 1459.7,605.6 1458.1,605.6 1456.5,605.6 1454.8,605.6 1453.2,605.6 1451.6,605.6 1450,605.6 1448.4,605.6 1446.8,605.6 1445.2,605.6 1443.6,605.6 1442,605.6 1440.4,605.6 1438.8,605.6 1437.2,605.6 1435.6,605.6 1434,605.6 1432.4,605.6 1430.8,605.6 1429.2,605.6 1427.6,605.6 1425.9,605.6 1424.3,605.6 1422.7,605.6 1421.1,605.6 1419.5,605.6 1417.9,605.6 1416.3,605.6 1414.7,605.6 1413.1,605.6 1411.5,605.6 1409.9,605.6 1408.3,605.6 1406.7,605.6 1405.1,605.6 1403.5,605.6 1401.9,605.6 1400.3,605.6 1398.7,605.6 1397,605.6 1395.4,605.6 1393.8,605.6 1392.2,605.6 1390.6,605.6 1389,605.6 1387.4,605.6 1385.8,605.6 1384.2,605.6" fill="#0ff"/>
<path d="M1385 598.9H1669.8" stroke="#30f" stroke-width="1.4" stroke-dasharray="2.5 3 1 4 3 2"/>
<path d="M1385 599.9H1669.8" stroke="#9400d3" stroke-width="1.2" stroke-dasharray="1 9 2 14 1 7"/>
<polyline points="1384.3,517.9 1385,531.4 1385.8,516.6 1386.6,528.5 1387.3,518.3 1388.1,528.2 1388.8,514.1 1389.6,530.6 1390.3,521.5 1391.1,535.5 1391.8,522.8 1392.6,530.4 1393.3,524.1 1394.1,531.5 1394.8,518.4 1395.6,527.6 1396.3,518.8 1397.1,529.1 1397.8,518.6 1398.6,527.4 1399.3,519.7 1400.1,529 1400.8,523.2 1401.6,533.4 1402.3,520.4 1403.1,532 1403.8,522.4 1404.6,530.4 1405.3,521 1406.1,532.6 1406.8,521.3 1407.6,535.4 1408.3,521.8 1409.1,534.2 1409.8,522.1 1410.6,534.2 1411.3,521.7 1412.1,530.2 1412.8,518.1 1413.6,528 1414.3,518.8 1415.1,529.3 1415.8,519 1416.6,529.5 1417.3,520.4 1418.1,528.3 1418.8,517.6 1419.6,532.2 1420.4,523.6 1421.1,532.5 1421.9,520.5 1422.6,532.3 1423.4,522.2 1424.1,536.3 1424.9,522.2 1425.6,534.9 1426.4,521.2 1427.1,530.9 1427.9,522.2 1428.6,532 1429.4,522.5 1430.1,531.8 1430.9,521.7 1431.6,537.3 1432.4,519.8 1433.1,538.3 1433.9,523.8 1434.6,536.6 1435.4,523.7 1436.1,531.4 1436.9,526.5 1437.6,533.3 1438.4,527.1 1439.1,540.7 1439.9,523.2 1440.6,534.5 1441.4,526.3 1442.1,534.8 1442.9,523.5 1443.6,530.3 1444.4,519.7 1445.1,530.2 1445.9,518.5 1446.6,532.2 1447.4,520.8 1448.1,534.4 1448.9,521.5 1449.6,530.8 1450.4,519.8 1451.1,534.5 1451.9,518.7 1452.6,528.8 1453.4,517.9 1454.1,525.9 1454.9,514.4 1455.6,523.1 1456.4,512.6 1457.2,528.2 1457.9,513.7 1458.7,523.3 1459.4,513.3 1460.2,527.1 1460.9,515.4 1461.7,523.8 1462.4,510.8 1463.2,525.2 1463.9,509.6 1464.7,520.2 1465.4,512.9 1466.2,519.4 1466.9,514.6 1467.7,524.5 1468.4,512 1469.2,526.1 1469.9,512.5 1470.7,521.6 1471.4,513.4 1472.2,523.2 1472.9,517.2 1473.7,523.4 1474.4,512.1 1475.2,529.1 1475.9,511.6 1476.7,532.3 1477.4,513.4 1478.2,527.3 1478.9,514.7 1479.7,524.1 1480.4,514.9 1481.2,526.8 1481.9,511.4 1482.7,526.3 1483.4,509.4 1484.2,524.4 1484.9,517.8 1485.7,532.9 1486.4,519.1 1487.2,527.5 1487.9,515.6 1488.7,522.3 1489.4,513 1490.2,522.7 1490.9,512.1 1491.7,518.4 1492.5,513.8 1493.2,523.4 1494,513.8 1494.7,527.3 1495.5,517.5 1496.2,523.4 1497,514.2 1497.7,527.1 1498.5,512 1499.2,526.3 1500,513.3 1500.7,527.7 1501.5,516.2 1502.2,528.1 1503,516.5 1503.7,523.3 1504.5,512.2 1505.2,524.6 1506,515 1506.7,522.5 1507.5,512.1 1508.2,524.4 1509,513.9 1509.7,527.5 1510.5,514.9 1511.2,524.3 1512,512.3 1512.7,525.4 1513.5,516.5 1514.2,522.3 1515,505.8 1515.7,521.5 1516.5,512.5 1517.2,528.9 1518,517.4 1518.7,527.2 1519.5,518.8 1520.2,527.5 1521,520.1 1521.7,529.1 1522.5,518.3 1523.2,530.5 1524,517.8 1524.7,532.5 1525.5,513.8 1526.2,525.6 1527,521.9 1527.7,530.6 1528.5,522.9 1529.3,536.3 1530,526.6 1530.8,533.5 1531.5,524.4 1532.3,533.7 1533,524.1 1533.8,537.6 1534.5,522.9 1535.3,533.8 1536,518.8 1536.8,531.7 1537.5,525.1 1538.3,536.3 1539,525.4 1539.8,534.7 1540.5,515.9 1541.3,531.2 1542,521.3 1542.8,531.9 1543.5,520.9 1544.3,529 1545,517.2 1545.8,530.4 1546.5,522.2 1547.3,530.3 1548,518.6 1548.8,533.2 1549.5,518.5 1550.3,526.3 1551,516 1551.8,529.3 1552.5,522.4 1553.3,531.3 1554,523.7 1554.8,532.1 1555.5,520.3 1556.3,534.6 1557,523.5 1557.8,533.3 1558.5,524.3 1559.3,537.6 1560,522.5 1560.8,533 1561.5,519.1 1562.3,529.6 1563,523.2 1563.8,532.1 1564.6,526.4 1565.3,535.6 1566.1,524.9 1566.8,534.5 1567.6,520 1568.3,532.2 1569.1,520.6 1569.8,532 1570.6,518.9 1571.3,528.5 1572.1,521.5 1572.8,529.2 1573.6,522.4 1574.3,529.3 1575.1,523.4 1575.8,531 1576.6,526.1 1577.3,536.2 1578.1,520.9 1578.8,538.3 1579.6,524.2 1580.3,532.8 1581.1,525.3 1581.8,536.7 1582.6,519.1 1583.3,539.3 1584.1,524.9 1584.8,533.3 1585.6,517.9 1586.3,533.6 1587.1,525.9 1587.8,537.6 1588.6,525.9 1589.3,536.3 1590.1,524.1 1590.8,535.2 1591.6,521 1592.3,533.7 1593.1,527 1593.8,535.3 1594.6,520.9 1595.3,534.3 1596.1,524.4 1596.8,534 1597.6,525 1598.3,540.6 1599.1,524.8 1599.8,536.1 1600.6,523.9 1601.4,533.2 1602.1,525.9 1602.9,535.6 1603.6,527.7 1604.4,535.4 1605.1,526.8 1605.9,537.6 1606.6,526.4 1607.4,535.9 1608.1,517.9 1608.9,534 1609.6,520.2 1610.4,528.8 1611.1,517.5 1611.9,532.5 1612.6,517.7 1613.4,526.4 1614.1,510.5 1614.9,527.2 1615.6,517.5 1616.4,526.6 1617.1,513 1617.9,528.8 1618.6,521.5 1619.4,532.3 1620.1,523.2 1620.9,530.8 1621.6,523.9 1622.4,537 1623.1,521.8 1623.9,530.3 1624.6,522.7 1625.4,528.8 1626.1,517.6 1626.9,529 1627.6,520.7 1628.4,534.1 1629.1,519.8 1629.9,531.3 1630.6,521.8 1631.4,535 1632.1,519.9 1632.9,531.8 1633.6,523 1634.4,534.6 1635.1,525.3 1635.9,531.5 1636.7,517.2 1637.4,531.6 1638.2,518.1 1638.9,531.6 1639.7,521.5 1640.4,529.3 1641.2,520.4 1641.9,533.5 1642.7,520.2 1643.4,530.6 1644.2,522.7 1644.9,529.2 1645.7,520.7 1646.4,530 1647.2,517.4 1647.9,529.3 1648.7,519.7 1649.4,528.2 1650.2,517.6 1650.9,526 1651.7,514.7 1652.4,526.6 1653.2,518.2 1653.9,525.8 1654.7,515.8 1655.4,526.2 1656.2,519.1 1656.9,531 1657.7,518.1 1658.4,526.3 1659.2,517.6 1659.9,525.7 1660.7,519.2 1661.4,529.9 1662.2,514.4 1662.9,526.6 1663.7,514.5 1664.4,526.7 1665.2,517.4 1665.9,526.5 1666.7,515.5 1667.4,533 1668.2,519.5 1668.9,526.7 1669.7,517.2 1670.4,528.2 1671.2,518.6 1671.2,526.5" fill="none" stroke="#f00" stroke-width="1.27" stroke-linejoin="round" opacity=".65"/>
<polyline points="1384.3,521.5 1385,532.3 1385.8,519.2 1386.6,529.2 1387.3,520.3 1388.1,528 1388.8,520.8 1389.6,528.5 1390.3,520 1391.1,529.3 1391.8,521.9 1392.6,530.1 1393.3,523.2 1394.1,531.5 1394.8,521.8 1395.6,528.6 1396.3,519.5 1397.1,527.6 1397.8,516.6 1398.6,527.3 1399.3,519.1 1400.1,528.5 1400.8,519.6 1401.6,529.3 1402.3,524 1403.1,532.3 1403.8,522.2 1404.6,529.9 1405.3,521 1406.1,526.9 1406.8,521 1407.6,529.1 1408.3,520.6 1409.1,529.6 1409.8,521 1410.6,529.8 1411.3,521.9 1412.1,530.8 1412.8,521.8 1413.6,530.5 1414.3,517.9 1415.1,527 1415.8,517.4 1416.6,527.2 1417.3,521.6 1418.1,528.8 1418.8,521.7 1419.6,529.4 1420.4,522.8 1421.1,530.6 1421.9,523.4 1422.6,531.5 1423.4,524.8 1424.1,532.1 1424.9,524.1 1425.6,530.5 1426.4,520.5 1427.1,531 1427.9,521.3 1428.6,528.6 1429.4,520.2 1430.1,529.4 1430.9,524.4 1431.6,531.2 1432.4,525.3 1433.1,532 1433.9,525.8 1434.6,536.3 1435.4,524.8 1436.1,531.2 1436.9,525.4 1437.6,533.2 1438.4,528.3 1439.1,535 1439.9,528.6 1440.6,534.4 1441.4,526.3 1442.1,534.3 1442.9,523.9 1443.6,530 1444.4,522.4 1445.1,531.1 1445.9,522.7 1446.6,529.4 1447.4,520 1448.1,531.1 1448.9,522.4 1449.6,531.1 1450.4,522.5 1451.1,530.1 1451.9,519.7 1452.6,525.7 1453.4,517.9 1454.1,525.9 1454.9,515.9 1455.6,522.5 1456.4,516.3 1457.2,523.6 1457.9,513.7 1458.7,522.1 1459.4,517.3 1460.2,523 1460.9,515.1 1461.7,522.2 1462.4,509.1 1463.2,520 1463.9,510.1 1464.7,519.6 1465.4,511.1 1466.2,523 1466.9,514 1467.7,523.4 1468.4,513.3 1469.2,522.5 1469.9,514.8 1470.7,522.6 1471.4,515.2 1472.2,525.4 1472.9,516.6 1473.7,523.8 1474.4,514.6 1475.2,523.6 1475.9,515.2 1476.7,523 1477.4,516.8 1478.2,523.2 1478.9,514.3 1479.7,521.8 1480.4,514.8 1481.2,522.3 1481.9,513.1 1482.7,519.5 1483.4,514.1 1484.2,520.5 1484.9,515.3 1485.7,526.1 1486.4,519 1487.2,526.9 1487.9,515.3 1488.7,523.7 1489.4,513.9 1490.2,520.2 1490.9,511.8 1491.7,520.5 1492.5,513.9 1493.2,522 1494,515.3 1494.7,521.4 1495.5,517 1496.2,523.5 1497,516.7 1497.7,526.2 1498.5,517.3 1499.2,524.6 1500,517.5 1500.7,523.6 1501.5,515.1 1502.2,523.3 1503,514.5 1503.7,523.1 1504.5,514.3 1505.2,522 1506,512.3 1506.7,521.6 1507.5,516.1 1508.2,522.1 1509,516.2 1509.7,524.5 1510.5,515.3 1511.2,522.9 1512,514.5 1512.7,524.1 1513.5,515.3 1514.2,523 1515,515.7 1515.7,523.6 1516.5,515.4 1517.2,521.3 1518,517.6 1518.7,527 1519.5,519.1 1520.2,526.2 1521,519.5 1521.7,528.4 1522.5,520.1 1523.2,527 1524,519.2 1524.7,527.4 1525.5,517.2 1526.2,526.6 1527,521.9 1527.7,529.7 1528.5,524.4 1529.3,533.5 1530,526.7 1530.8,535.3 1531.5,526.8 1532.3,534.4 1533,526.4 1533.8,534.7 1534.5,527.1 1535.3,532.9 1536,524.6 1536.8,532.3 1537.5,525.3 1538.3,532.4 1539,525.6 1539.8,532.3 1540.5,523.8 1541.3,531.9 1542,523.5 1542.8,530.5 1543.5,519.4 1544.3,528.3 1545,522.9 1545.8,530 1546.5,521.4 1547.3,528.5 1548,520.7 1548.8,528.5 1549.5,518.5 1550.3,524.7 1551,516.7 1551.8,526.9 1552.5,522.2 1553.3,528.3 1554,519.6 1554.8,530.2 1555.5,523.3 1556.3,532.4 1557,524 1557.8,532.5 1558.5,524.4 1559.3,532 1560,523.4 1560.8,530.9 1561.5,521.5 1562.3,528.6 1563,524.1 1563.8,530.8 1564.6,524.4 1565.3,535.1 1566.1,527.4 1566.8,536.2 1567.6,521 1568.3,532.9 1569.1,518.6 1569.8,529 1570.6,519.7 1571.3,527.2 1572.1,521.5 1572.8,528.3 1573.6,523 1574.3,530.2 1575.1,522.9 1575.8,529.9 1576.6,523.5 1577.3,532.9 1578.1,527.6 1578.8,534.3 1579.6,526.3 1580.3,533.4 1581.1,526.2 1581.8,535.4 1582.6,524.1 1583.3,532.3 1584.1,524.8 1584.8,531.6 1585.6,524.8 1586.3,530.9 1587.1,526.7 1587.8,535 1588.6,525.5 1589.3,533.5 1590.1,523.8 1590.8,533.3 1591.6,522.5 1592.3,532.9 1593.1,526.6 1593.8,532.9 1594.6,527.5 1595.3,533.5 1596.1,527 1596.8,534.1 1597.6,527.1 1598.3,534.1 1599.1,529.1 1599.8,536.3 1600.6,527 1601.4,532.8 1602.1,525.2 1602.9,533.4 1603.6,527.4 1604.4,533.4 1605.1,527.1 1605.9,534.8 1606.6,524.7 1607.4,531.9 1608.1,521.9 1608.9,532.7 1609.6,518.9 1610.4,527.8 1611.1,518.7 1611.9,524.6 1612.6,519.5 1613.4,526.3 1614.1,518.3 1614.9,527 1615.6,520 1616.4,526.8 1617.1,517 1617.9,528.3 1618.6,520.8 1619.4,528.8 1620.1,522.9 1620.9,529.5 1621.6,524.4 1622.4,531.1 1623.1,522.1 1623.9,530.8 1624.6,521 1625.4,530.2 1626.1,520.9 1626.9,529.2 1627.6,523.8 1628.4,532.1 1629.1,524 1629.9,531.4 1630.6,525.1 1631.4,532.2 1632.1,524.5 1632.9,534.1 1633.6,525.3 1634.4,532.9 1635.1,523.7 1635.9,532.6 1636.7,523.1 1637.4,532.6 1638.2,519.5 1638.9,528.6 1639.7,518.4 1640.4,530.5 1641.2,523.1 1641.9,530.1 1642.7,521.2 1643.4,531.5 1644.2,522.3 1644.9,529 1645.7,521.5 1646.4,528.8 1647.2,521.8 1647.9,528.9 1648.7,521 1649.4,527.9 1650.2,517.8 1650.9,525.7 1651.7,518.2 1652.4,525.7 1653.2,517.7 1653.9,525.6 1654.7,516.5 1655.4,528.5 1656.2,519.1 1656.9,526.3 1657.7,518.3 1658.4,524.5 1659.2,517 1659.9,525.6 1660.7,516.9 1661.4,526.1 1662.2,519.1 1662.9,526.2 1663.7,517.4 1664.4,523 1665.2,514.5 1665.9,523.9 1666.7,515.1 1667.4,525.2 1668.2,518.4 1668.9,527.2 1669.7,518.3 1670.4,526.4 1671.2,519.6 1671.2,528.1" fill="none" stroke="#f00" stroke-width="1.7" stroke-linejoin="round"/>
<polyline points="1384.3,431.7 1385.1,444.2 1385.9,429.9 1386.7,443.2 1387.5,430.3 1388.3,451 1389.1,427.6 1389.9,446.9 1390.7,428.4 1391.5,448.6 1392.3,426 1393.1,444.1 1393.9,430.4 1394.7,451.9 1395.5,424.1 1396.3,447.3 1397.1,424.2 1397.9,445.8 1398.7,421.7 1399.5,440.2 1400.3,428.5 1401.1,451.7 1401.9,428.3 1402.7,439.9 1403.5,426.8 1404.3,441.3 1405.1,415.2 1405.9,436.3 1406.7,418.4 1407.5,440.3 1408.3,419.2 1409.1,434 1409.9,416.2 1410.7,433.7 1411.5,421.8 1412.3,434 1413.2,418.2 1414,432.6 1414.8,415.9 1415.6,442.8 1416.4,424 1417.2,435.6 1418,425.3 1418.8,435.8 1419.6,423.8 1420.4,436.2 1421.2,421.8 1422,437.8 1422.8,420.5 1423.6,435 1424.4,425.9 1425.2,438.4 1426,416.9 1426.8,440.1 1427.6,428.9 1428.4,439 1429.2,418.7 1430,442 1430.8,418.5 1431.6,443 1432.4,418.7 1433.2,449.9 1434,427.6 1434.8,444 1435.6,425.5 1436.4,443.8 1437.2,431.5 1438,447.5 1438.8,427.6 1439.6,449.5 1440.4,432.5 1441.2,449.1 1442,434.6 1442.8,445.1 1443.6,436.5 1444.4,447.3 1445.2,424 1446,451.6 1446.8,434.2 1447.6,450.7 1448.4,433.8 1449.2,455.8 1450,433.8 1450.8,448.3 1451.6,435.5 1452.4,457.3 1453.2,434.5 1454,446.8 1454.8,432.1 1455.6,449.9 1456.4,436 1457.2,454.2 1458,431.3 1458.8,446.4 1459.6,436.1 1460.4,447.4 1461.2,435.5 1462,451 1462.8,433.5 1463.6,452.4 1464.4,426.6 1465.2,451.2 1466,431.7 1466.8,451.8 1467.6,433.6 1468.4,445.7 1469.2,434.1 1470,450.7 1470.9,433.5 1471.7,447.4 1472.5,437.7 1473.3,461 1474.1,433.2 1474.9,454.6 1475.7,432.7 1476.5,449.9 1477.3,431.1 1478.1,451.5 1478.9,435.3 1479.7,446 1480.5,430.8 1481.3,445.7 1482.1,435.7 1482.9,453.4 1483.7,432.4 1484.5,452.6 1485.3,432.3 1486.1,449.6 1486.9,434.1 1487.7,452.5 1488.5,429.8 1489.3,448.1 1490.1,436.6 1490.9,453.6 1491.7,435.5 1492.5,449.1 1493.3,432.2 1494.1,453.9 1494.9,431.9 1495.7,446.2 1496.5,430.7 1497.3,449.8 1498.1,429.5 1498.9,445 1499.7,425.7 1500.5,448.3 1501.3,434.8 1502.1,452.5 1502.9,435.2 1503.7,450 1504.5,427.7 1505.3,450.4 1506.1,436.7 1506.9,447.3 1507.7,432.9 1508.5,451 1509.3,436.4 1510.1,447.2 1510.9,436 1511.7,448.9 1512.5,436.8 1513.3,451.2 1514.1,436.8 1514.9,457.7 1515.7,435.3 1516.5,450.8 1517.3,431.3 1518.1,453.2 1518.9,436.8 1519.7,452.6 1520.5,438.1 1521.3,450.6 1522.1,435.6 1522.9,456 1523.7,438.6 1524.5,451.7 1525.3,435.5 1526.1,452.5 1526.9,431.2 1527.7,450.5 1528.6,428.3 1529.4,447.8 1530.2,433.6 1531,448.5 1531.8,435.3 1532.6,451.4 1533.4,433.1 1534.2,455.8 1535,438.8 1535.8,452.1 1536.6,432 1537.4,449.2 1538.2,434.8 1539,455 1539.8,439.2 1540.6,459.7 1541.4,437.2 1542.2,451.7 1543,436.3 1543.8,449.8 1544.6,434.6 1545.4,448.2 1546.2,432.2 1547,453.3 1547.8,428.1 1548.6,451.2 1549.4,436.2 1550.2,447.6 1551,433.9 1551.8,450.7 1552.6,431.8 1553.4,449.8 1554.2,430.3 1555,450.2 1555.8,431.2 1556.6,445.8 1557.4,431.5 1558.2,453.1 1559,437.5 1559.8,451.3 1560.6,435.5 1561.4,450.9 1562.2,434 1563,453.7 1563.8,427.6 1564.6,449.7 1565.4,433.6 1566.2,450.8 1567,436.4 1567.8,453.4 1568.6,433.2 1569.4,458.8 1570.2,432.8 1571,449.8 1571.8,427.3 1572.6,451.9 1573.4,437.7 1574.2,456.3 1575,429.2 1575.8,450.3 1576.6,431.1 1577.4,447.9 1578.2,432.5 1579,451.5 1579.8,433.4 1580.6,450 1581.4,426.8 1582.2,450.2 1583,435.4 1583.8,454.1 1584.6,429 1585.4,451.4 1586.3,431.9 1587.1,450.2 1587.9,428.7 1588.7,447 1589.5,431.7 1590.3,448.4 1591.1,437.2 1591.9,449 1592.7,430.2 1593.5,447.5 1594.3,437 1595.1,451.9 1595.9,434.2 1596.7,452.8 1597.5,435.2 1598.3,448.7 1599.1,426.2 1599.9,448.5 1600.7,433.9 1601.5,450.2 1602.3,438.7 1603.1,453 1603.9,437.8 1604.7,447.9 1605.5,430.8 1606.3,447.1 1607.1,425.3 1607.9,446.8 1608.7,432 1609.5,447.4 1610.3,430.3 1611.1,455 1611.9,432.9 1612.7,452.7 1613.5,432.4 1614.3,454 1615.1,434.7 1615.9,447.9 1616.7,435.1 1617.5,449.2 1618.3,435.3 1619.1,448.3 1619.9,424.6 1620.7,448.9 1621.5,434.1 1622.3,446.1 1623.1,433.5 1623.9,448.7 1624.7,435.3 1625.5,448.4 1626.3,429.8 1627.1,446.6 1627.9,434 1628.7,447.9 1629.5,432.4 1630.3,445.6 1631.1,428.4 1631.9,446.5 1632.7,428.4 1633.5,449 1634.3,428.1 1635.1,446.3 1635.9,431.3 1636.7,446.8 1637.5,435.7 1638.3,448.6 1639.1,432.7 1639.9,450 1640.7,418 1641.5,445.8 1642.3,431.3 1643.1,453 1644,423.8 1644.8,453.8 1645.6,422.4 1646.4,452 1647.2,432 1648,448.9 1648.8,425.9 1649.6,448.5 1650.4,435.8 1651.2,450.4 1652,432.6 1652.8,447 1653.6,435.6 1654.4,457.9 1655.2,432.8 1656,453.6 1656.8,430.7 1657.6,446.1 1658.4,428.4 1659.2,443.8 1660,428.3 1660.8,446.3 1661.6,432.1 1662.4,444.1 1663.2,423.1 1664,444.9 1664.8,425.8 1665.6,444.8 1666.4,433.4 1667.2,447.6 1668,423.8 1668.8,448.2 1669.6,433 1670.4,448.3 1671.2,426 1671.2,453.5" fill="none" stroke="#d6d6d6" stroke-width="1.35" stroke-linejoin="round" opacity=".65"/>
<polyline points="1384.3,429.7 1385.1,443.4 1385.9,432.1 1386.7,442.7 1387.5,432.3 1388.3,443.4 1389.1,428.3 1389.9,441.7 1390.7,431.3 1391.5,442.8 1392.3,429.7 1393.1,442.8 1393.9,428.8 1394.7,446.4 1395.5,430.2 1396.3,441.6 1397.1,426.1 1397.9,441.4 1398.7,426.2 1399.5,441.4 1400.3,427.9 1401.1,441.2 1401.9,427.3 1402.7,439.8 1403.5,427.6 1404.3,439.3 1405.1,425.1 1405.9,437.4 1406.7,420.8 1407.5,436.1 1408.3,422.8 1409.1,433.4 1409.9,422.9 1410.7,435.4 1411.5,421.1 1412.3,433.5 1413.2,422.7 1414,435 1414.8,422.6 1415.6,434.5 1416.4,424 1417.2,435.4 1418,423.2 1418.8,436.2 1419.6,424.7 1420.4,439.2 1421.2,418.9 1422,438.5 1422.8,423.1 1423.6,436.2 1424.4,425.7 1425.2,437.9 1426,425.5 1426.8,437 1427.6,427.9 1428.4,441.1 1429.2,426.3 1430,439 1430.8,425.5 1431.6,440.7 1432.4,429.4 1433.2,444 1434,426 1434.8,444 1435.6,430.9 1436.4,443.3 1437.2,431.9 1438,446.9 1438.8,433.7 1439.6,446.7 1440.4,434.5 1441.2,448.2 1442,430.5 1442.8,446 1443.6,433.9 1444.4,448.4 1445.2,432.6 1446,448.4 1446.8,433.8 1447.6,448 1448.4,434.4 1449.2,446 1450,434.2 1450.8,447 1451.6,431.6 1452.4,446.9 1453.2,433.6 1454,448.6 1454.8,436 1455.6,449.1 1456.4,434.3 1457.2,447.9 1458,435.6 1458.8,446.5 1459.6,434.4 1460.4,452.7 1461.2,435.1 1462,447.4 1462.8,433.2 1463.6,448.2 1464.4,433.6 1465.2,448.1 1466,432.5 1466.8,449.8 1467.6,434.2 1468.4,444.5 1469.2,433.2 1470,447.1 1470.9,436.2 1471.7,449.4 1472.5,437.7 1473.3,449 1474.1,435.6 1474.9,449.7 1475.7,435.7 1476.5,449 1477.3,432.9 1478.1,446 1478.9,432.5 1479.7,447 1480.5,434.7 1481.3,449.1 1482.1,437 1482.9,447.2 1483.7,436.1 1484.5,447.7 1485.3,434.2 1486.1,446.4 1486.9,433.9 1487.7,446.4 1488.5,435.2 1489.3,449.1 1490.1,433.4 1490.9,447.7 1491.7,434.9 1492.5,447.6 1493.3,433.9 1494.1,449 1494.9,429.6 1495.7,445.8 1496.5,435.4 1497.3,446.3 1498.1,432.3 1498.9,447.1 1499.7,435.1 1500.5,447.9 1501.3,432.8 1502.1,449.3 1502.9,436.9 1503.7,447.6 1504.5,436.1 1505.3,447 1506.1,431 1506.9,447.1 1507.7,436.7 1508.5,446.6 1509.3,431.1 1510.1,448.8 1510.9,436.9 1511.7,448 1512.5,436.9 1513.3,449.9 1514.1,435.9 1514.9,450 1515.7,436.6 1516.5,447.3 1517.3,436.4 1518.1,449.2 1518.9,437.6 1519.7,449.4 1520.5,438.3 1521.3,453.6 1522.1,434.9 1522.9,450.1 1523.7,439.4 1524.5,449.5 1525.3,435.9 1526.1,449.8 1526.9,434.5 1527.7,447.1 1528.6,432.6 1529.4,447.7 1530.2,434.1 1531,447.8 1531.8,436.5 1532.6,453.5 1533.4,434 1534.2,448.9 1535,438.8 1535.8,450.4 1536.6,438.7 1537.4,450.5 1538.2,438.6 1539,450.2 1539.8,435.8 1540.6,451.3 1541.4,439.5 1542.2,451.4 1543,434 1543.8,449 1544.6,434.4 1545.4,448.2 1546.2,435 1547,452.2 1547.8,434.2 1548.6,446.9 1549.4,436.1 1550.2,447.2 1551,435.8 1551.8,448.1 1552.6,434.1 1553.4,447.4 1554.2,432.2 1555,446.8 1555.8,433.2 1556.6,448.3 1557.4,434 1558.2,446.5 1559,437.1 1559.8,448.3 1560.6,434.8 1561.4,453.4 1562.2,434.7 1563,451.8 1563.8,438.2 1564.6,449.1 1565.4,437.3 1566.2,451 1567,433 1567.8,450.7 1568.6,435.2 1569.4,449.6 1570.2,436.8 1571,450.7 1571.8,435.8 1572.6,448.8 1573.4,435.6 1574.2,448.3 1575,438.3 1575.8,451.4 1576.6,436.3 1577.4,448.6 1578.2,436.2 1579,448.5 1579.8,436 1580.6,448.9 1581.4,433.5 1582.2,447.1 1583,435.2 1583.8,446.8 1584.6,433.5 1585.4,447 1586.3,431.7 1587.1,446.8 1587.9,435.6 1588.7,446.8 1589.5,436.7 1590.3,449.2 1591.1,434.6 1591.9,448.8 1592.7,435 1593.5,448 1594.3,436.4 1595.1,446.8 1595.9,434.5 1596.7,445.8 1597.5,435.5 1598.3,446.1 1599.1,436.4 1599.9,448.6 1600.7,433.6 1601.5,448.1 1602.3,434.2 1603.1,450.3 1603.9,437.2 1604.7,449.4 1605.5,433.6 1606.3,448 1607.1,432.5 1607.9,446.4 1608.7,436 1609.5,449.4 1610.3,435.4 1611.1,448.4 1611.9,434.6 1612.7,446.8 1613.5,434.4 1614.3,447.2 1615.1,431.8 1615.9,449.4 1616.7,435 1617.5,451.9 1618.3,434.5 1619.1,446.1 1619.9,433.9 1620.7,448.5 1621.5,435 1622.3,449.8 1623.1,433.5 1623.9,450.5 1624.7,433 1625.5,450.1 1626.3,436.1 1627.1,448.8 1627.9,434.1 1628.7,447.2 1629.5,434.7 1630.3,446.7 1631.1,433.4 1631.9,444.6 1632.7,430.9 1633.5,449.5 1634.3,432.2 1635.1,445.6 1635.9,431.5 1636.7,447.5 1637.5,436.4 1638.3,448.2 1639.1,434.6 1639.9,446.8 1640.7,434.4 1641.5,449.5 1642.3,432 1643.1,444.4 1644,432.6 1644.8,445.4 1645.6,430.3 1646.4,443 1647.2,432.2 1648,444.4 1648.8,432.4 1649.6,445.2 1650.4,435.5 1651.2,447.5 1652,434 1652.8,447.3 1653.6,434.6 1654.4,446.2 1655.2,431.1 1656,447.9 1656.8,432.2 1657.6,443.8 1658.4,430.3 1659.2,443 1660,432.1 1660.8,445.8 1661.6,430 1662.4,443.7 1663.2,433 1664,444.8 1664.8,429 1665.6,444.3 1666.4,431.1 1667.2,445.8 1668,431.7 1668.8,447.6 1669.6,430.5 1670.4,443.3 1671.2,428.7 1671.2,442.9" fill="none" stroke="#d6d6d6" stroke-width="1.8" stroke-linejoin="round"/>
<polyline points="1384.3,397 1385.1,413.3 1385.9,399.5 1386.7,413.5 1387.5,401.4 1388.3,412.8 1389.1,389.8 1389.9,419.4 1390.7,402.2 1391.5,427.1 1392.3,401.3 1393.1,425.4 1393.9,396 1394.7,414.4 1395.5,401 1396.3,421.8 1397.1,402.1 1397.9,418.9 1398.7,399.1 1399.5,413.7 1400.3,388.9 1401.1,412 1401.9,388 1402.7,413.7 1403.5,394 1404.3,409.3 1405.1,388.2 1405.9,405.7 1406.7,390.7 1407.5,405.1 1408.3,387.5 1409.1,402.6 1409.9,383.5 1410.7,398 1411.5,380.6 1412.3,406.4 1413.2,379.7 1414,397.2 1414.8,384.7 1415.6,411.5 1416.4,378.7 1417.2,419.9 1418,392 1418.8,405.3 1419.6,387.5 1420.4,413 1421.2,392.2 1422,415.1 1422.8,386.4 1423.6,412.4 1424.4,392.1 1425.2,406.6 1426,385.3 1426.8,411.9 1427.6,390.6 1428.4,410.7 1429.2,384.7 1430,408.2 1430.8,393 1431.6,416.2 1432.4,392.3 1433.2,413.2 1434,388.1 1434.8,406.7 1435.6,394.2 1436.4,408.4 1437.2,396.8 1438,407.7 1438.8,395.9 1439.6,410.3 1440.4,393.3 1441.2,408 1442,394.7 1442.8,408.3 1443.6,390 1444.4,410.4 1445.2,399.5 1446,418.2 1446.8,396.4 1447.6,414.5 1448.4,401.7 1449.2,422.9 1450,399.3 1450.8,416.6 1451.6,399.5 1452.4,417 1453.2,403.3 1454,419.9 1454.8,394.4 1455.6,420.4 1456.4,407.6 1457.2,425 1458,406.5 1458.8,432.1 1459.6,405 1460.4,416.3 1461.2,399.8 1462,421.9 1462.8,402.5 1463.6,427.7 1464.4,403.7 1465.2,421.7 1466,399.8 1466.8,416.1 1467.6,400.1 1468.4,418.6 1469.2,402.6 1470,429.1 1470.9,401.6 1471.7,419.4 1472.5,397.4 1473.3,418.8 1474.1,405.2 1474.9,416.5 1475.7,391.5 1476.5,418.8 1477.3,403 1478.1,415.8 1478.9,399.2 1479.7,414.1 1480.5,394.2 1481.3,412 1482.1,401.8 1482.9,419.1 1483.7,401.8 1484.5,413.6 1485.3,396.1 1486.1,416.1 1486.9,399.2 1487.7,415.7 1488.5,392.3 1489.3,412.7 1490.1,400.5 1490.9,414.5 1491.7,398.3 1492.5,420.8 1493.3,400 1494.1,417 1494.9,401.8 1495.7,426.2 1496.5,397.9 1497.3,416 1498.1,400.9 1498.9,418.8 1499.7,396.4 1500.5,413.1 1501.3,395.8 1502.1,423 1502.9,395.9 1503.7,420.2 1504.5,397.1 1505.3,415.8 1506.1,395.3 1506.9,411 1507.7,393.8 1508.5,417.3 1509.3,398.6 1510.1,411.5 1510.9,387.7 1511.7,420.4 1512.5,385.5 1513.3,410.8 1514.1,391.9 1514.9,416.4 1515.7,396.8 1516.5,414.3 1517.3,392.5 1518.1,408.4 1518.9,397.8 1519.7,414.6 1520.5,395.6 1521.3,410.9 1522.1,401.1 1522.9,419.1 1523.7,398.5 1524.5,420.2 1525.3,393.7 1526.1,413.1 1526.9,392.6 1527.7,417 1528.6,398.2 1529.4,414.8 1530.2,398.7 1531,413 1531.8,398.7 1532.6,415 1533.4,400.5 1534.2,419.4 1535,402 1535.8,422 1536.6,399.9 1537.4,419.2 1538.2,403.5 1539,417.3 1539.8,403.7 1540.6,418.3 1541.4,404.8 1542.2,427.3 1543,398 1543.8,421.2 1544.6,402.3 1545.4,422.9 1546.2,403.1 1547,417.1 1547.8,403.8 1548.6,419.4 1549.4,396.9 1550.2,418.9 1551,398.3 1551.8,419.5 1552.6,398.9 1553.4,419.6 1554.2,392.3 1555,418.9 1555.8,395.6 1556.6,416.9 1557.4,395.8 1558.2,411.8 1559,400.3 1559.8,413.3 1560.6,393.7 1561.4,412.3 1562.2,401.4 1563,419.8 1563.8,401.3 1564.6,417.4 1565.4,401.4 1566.2,414.9 1567,400.6 1567.8,415.3 1568.6,399.9 1569.4,414 1570.2,395 1571,420.4 1571.8,399.5 1572.6,416.1 1573.4,398.6 1574.2,420.6 1575,401.1 1575.8,417.4 1576.6,398.5 1577.4,420.8 1578.2,396.9 1579,416.6 1579.8,388.4 1580.6,417.3 1581.4,401.9 1582.2,419.2 1583,400.9 1583.8,418.5 1584.6,400 1585.4,421.5 1586.3,405.9 1587.1,421 1587.9,395.2 1588.7,428.7 1589.5,404.5 1590.3,417 1591.1,400.6 1591.9,419.4 1592.7,398.5 1593.5,411.6 1594.3,399.4 1595.1,417.2 1595.9,399.5 1596.7,413.3 1597.5,402 1598.3,420 1599.1,396.1 1599.9,413.1 1600.7,404 1601.5,416.8 1602.3,402.9 1603.1,418.2 1603.9,400.6 1604.7,416.4 1605.5,398.9 1606.3,412 1607.1,398 1607.9,410.8 1608.7,396.5 1609.5,414.6 1610.3,392.8 1611.1,413.6 1611.9,396.7 1612.7,409.5 1613.5,394.5 1614.3,417.9 1615.1,394.7 1615.9,408.5 1616.7,389 1617.5,412.9 1618.3,393.1 1619.1,419.8 1619.9,395.6 1620.7,419.3 1621.5,392.3 1622.3,409 1623.1,385.3 1623.9,405.4 1624.7,394.5 1625.5,414.6 1626.3,393.8 1627.1,411.8 1627.9,397.9 1628.7,410.6 1629.5,394.5 1630.3,419.8 1631.1,395.5 1631.9,413.8 1632.7,396.3 1633.5,407.6 1634.3,391.2 1635.1,407.1 1635.9,392.5 1636.7,407.6 1637.5,392 1638.3,407.6 1639.1,389.9 1639.9,413.1 1640.7,391.8 1641.5,413.8 1642.3,392.6 1643.1,411.7 1644,394.6 1644.8,412.8 1645.6,390.2 1646.4,412 1647.2,382.2 1648,411.1 1648.8,391.6 1649.6,412.8 1650.4,394 1651.2,417.6 1652,388.1 1652.8,412.3 1653.6,388.1 1654.4,410.3 1655.2,396.1 1656,412 1656.8,390.4 1657.6,407.1 1658.4,391 1659.2,408.7 1660,394.1 1660.8,412.4 1661.6,394.8 1662.4,410.8 1663.2,391.3 1664,408.1 1664.8,395.8 1665.6,415.7 1666.4,398.1 1667.2,409.8 1668,397.6 1668.8,409.4 1669.6,396.9 1670.4,409.2 1671.2,395.6 1671.2,411.4" fill="none" stroke="#000" stroke-width="1.35" stroke-linejoin="round" opacity=".65"/>
<polyline points="1384.3,399.2 1385.1,412.9 1385.9,398.9 1386.7,412 1387.5,395.7 1388.3,412.2 1389.1,399.3 1389.9,414.8 1390.7,404.3 1391.5,417.9 1392.3,403.9 1393.1,417.4 1393.9,398.4 1394.7,419.6 1395.5,399.6 1396.3,414.2 1397.1,400.9 1397.9,419.4 1398.7,395.1 1399.5,413.4 1400.3,391.4 1401.1,410.4 1401.9,395.7 1402.7,411.4 1403.5,393.2 1404.3,407.7 1405.1,389.3 1405.9,403.8 1406.7,390.3 1407.5,404 1408.3,389.7 1409.1,401.2 1409.9,385.2 1410.7,397.7 1411.5,384.3 1412.3,397 1413.2,384.1 1414,400 1414.8,384.9 1415.6,402.9 1416.4,386.8 1417.2,403.3 1418,386.2 1418.8,404.5 1419.6,390.9 1420.4,405.2 1421.2,394.6 1422,406.4 1422.8,396.5 1423.6,410.6 1424.4,388.4 1425.2,406.9 1426,390.2 1426.8,407.7 1427.6,390.9 1428.4,404.7 1429.2,394.5 1430,407.3 1430.8,397.1 1431.6,409.4 1432.4,393.1 1433.2,407.8 1434,394.3 1434.8,406.5 1435.6,396.1 1436.4,407.2 1437.2,396.2 1438,412.3 1438.8,397 1439.6,409.4 1440.4,396.2 1441.2,408.7 1442,394.4 1442.8,408.8 1443.6,398.8 1444.4,411.3 1445.2,397.5 1446,414.4 1446.8,401.8 1447.6,414.7 1448.4,401.3 1449.2,414.4 1450,402.8 1450.8,416.2 1451.6,403.5 1452.4,414.7 1453.2,403.8 1454,416.8 1454.8,404.1 1455.6,418.9 1456.4,407.1 1457.2,420.3 1458,407.5 1458.8,420.8 1459.6,404.4 1460.4,419.8 1461.2,404.7 1462,416.3 1462.8,403.8 1463.6,416.4 1464.4,404.9 1465.2,416.7 1466,403.3 1466.8,417.1 1467.6,404.9 1468.4,417.4 1469.2,403.4 1470,417.4 1470.9,405.1 1471.7,417.3 1472.5,403.3 1473.3,420.6 1474.1,403.8 1474.9,418.2 1475.7,403.1 1476.5,415.8 1477.3,400.7 1478.1,415.6 1478.9,401.1 1479.7,413.6 1480.5,398.9 1481.3,412.8 1482.1,402 1482.9,416 1483.7,402.5 1484.5,414.4 1485.3,402.6 1486.1,414.6 1486.9,402.9 1487.7,414.8 1488.5,401 1489.3,412.7 1490.1,397.7 1490.9,416.8 1491.7,401.4 1492.5,415.6 1493.3,403.1 1494.1,420.4 1494.9,399.9 1495.7,415.6 1496.5,399.7 1497.3,413.6 1498.1,400.8 1498.9,413.6 1499.7,399.6 1500.5,415.5 1501.3,400.6 1502.1,412 1502.9,401.1 1503.7,413.9 1504.5,397.9 1505.3,412.7 1506.1,397.8 1506.9,411.2 1507.7,397.4 1508.5,409.9 1509.3,396.5 1510.1,410.7 1510.9,398.3 1511.7,412.1 1512.5,396.9 1513.3,411.1 1514.1,397.3 1514.9,410.6 1515.7,395.8 1516.5,408.9 1517.3,397.4 1518.1,410.3 1518.9,398.2 1519.7,410 1520.5,395.5 1521.3,410.3 1522.1,400.8 1522.9,414.2 1523.7,401.5 1524.5,414 1525.3,400.2 1526.1,414.5 1526.9,398.8 1527.7,412.9 1528.6,397.8 1529.4,411.2 1530.2,393.7 1531,411.8 1531.8,400.2 1532.6,416.2 1533.4,402.5 1534.2,413.6 1535,402.1 1535.8,414.7 1536.6,402 1537.4,413.4 1538.2,405.2 1539,417.6 1539.8,406.6 1540.6,417.4 1541.4,406.8 1542.2,425.9 1543,407 1543.8,423.1 1544.6,407.1 1545.4,418.4 1546.2,403.8 1547,416.3 1547.8,405.2 1548.6,417.8 1549.4,403.9 1550.2,415.1 1551,403.5 1551.8,416.1 1552.6,402.7 1553.4,415.6 1554.2,400.6 1555,414.6 1555.8,398.2 1556.6,413.2 1557.4,397.6 1558.2,418.3 1559,396 1559.8,412.4 1560.6,393.7 1561.4,410.6 1562.2,399.3 1563,414.2 1563.8,400.2 1564.6,415.7 1565.4,398.2 1566.2,413.5 1567,398.4 1567.8,411.7 1568.6,400.1 1569.4,413 1570.2,402.9 1571,414.2 1571.8,402.6 1572.6,415.1 1573.4,403.9 1574.2,415.8 1575,399.2 1575.8,417.9 1576.6,401.6 1577.4,416.1 1578.2,399.4 1579,417.2 1579.8,404.5 1580.6,417.3 1581.4,403.9 1582.2,416.9 1583,400 1583.8,413.5 1584.6,399.1 1585.4,421 1586.3,402.2 1587.1,417.6 1587.9,408.3 1588.7,420.9 1589.5,403.3 1590.3,419.2 1591.1,402.7 1591.9,414.3 1592.7,399.2 1593.5,413.3 1594.3,401.4 1595.1,414.8 1595.9,401.7 1596.7,416.7 1597.5,399.4 1598.3,416.7 1599.1,401.5 1599.9,413.6 1600.7,402.7 1601.5,414.8 1602.3,403.1 1603.1,414.5 1603.9,401.9 1604.7,414.1 1605.5,399.7 1606.3,413.3 1607.1,395.5 1607.9,410.6 1608.7,395.9 1609.5,411.6 1610.3,395.6 1611.1,412.5 1611.9,397.8 1612.7,410.1 1613.5,394.2 1614.3,413.2 1615.1,397 1615.9,408.3 1616.7,399.1 1617.5,412.2 1618.3,399.1 1619.1,412.2 1619.9,396.5 1620.7,410.3 1621.5,389.7 1622.3,407 1623.1,392.5 1623.9,405.4 1624.7,391.5 1625.5,407.4 1626.3,394 1627.1,407.7 1627.9,395.5 1628.7,413.4 1629.5,394.9 1630.3,408.8 1631.1,396 1631.9,408.7 1632.7,394.7 1633.5,407.5 1634.3,392.2 1635.1,409 1635.9,391.2 1636.7,407.4 1637.5,389.4 1638.3,405.3 1639.1,390.8 1639.9,405.6 1640.7,394.9 1641.5,406.6 1642.3,394.6 1643.1,410.5 1644,396.8 1644.8,417.3 1645.6,396.3 1646.4,409.1 1647.2,391.9 1648,407.3 1648.8,396.1 1649.6,408.7 1650.4,397.3 1651.2,410.2 1652,397.3 1652.8,411.9 1653.6,398.1 1654.4,410.4 1655.2,392.9 1656,409.8 1656.8,396.1 1657.6,411.9 1658.4,392.7 1659.2,407.6 1660,395.1 1660.8,406.5 1661.6,393.6 1662.4,407.6 1663.2,396.3 1664,409.4 1664.8,395.4 1665.6,409.8 1666.4,398.4 1667.2,413.7 1668,392.2 1668.8,410.2 1669.6,396.4 1670.4,409.3 1671.2,397.3 1671.2,409.6" fill="none" stroke="#000" stroke-width="1.8" stroke-linejoin="round"/>
<path d="M1412.7 604.9v-5M1412.7 270.2v5M1441.4 604.9v-9.5M1441.4 270.2v9.5M1470 604.9v-5M1470 270.2v5M1498.7 604.9v-9.5M1498.7 270.2v9.5M1527.4 604.9v-5M1527.4 270.2v5M1556.1 604.9v-9.5M1556.1 270.2v9.5M1584.8 604.9v-5M1584.8 270.2v5M1613.4 604.9v-9.5M1613.4 270.2v9.5M1642.1 604.9v-5M1642.1 270.2v5M1384 563.1h5M1670.8 563.1h-5M1384 521.2h9.5M1670.8 521.2h-9.5M1384 479.4h5M1670.8 479.4h-5M1384 437.5h9.5M1670.8 437.5h-9.5M1384 395.7h5M1670.8 395.7h-5M1384 353.9h9.5M1670.8 353.9h-9.5M1384 312h5M1670.8 312h-5" stroke="#5a5a5a" stroke-width="1.2" fill="none"/>
</g>
<g id="legendE" filter="url(#b)">
<rect x="1684.6" y="293.3" width="80.2" height="136.7" fill="#fff" stroke="#858585" stroke-width="2.2"/>
<path d="M1690.5 304.6h9.6" stroke="#333" stroke-width="1.8"/>
<path d="M1690.5 318.4h9.6" stroke="#f55" stroke-width="1.8"/>
<path d="M1690.5 332.6h9.6" stroke="#5f5" stroke-width="1.8"/>
<path d="M1690.5 347.5h9.6" stroke="#55f" stroke-width="1.8"/>
<path d="M1690.5 363.7h9.6" stroke="#ff3" stroke-width="1.8"/>
<path d="M1690.5 378.1h9.6" stroke="#d0b0b0" stroke-width="1.8"/>
<path d="M1690.5 392.2h9.6" stroke="#e4e4e4" stroke-width="1.8"/>
<path d="M1690.5 406.4h9.6" stroke="#b4e" stroke-width="1.8"/>
<path d="M1690.5 420.3h9.6" stroke="#3ff" stroke-width="1.8"/>
</g>
<g id="labels">
<text x="711.5" y="43.9" font-family='"Liberation Serif",serif' font-size="15.2" text-anchor="middle" fill="#111" textLength="105" lengthAdjust="spacingAndGlyphs" transform="rotate(0.03 711.5 43.9)" filter="url(#bt)" stroke="#111" stroke-width=".2">RMS fluctuation</text>
<text x="524.7" y="353.8" font-family='"Liberation Serif",serif' font-size="9.5" text-anchor="middle" fill="#333" transform="rotate(0.03 524.7 353.8)" filter="url(#bt)" stroke="#333" stroke-width=".2">0</text>
<text x="587" y="353.8" font-family='"Liberation Serif",serif' font-size="9.5" text-anchor="middle" fill="#333" transform="rotate(0.03 587 353.8)" filter="url(#bt)" stroke="#333" stroke-width=".2">50</text>
<text x="649.2" y="353.8" font-family='"Liberation Serif",serif' font-size="9.5" text-anchor="middle" fill="#333" transform="rotate(0.03 649.2 353.8)" filter="url(#bt)" stroke="#333" stroke-width=".2">100</text>
<text x="711.5" y="353.8" font-family='"Liberation Serif",serif' font-size="9.5" text-anchor="middle" fill="#333" transform="rotate(0.03 711.5 353.8)" filter="url(#bt)" stroke="#333" stroke-width=".2">150</text>
<text x="773.7" y="353.8" font-family='"Liberation Serif",serif' font-size="9.5" text-anchor="middle" fill="#333" transform="rotate(0.03 773.7 353.8)" filter="url(#bt)" stroke="#333" stroke-width=".2">200</text>
<text x="836" y="353.8" font-family='"Liberation Serif",serif' font-size="9.5" text-anchor="middle" fill="#333" transform="rotate(0.03 836 353.8)" filter="url(#bt)" stroke="#333" stroke-width=".2">250</text>
<text x="898.2" y="353.8" font-family='"Liberation Serif",serif' font-size="9.5" text-anchor="middle" fill="#333" transform="rotate(0.03 898.2 353.8)" filter="url(#bt)" stroke="#333" stroke-width=".2">300</text>
<text x="520.7" y="345.7" font-family='"Liberation Serif",serif' font-size="9.5" text-anchor="end" fill="#333" transform="rotate(0.03 520.7 345.7)" filter="url(#bt)" stroke="#333" stroke-width=".2">0</text>
<text x="520.7" y="277.2" font-family='"Liberation Serif",serif' font-size="9.5" text-anchor="end" fill="#333" transform="rotate(0.03 520.7 277.2)" filter="url(#bt)" stroke="#333" stroke-width=".2">0.5</text>
<text x="520.7" y="208.8" font-family='"Liberation Serif",serif' font-size="9.5" text-anchor="end" fill="#333" transform="rotate(0.03 520.7 208.8)" filter="url(#bt)" stroke="#333" stroke-width=".2">1</text>
<text x="520.7" y="140.3" font-family='"Liberation Serif",serif' font-size="9.5" text-anchor="end" fill="#333" transform="rotate(0.03 520.7 140.3)" filter="url(#bt)" stroke="#333" stroke-width=".2">1.5</text>
<text x="520.7" y="71.9" font-family='"Liberation Serif",serif' font-size="9.5" text-anchor="end" fill="#333" transform="rotate(0.03 520.7 71.9)" filter="url(#bt)" stroke="#333" stroke-width=".2">2</text>
<text x="711.5" y="365.5" font-family='"Liberation Serif",serif' font-size="9.5" text-anchor="middle" fill="#333" transform="rotate(0.03 711.5 365.5)" filter="url(#bt)" stroke="#333" stroke-width=".2">Residue</text>
<text x="506" y="205" font-family='"Liberation Serif",serif' font-size="8.5" text-anchor="middle" fill="#333" transform="rotate(-90 506 205)" filter="url(#bt)" stroke="#333" stroke-width=".2">(nm)</text>
<text x="924.2" y="140.2" font-family='"Liberation Sans",sans-serif' font-size="8.6" text-anchor="start" fill="#f03048" font-weight="bold" transform="rotate(0.03 924.2 140.2)" filter="url(#bt)" stroke="#f03048" stroke-width=".3">BAX</text>
<text x="924.2" y="157.6" font-family='"Liberation Sans",sans-serif' font-size="8.6" text-anchor="start" fill="#111" font-weight="bold" transform="rotate(0.03 924.2 157.6)" filter="url(#bt)" stroke="#111" stroke-width=".3">BCL2</text>
<text x="716.6" y="418.1" font-family='"Liberation Serif",serif' font-size="17.3" text-anchor="middle" fill="#111" textLength="194" lengthAdjust="spacingAndGlyphs" transform="rotate(0.03 716.6 418.1)" filter="url(#bt)" stroke="#111" stroke-width=".4">Solvent Accessible Surface</text>
<text x="589.7" y="752" font-family='"Liberation Serif",serif' font-size="11.2" text-anchor="middle" fill="#000" textLength="5.4" lengthAdjust="spacingAndGlyphs" transform="rotate(0.03 589.7 752)" filter="url(#bt)" stroke="#000" stroke-width=".25">0</text>
<text x="640.4" y="752" font-family='"Liberation Serif",serif' font-size="11.2" text-anchor="middle" fill="#000" textLength="27" lengthAdjust="spacingAndGlyphs" transform="rotate(0.03 640.4 752)" filter="url(#bt)" stroke="#000" stroke-width=".25">10000</text>
<text x="691.1" y="752" font-family='"Liberation Serif",serif' font-size="11.2" text-anchor="middle" fill="#000" textLength="27" lengthAdjust="spacingAndGlyphs" transform="rotate(0.03 691.1 752)" filter="url(#bt)" stroke="#000" stroke-width=".25">20000</text>
<text x="741.7" y="752" font-family='"Liberation Serif",serif' font-size="11.2" text-anchor="middle" fill="#000" textLength="27" lengthAdjust="spacingAndGlyphs" transform="rotate(0.03 741.7 752)" filter="url(#bt)" stroke="#000" stroke-width=".25">30000</text>
<text x="792.4" y="752" font-family='"Liberation Serif",serif' font-size="11.2" text-anchor="middle" fill="#000" textLength="27" lengthAdjust="spacingAndGlyphs" transform="rotate(0.03 792.4 752)" filter="url(#bt)" stroke="#000" stroke-width=".25">40000</text>
<text x="843.1" y="752" font-family='"Liberation Serif",serif' font-size="11.2" text-anchor="middle" fill="#000" textLength="27" lengthAdjust="spacingAndGlyphs" transform="rotate(0.03 843.1 752)" filter="url(#bt)" stroke="#000" stroke-width=".25">50000</text>
<text x="585.5" y="743.3" font-family='"Liberation Serif",serif' font-size="11.2" text-anchor="end" fill="#000" textLength="16.2" lengthAdjust="spacingAndGlyphs" transform="rotate(0.03 585.5 743.3)" filter="url(#bt)" stroke="#000" stroke-width=".25">110</text>
<text x="585.5" y="694.1" font-family='"Liberation Serif",serif' font-size="11.2" text-anchor="end" fill="#000" textLength="16.2" lengthAdjust="spacingAndGlyphs" transform="rotate(0.03 585.5 694.1)" filter="url(#bt)" stroke="#000" stroke-width=".25">115</text>
<text x="585.5" y="644.9" font-family='"Liberation Serif",serif' font-size="11.2" text-anchor="end" fill="#000" textLength="16.2" lengthAdjust="spacingAndGlyphs" transform="rotate(0.03 585.5 644.9)" filter="url(#bt)" stroke="#000" stroke-width=".25">120</text>
<text x="585.5" y="595.6" font-family='"Liberation Serif",serif' font-size="11.2" text-anchor="end" fill="#000" textLength="16.2" lengthAdjust="spacingAndGlyphs" transform="rotate(0.03 585.5 595.6)" filter="url(#bt)" stroke="#000" stroke-width=".25">125</text>
<text x="585.5" y="546.4" font-family='"Liberation Serif",serif' font-size="11.2" text-anchor="end" fill="#000" textLength="16.2" lengthAdjust="spacingAndGlyphs" transform="rotate(0.03 585.5 546.4)" filter="url(#bt)" stroke="#000" stroke-width=".25">130</text>
<text x="585.5" y="497.2" font-family='"Liberation Serif",serif' font-size="11.2" text-anchor="end" fill="#000" textLength="16.2" lengthAdjust="spacingAndGlyphs" transform="rotate(0.03 585.5 497.2)" filter="url(#bt)" stroke="#000" stroke-width=".25">135</text>
<text x="585.5" y="448" font-family='"Liberation Serif",serif' font-size="11.2" text-anchor="end" fill="#000" textLength="16.2" lengthAdjust="spacingAndGlyphs" transform="rotate(0.03 585.5 448)" filter="url(#bt)" stroke="#000" stroke-width=".25">140</text>
<text x="717" y="765" font-family='"Liberation Serif",serif' font-size="11.5" text-anchor="middle" fill="#000" textLength="46" lengthAdjust="spacingAndGlyphs" transform="rotate(0.03 717 765)" filter="url(#bt)" stroke="#000" stroke-width=".3">Time (ps)</text>
<text x="562" y="591" font-family='"Liberation Serif",serif' font-size="12" text-anchor="middle" fill="#000" stroke="#000" stroke-width=".3" transform="rotate(-90 562 591)" filter="url(#bt)">Area (nm<tspan font-size="7.5" dy="-4.5">2</tspan><tspan dy="4.5">)</tspan></text>
<text x="884.6" y="496.2" font-family='"Liberation Sans",sans-serif' font-size="10.1" text-anchor="start" fill="#f01020" font-weight="bold" transform="rotate(0.03 884.6 496.2)" filter="url(#bt)" stroke="#f01020" stroke-width=".3">BAX</text>
<text x="884.6" y="517" font-family='"Liberation Sans",sans-serif' font-size="10.1" text-anchor="start" fill="#000" font-weight="bold" transform="rotate(0.03 884.6 517)" filter="url(#bt)" stroke="#000" stroke-width=".3">BCL2</text>
<text x="1167.1" y="241.2" font-family='"Liberation Serif",serif' font-size="19.0" text-anchor="middle" fill="#000" textLength="161.5" lengthAdjust="spacingAndGlyphs" transform="rotate(0.03 1167.1 241.2)" filter="url(#bt)" stroke="#000" stroke-width=".5">Secondary Structure</text>
<text x="1167.1" y="261.2" font-family='"Liberation Serif",serif' font-size="13.2" text-anchor="middle" fill="#000" textLength="223.6" lengthAdjust="spacingAndGlyphs" transform="rotate(0.03 1167.1 261.2)" filter="url(#bt)" stroke="#000" stroke-width=".3" xml:space="preserve">Structure = A-Helix +&#160;&#160;+ B-Bridge + Turn</text>
<text x="1025.2" y="618.9" font-family='"Liberation Serif",serif' font-size="12.8" text-anchor="middle" fill="#000" transform="rotate(0.03 1025.2 618.9)" filter="url(#bt)" stroke="#000" stroke-width=".25">0</text>
<text x="1082.1" y="618.9" font-family='"Liberation Serif",serif' font-size="12.8" text-anchor="middle" fill="#000" transform="rotate(0.03 1082.1 618.9)" filter="url(#bt)" stroke="#000" stroke-width=".25">10</text>
<text x="1139" y="618.9" font-family='"Liberation Serif",serif' font-size="12.8" text-anchor="middle" fill="#000" transform="rotate(0.03 1139 618.9)" filter="url(#bt)" stroke="#000" stroke-width=".25">20</text>
<text x="1195.8" y="618.9" font-family='"Liberation Serif",serif' font-size="12.8" text-anchor="middle" fill="#000" transform="rotate(0.03 1195.8 618.9)" filter="url(#bt)" stroke="#000" stroke-width=".25">30</text>
<text x="1252.7" y="618.9" font-family='"Liberation Serif",serif' font-size="12.8" text-anchor="middle" fill="#000" transform="rotate(0.03 1252.7 618.9)" filter="url(#bt)" stroke="#000" stroke-width=".25">40</text>
<text x="1309.6" y="618.9" font-family='"Liberation Serif",serif' font-size="12.8" text-anchor="middle" fill="#000" transform="rotate(0.03 1309.6 618.9)" filter="url(#bt)" stroke="#000" stroke-width=".25">50</text>
<text x="1021" y="609.3" font-family='"Liberation Serif",serif' font-size="12.8" text-anchor="end" fill="#000" transform="rotate(0.03 1021 609.3)" filter="url(#bt)" stroke="#000" stroke-width=".25">0</text>
<text x="1021" y="526.5" font-family='"Liberation Serif",serif' font-size="12.8" text-anchor="end" fill="#000" transform="rotate(0.03 1021 526.5)" filter="url(#bt)" stroke="#000" stroke-width=".25">50</text>
<text x="1021" y="443.7" font-family='"Liberation Serif",serif' font-size="12.8" text-anchor="end" fill="#000" transform="rotate(0.03 1021 443.7)" filter="url(#bt)" stroke="#000" stroke-width=".25">100</text>
<text x="1021" y="361" font-family='"Liberation Serif",serif' font-size="12.8" text-anchor="end" fill="#000" transform="rotate(0.03 1021 361)" filter="url(#bt)" stroke="#000" stroke-width=".25">150</text>
<text x="1021" y="278.2" font-family='"Liberation Serif",serif' font-size="12.8" text-anchor="end" fill="#000" transform="rotate(0.03 1021 278.2)" filter="url(#bt)" stroke="#000" stroke-width=".25">200</text>
<text x="1167.9" y="632.8" font-family='"Liberation Serif",serif' font-size="12.8" text-anchor="middle" fill="#000" transform="rotate(0.03 1167.9 632.8)" filter="url(#bt)" stroke="#000" stroke-width=".3">Time (ns)</text>
<text x="996.5" y="438.2" font-family='"Liberation Serif",serif' font-size="13.2" text-anchor="middle" fill="#000" transform="rotate(-90 996.5 438.2)" filter="url(#bt)" stroke="#000" stroke-width=".4">Number of Residues</text>
<text x="1527.5" y="237.8" font-family='"Liberation Serif",serif' font-size="19.0" text-anchor="middle" fill="#000" textLength="162" lengthAdjust="spacingAndGlyphs" transform="rotate(0.03 1527.5 237.8)" filter="url(#bt)" stroke="#000" stroke-width=".5">Secondary Structure</text>
<text x="1527.5" y="257.8" font-family='"Liberation Serif",serif' font-size="13.2" text-anchor="middle" fill="#000" textLength="268.9" lengthAdjust="spacingAndGlyphs" transform="rotate(0.03 1527.5 257.8)" filter="url(#bt)" stroke="#000" stroke-width=".3" xml:space="preserve">Structure = A-Helix + B-Sheet + B-Bridge + Turn</text>
<text x="1384" y="619.5" font-family='"Liberation Serif",serif' font-size="12.8" text-anchor="middle" fill="#000" transform="rotate(0.03 1384 619.5)" filter="url(#bt)" stroke="#000" stroke-width=".25">0</text>
<text x="1441.4" y="619.5" font-family='"Liberation Serif",serif' font-size="12.8" text-anchor="middle" fill="#000" transform="rotate(0.03 1441.4 619.5)" filter="url(#bt)" stroke="#000" stroke-width=".25">10</text>
<text x="1498.7" y="619.5" font-family='"Liberation Serif",serif' font-size="12.8" text-anchor="middle" fill="#000" transform="rotate(0.03 1498.7 619.5)" filter="url(#bt)" stroke="#000" stroke-width=".25">20</text>
<text x="1556.1" y="619.5" font-family='"Liberation Serif",serif' font-size="12.8" text-anchor="middle" fill="#000" transform="rotate(0.03 1556.1 619.5)" filter="url(#bt)" stroke="#000" stroke-width=".25">30</text>
<text x="1613.4" y="619.5" font-family='"Liberation Serif",serif' font-size="12.8" text-anchor="middle" fill="#000" transform="rotate(0.03 1613.4 619.5)" filter="url(#bt)" stroke="#000" stroke-width=".25">40</text>
<text x="1670.8" y="619.5" font-family='"Liberation Serif",serif' font-size="12.8" text-anchor="middle" fill="#000" transform="rotate(0.03 1670.8 619.5)" filter="url(#bt)" stroke="#000" stroke-width=".25">50</text>
<text x="1379.8" y="609.9" font-family='"Liberation Serif",serif' font-size="12.8" text-anchor="end" fill="#000" transform="rotate(0.03 1379.8 609.9)" filter="url(#bt)" stroke="#000" stroke-width=".25">0</text>
<text x="1379.8" y="526.2" font-family='"Liberation Serif",serif' font-size="12.8" text-anchor="end" fill="#000" transform="rotate(0.03 1379.8 526.2)" filter="url(#bt)" stroke="#000" stroke-width=".25">50</text>
<text x="1379.8" y="442.5" font-family='"Liberation Serif",serif' font-size="12.8" text-anchor="end" fill="#000" transform="rotate(0.03 1379.8 442.5)" filter="url(#bt)" stroke="#000" stroke-width=".25">100</text>
<text x="1379.8" y="358.9" font-family='"Liberation Serif",serif' font-size="12.8" text-anchor="end" fill="#000" transform="rotate(0.03 1379.8 358.9)" filter="url(#bt)" stroke="#000" stroke-width=".25">150</text>
<text x="1379.8" y="275.2" font-family='"Liberation Serif",serif' font-size="12.8" text-anchor="end" fill="#000" transform="rotate(0.03 1379.8 275.2)" filter="url(#bt)" stroke="#000" stroke-width=".25">200</text>
<text x="1527.9" y="633.4" font-family='"Liberation Serif",serif' font-size="12.8" text-anchor="middle" fill="#000" transform="rotate(0.03 1527.9 633.4)" filter="url(#bt)" stroke="#000" stroke-width=".3">Time (ns)</text>
<text x="1354.5" y="437" font-family='"Liberation Serif",serif' font-size="13.2" text-anchor="middle" fill="#000" transform="rotate(-90 1354.5 437)" filter="url(#bt)" stroke="#000" stroke-width=".4">Number of Residues</text>
<text x="1710" y="308.5" font-family='"Liberation Serif",serif' font-size="12.9" text-anchor="start" fill="#000" transform="rotate(0.03 1710 308.5)" filter="url(#bt)" stroke="#000" stroke-width=".6">Structure</text>
<text x="1710" y="322.3" font-family='"Liberation Serif",serif' font-size="12.9" text-anchor="start" fill="#000" transform="rotate(0.03 1710 322.3)" filter="url(#bt)" stroke="#000" stroke-width=".6">Coil</text>
<text x="1710" y="336.5" font-family='"Liberation Serif",serif' font-size="12.9" text-anchor="start" fill="#000" transform="rotate(0.03 1710 336.5)" filter="url(#bt)" stroke="#000" stroke-width=".6">B-Sheet</text>
<text x="1710" y="351.4" font-family='"Liberation Serif",serif' font-size="12.9" text-anchor="start" fill="#000" transform="rotate(0.03 1710 351.4)" filter="url(#bt)" stroke="#000" stroke-width=".6">B-Bridge</text>
<text x="1710" y="367.6" font-family='"Liberation Serif",serif' font-size="12.9" text-anchor="start" fill="#000" transform="rotate(0.03 1710 367.6)" filter="url(#bt)" stroke="#000" stroke-width=".6">Bend</text>
<text x="1710" y="382" font-family='"Liberation Serif",serif' font-size="12.9" text-anchor="start" fill="#000" transform="rotate(0.03 1710 382)" filter="url(#bt)" stroke="#000" stroke-width=".6">Turn</text>
<text x="1710" y="396.1" font-family='"Liberation Serif",serif' font-size="12.9" text-anchor="start" fill="#000" transform="rotate(0.03 1710 396.1)" filter="url(#bt)" stroke="#000" stroke-width=".6">A-Helix</text>
<text x="1710" y="410.3" font-family='"Liberation Serif",serif' font-size="12.9" text-anchor="start" fill="#000" transform="rotate(0.03 1710 410.3)" filter="url(#bt)" stroke="#000" stroke-width=".6">5-Helix</text>
<text x="1710" y="424.2" font-family='"Liberation Serif",serif' font-size="12.9" text-anchor="start" fill="#000" transform="rotate(0.03 1710 424.2)" filter="url(#bt)" stroke="#000" stroke-width=".6">3-Helix</text>
</g>
</svg></body></html>
